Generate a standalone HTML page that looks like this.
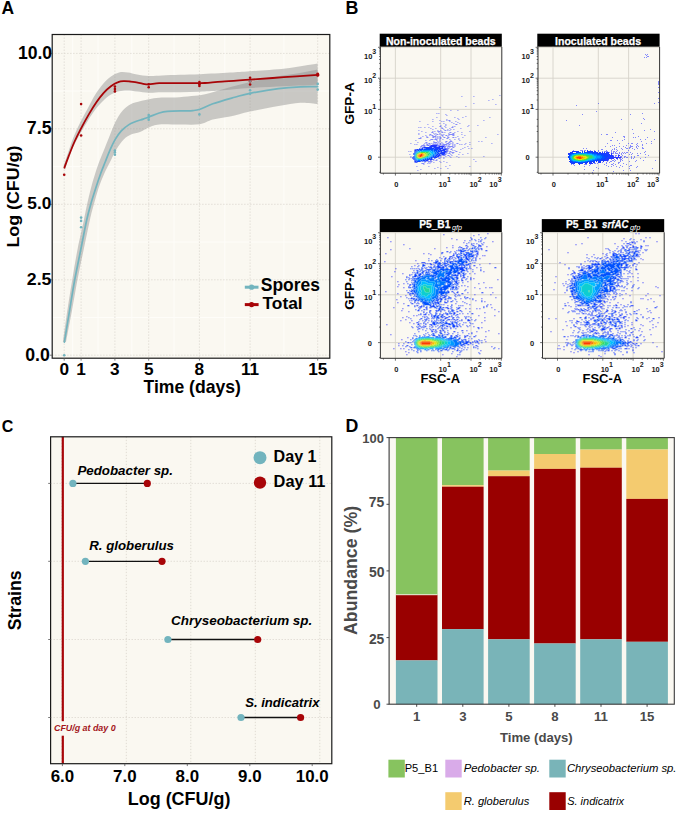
<!DOCTYPE html>
<html><head><meta charset="utf-8"><style>
html,body{margin:0;padding:0;background:#fff;}
svg{display:block;font-family:"Liberation Sans", sans-serif;}
</style></head><body>
<svg width="685" height="824" viewBox="0 0 685 824">
<rect width="685" height="824" fill="#fff"/>
<text x="1.5" y="13.6" font-size="17.46" font-weight="bold" fill="#000">A</text>
<rect x="52.2" y="34.5" width="277.6" height="323.7" fill="#faf8f1"/>
<path d="M52.2,317.5H329.8M52.2,242.0H329.8M52.2,166.6H329.8M52.2,91.1H329.8M72.7,34.5V358.2M98.0,34.5V358.2M131.8,34.5V358.2M174.1,34.5V358.2M224.8,34.5V358.2M283.9,34.5V358.2" stroke="#fefdf9" stroke-width="1" fill="none"/>
<path d="M52.2,355.2H329.8M52.2,279.8H329.8M52.2,204.3H329.8M52.2,128.8H329.8M52.2,53.4H329.8M64.2,34.5V358.2M81.1,34.5V358.2M114.9,34.5V358.2M148.7,34.5V358.2M199.4,34.5V358.2M250.1,34.5V358.2M317.7,34.5V358.2" stroke="#dcd8d0" stroke-width="0.9" stroke-dasharray="1.3,1.7" fill="none"/>
<path d="M63.6,166.0 C64.3,163.8 66.4,157.6 68.0,153.0 C69.6,148.4 71.0,143.5 73.0,138.5 C75.0,133.5 77.5,128.1 80.0,123.0 C82.5,117.9 85.5,112.7 88.0,108.0 C90.5,103.3 92.5,99.0 95.0,95.0 C97.5,91.0 100.3,87.1 103.0,84.0 C105.7,80.9 108.3,78.4 111.0,76.5 C113.7,74.6 116.3,73.2 119.1,72.5 C121.9,71.8 125.0,72.2 128.0,72.5 C131.0,72.8 133.5,73.9 137.0,74.5 C140.5,75.1 144.6,75.8 148.8,76.0 C153.0,76.2 156.8,75.7 162.0,75.5 C167.2,75.3 173.7,75.0 180.0,74.8 C186.3,74.6 191.7,74.6 200.0,74.2 C208.3,73.8 221.7,73.0 230.0,72.5 C238.3,72.0 240.8,71.9 250.0,71.2 C259.2,70.5 274.1,69.8 285.4,68.5 C296.7,67.2 312.2,64.3 317.6,63.5 L317.6,84.8 C312.2,85.0 296.3,85.8 285.0,86.3 C273.7,86.8 260.8,87.3 250.0,88.0 C239.2,88.7 228.4,90.0 220.0,90.6 C211.6,91.2 206.4,91.5 199.7,91.8 C193.0,92.1 186.3,92.1 180.0,92.2 C173.7,92.3 167.2,92.2 162.0,92.3 C156.8,92.4 153.0,92.9 148.8,92.8 C144.6,92.7 140.6,91.9 137.0,91.5 C133.4,91.1 130.0,90.5 127.0,90.5 C124.0,90.5 121.7,90.6 119.0,91.3 C116.3,92.0 113.7,92.9 111.0,94.5 C108.3,96.1 105.7,98.4 103.0,101.0 C100.3,103.6 97.5,106.8 95.0,110.0 C92.5,113.2 90.5,116.5 88.0,120.5 C85.5,124.5 82.5,129.5 80.0,134.0 C77.5,138.5 75.0,143.3 73.0,147.5 C71.0,151.7 69.3,155.3 68.0,159.0 C66.7,162.7 65.8,167.8 65.3,169.5Z" fill="#8c8c8c" fill-opacity="0.44"/>
<path d="M62.9,342.0 C63.6,336.7 65.9,320.3 67.4,310.0 C69.0,299.7 70.5,290.3 72.2,280.0 C73.9,269.7 75.8,258.0 77.8,248.0 C79.8,238.0 82.3,227.4 83.9,220.0 C85.5,212.6 86.0,209.1 87.2,203.8 C88.4,198.5 89.7,193.1 91.0,188.0 C92.3,182.9 93.8,177.9 95.2,173.5 C96.6,169.1 97.9,165.4 99.4,161.3 C100.9,157.2 102.7,153.2 104.3,149.2 C105.9,145.1 107.6,141.1 109.2,137.0 C110.8,132.9 112.2,128.7 114.0,124.9 C115.8,121.1 117.8,117.0 120.0,114.0 C122.2,111.0 124.6,108.5 127.1,106.6 C129.6,104.7 131.5,103.8 135.1,102.6 C138.7,101.4 144.8,100.1 148.8,99.3 C152.8,98.5 154.8,98.0 159.2,97.7 C163.6,97.4 169.9,97.8 175.3,97.5 C180.7,97.2 186.5,96.6 191.4,96.1 C196.3,95.6 199.6,95.5 205.0,94.3 C210.4,93.1 216.2,91.0 223.8,89.0 C231.4,87.0 241.2,84.1 250.3,82.0 C259.4,79.9 270.2,77.7 278.5,76.2 C286.8,74.7 293.5,74.1 300.0,73.0 C306.5,71.9 314.7,70.1 317.6,69.5 L317.6,104.0 C314.7,103.8 306.9,102.4 300.4,102.7 C293.9,103.0 286.9,104.5 278.5,106.0 C270.1,107.5 258.1,109.8 250.0,111.5 C241.9,113.2 236.2,115.2 230.0,116.5 C223.8,117.8 217.9,118.3 212.8,119.6 C207.8,120.9 205.2,123.5 199.7,124.3 C194.2,125.1 186.8,124.6 180.0,124.6 C173.2,124.6 164.4,123.9 159.2,124.4 C154.0,124.9 152.0,126.1 148.8,127.4 C145.6,128.7 143.0,130.8 140.0,132.0 C137.0,133.2 133.7,133.4 131.0,134.6 C128.3,135.8 126.1,137.0 123.7,139.4 C121.3,141.8 118.7,145.5 116.5,149.2 C114.3,152.8 112.4,157.2 110.4,161.3 C108.4,165.4 106.3,169.1 104.3,173.5 C102.3,177.9 100.3,182.9 98.6,188.0 C96.9,193.1 95.5,198.5 94.0,203.8 C92.5,209.1 91.6,212.3 89.9,220.0 C88.2,227.7 85.7,240.0 83.6,250.0 C81.5,260.0 79.3,270.0 77.4,280.0 C75.5,290.0 74.0,299.7 72.1,310.0 C70.2,320.3 67.0,336.7 66.0,342.0Z" fill="#8c8c8c" fill-opacity="0.44"/>
<circle cx="64.2" cy="174.7" r="1.3" fill="#a80508"/>
<circle cx="81.1" cy="104.1" r="1.3" fill="#a80508"/>
<circle cx="81.1" cy="135.5" r="1.3" fill="#a80508"/>
<circle cx="114.9" cy="86.6" r="1.3" fill="#a80508"/>
<circle cx="114.9" cy="89.0" r="1.3" fill="#a80508"/>
<circle cx="114.9" cy="91.4" r="1.3" fill="#a80508"/>
<circle cx="148.7" cy="84.2" r="1.3" fill="#a80508"/>
<circle cx="148.7" cy="87.2" r="1.3" fill="#a80508"/>
<circle cx="199.4" cy="82.1" r="1.3" fill="#a80508"/>
<circle cx="199.4" cy="84.2" r="1.3" fill="#a80508"/>
<circle cx="199.4" cy="86.0" r="1.3" fill="#a80508"/>
<circle cx="250.1" cy="77.8" r="1.3" fill="#a80508"/>
<circle cx="250.1" cy="81.2" r="1.3" fill="#a80508"/>
<circle cx="250.1" cy="84.5" r="1.3" fill="#a80508"/>
<circle cx="317.7" cy="75.1" r="1.3" fill="#a80508"/>
<circle cx="317.7" cy="73.9" r="1.3" fill="#a80508"/>
<circle cx="64.2" cy="355.2" r="1.3" fill="#72b4be"/>
<circle cx="81.1" cy="217.6" r="1.3" fill="#72b4be"/>
<circle cx="81.1" cy="220.9" r="1.3" fill="#72b4be"/>
<circle cx="81.1" cy="227.2" r="1.3" fill="#72b4be"/>
<circle cx="114.9" cy="150.6" r="1.3" fill="#72b4be"/>
<circle cx="114.9" cy="152.4" r="1.3" fill="#72b4be"/>
<circle cx="114.9" cy="154.8" r="1.3" fill="#72b4be"/>
<circle cx="148.7" cy="115.0" r="1.3" fill="#72b4be"/>
<circle cx="148.7" cy="117.4" r="1.3" fill="#72b4be"/>
<circle cx="148.7" cy="119.8" r="1.3" fill="#72b4be"/>
<circle cx="199.4" cy="114.4" r="1.3" fill="#72b4be"/>
<circle cx="250.1" cy="80.6" r="1.3" fill="#72b4be"/>
<circle cx="250.1" cy="90.2" r="1.3" fill="#72b4be"/>
<circle cx="250.1" cy="93.8" r="1.3" fill="#72b4be"/>
<circle cx="317.7" cy="83.9" r="1.3" fill="#72b4be"/>
<circle cx="317.7" cy="89.6" r="1.3" fill="#72b4be"/>
<path d="M64.4,342.1 C65.2,336.9 67.8,321.4 69.5,311.0 C71.2,300.6 72.8,290.2 74.7,280.0 C76.6,269.8 78.7,260.0 80.7,250.0 C82.7,240.0 85.0,227.7 86.7,220.0 C88.4,212.3 89.4,209.1 90.9,203.8 C92.4,198.5 94.2,193.1 95.8,188.0 C97.4,182.9 99.1,177.9 100.7,173.5 C102.3,169.1 103.9,165.4 105.5,161.3 C107.1,157.2 108.8,152.8 110.4,149.2 C112.0,145.5 113.4,142.4 115.2,139.4 C117.0,136.4 119.1,133.3 121.3,130.9 C123.5,128.5 126.3,126.4 128.6,124.9 C130.9,123.4 132.7,122.8 135.1,121.8 C137.5,120.8 140.9,119.9 143.2,119.1 C145.5,118.3 146.1,118.0 148.8,117.0 C151.5,116.0 156.1,113.9 159.2,113.0 C162.3,112.1 163.3,111.8 167.3,111.4 C171.3,111.1 179.0,111.0 183.3,110.9 C187.6,110.8 190.2,110.9 193.0,110.6 C195.8,110.3 196.7,110.3 200.0,109.2 C203.3,108.1 207.0,105.8 212.8,103.8 C218.6,101.8 228.5,99.0 234.7,97.2 C240.9,95.5 242.7,94.7 250.0,93.3 C257.3,91.9 270.1,89.7 278.5,88.6 C286.9,87.5 293.9,87.1 300.4,86.8 C306.9,86.5 314.8,86.7 317.7,86.7" stroke="#72b4be" stroke-width="1.7" fill="none" stroke-linecap="round"/>
<path d="M64.4,167.7 C65.1,165.8 67.0,160.5 68.7,156.1 C70.4,151.7 72.5,146.1 74.6,141.5 C76.7,136.9 78.7,133.0 81.1,128.4 C83.5,123.8 86.5,118.3 89.1,113.9 C91.6,109.5 94.0,105.7 96.4,102.2 C98.8,98.7 101.3,95.5 103.7,92.8 C106.1,90.1 108.5,88.0 110.9,86.2 C113.3,84.4 116.0,82.9 118.2,82.1 C120.4,81.2 122.0,81.2 124.0,81.1 C126.0,81.0 128.2,81.3 130.0,81.5 C131.8,81.7 132.9,81.8 135.1,82.2 C137.3,82.6 140.9,83.4 143.2,83.8 C145.5,84.2 146.1,84.5 148.8,84.4 C151.5,84.3 154.8,83.4 159.2,83.2 C163.6,83.0 169.9,83.1 175.3,83.1 C180.7,83.1 186.5,83.2 191.4,83.2 C196.3,83.2 199.9,83.3 205.0,83.0 C210.1,82.7 214.5,82.1 222.0,81.6 C229.5,81.0 239.7,80.4 250.0,79.7 C260.3,79.0 272.5,78.0 283.8,77.2 C295.1,76.4 312.1,75.3 317.7,74.9" stroke="#a80508" stroke-width="1.8" fill="none" stroke-linecap="round"/>
<circle cx="317.7" cy="74.9" r="1.8" fill="#a80508"/>
<rect x="52.2" y="34.5" width="277.6" height="323.7" fill="none" stroke="#1a1a1a" stroke-width="1.2"/>
<path d="M64.2,358.2v2.4M81.1,358.2v2.4M114.9,358.2v2.4M148.7,358.2v2.4M199.4,358.2v2.4M250.1,358.2v2.4M317.7,358.2v2.4M52.2,355.2h-2.4M52.2,279.8h-2.4M52.2,204.3h-2.4M52.2,128.8h-2.4M52.2,53.4h-2.4" stroke="#555" stroke-width="0.8"/>
<text x="17.9" y="58.9" font-size="17.58" font-weight="bold" fill="#000">10.0</text>
<text x="26.8" y="133.7" font-size="17.8" font-weight="bold" fill="#000">7.5</text>
<text x="27.3" y="209.4" font-size="17.31" font-weight="bold" fill="#000">5.0</text>
<text x="26.8" y="284.9" font-size="17.4" font-weight="bold" fill="#000" textLength="24.61" lengthAdjust="spacingAndGlyphs">2.5</text>
<text x="25.2" y="360.7" font-size="17.71" font-weight="bold" fill="#000">0.0</text>
<text x="64.2" y="375.1" font-size="17.2" font-weight="bold" fill="#000" text-anchor="middle">0</text>
<text x="81.1" y="375.1" font-size="17.2" font-weight="bold" fill="#000" text-anchor="middle">1</text>
<text x="114.9" y="375.1" font-size="17.2" font-weight="bold" fill="#000" text-anchor="middle">3</text>
<text x="148.7" y="375.1" font-size="17.2" font-weight="bold" fill="#000" text-anchor="middle">5</text>
<text x="199.4" y="375.1" font-size="17.2" font-weight="bold" fill="#000" text-anchor="middle">8</text>
<text x="250.1" y="375.1" font-size="17.2" font-weight="bold" fill="#000" text-anchor="middle">11</text>
<text x="317.7" y="375.1" font-size="17.2" font-weight="bold" fill="#000" text-anchor="middle">15</text>
<text x="143.5" y="392.6" font-size="17.58" font-weight="bold" fill="#000">Time (days)</text>
<text x="0" y="0" font-size="17.85" font-weight="bold" fill="#000" transform="translate(18.95 247.60) scale(0.962 1) rotate(-90)">Log (CFU/g)</text>
<path d="M244.8,287.2H258.5" stroke="#72b4be" stroke-width="3"/>
<circle cx="251.6" cy="287.2" r="2.6" fill="#72b4be"/>
<path d="M244.8,304.6H258.6" stroke="#a80508" stroke-width="3"/>
<circle cx="251.6" cy="304.6" r="2.6" fill="#a80508"/>
<text x="260.8" y="291.3" font-size="17.47" font-weight="bold" fill="#000">Spores</text>
<text x="262.5" y="309.2" font-size="17.33" font-weight="bold" fill="#000">Total</text>
<text x="1.8" y="432.0" font-size="16.03" font-weight="bold" fill="#000">C</text>
<rect x="50.6" y="436.8" width="281.2" height="326.9" fill="#faf8f1"/>
<path d="M61.8,436.8V763.7M126.3,436.8V763.7M190.8,436.8V763.7M255.3,436.8V763.7M319.8,436.8V763.7M50.6,483.4H331.8M50.6,561.3H331.8M50.6,639.5H331.8M50.6,717.5H331.8" stroke="#dcd8d0" stroke-width="0.9" stroke-dasharray="1.3,1.7" fill="none"/>
<path d="M62.8,436.8V763.7" stroke="#a80508" stroke-width="2.2"/>
<rect x="53" y="721.2" width="64" height="14.5" fill="#faf8f1"/>
<text x="54.0" y="731.1" font-size="8.89" font-weight="bold" fill="#a3151b" font-style="italic">CFU/g at day 0</text>
<path d="M72.9,483.4H147.3" stroke="#111" stroke-width="1.3"/>
<circle cx="72.9" cy="483.4" r="3.6" fill="#72b4be"/>
<circle cx="147.3" cy="483.4" r="3.6" fill="#a80508"/>
<path d="M85.4,561.3H162.0" stroke="#111" stroke-width="1.3"/>
<circle cx="85.4" cy="561.3" r="3.6" fill="#72b4be"/>
<circle cx="162.0" cy="561.3" r="3.6" fill="#a80508"/>
<path d="M167.9,639.5H257.7" stroke="#111" stroke-width="1.3"/>
<circle cx="167.9" cy="639.5" r="3.6" fill="#72b4be"/>
<circle cx="257.7" cy="639.5" r="3.6" fill="#a80508"/>
<path d="M241.0,717.5H300.6" stroke="#111" stroke-width="1.3"/>
<circle cx="241.0" cy="717.5" r="3.6" fill="#72b4be"/>
<circle cx="300.6" cy="717.5" r="3.6" fill="#a80508"/>
<text x="77.4" y="474.5" font-size="13.34" font-weight="bold" fill="#000" font-style="italic">Pedobacter sp.</text>
<text x="89.2" y="550.1" font-size="13.27" font-weight="bold" fill="#000" font-style="italic">R. globerulus</text>
<text x="171.1" y="624.9" font-size="13.45" font-weight="bold" fill="#000" font-style="italic">Chryseobacterium sp.</text>
<text x="245.2" y="707.3" font-size="13.1" font-weight="bold" fill="#000" font-style="italic">S. indicatrix</text>
<circle cx="260" cy="457.7" r="6.5" fill="#72b4be"/>
<circle cx="260" cy="482.6" r="6.2" fill="#a80508"/>
<text x="273.6" y="462.0" font-size="16.13" font-weight="bold" fill="#000">Day 1</text>
<text x="273.6" y="486.8" font-size="16.37" font-weight="bold" fill="#000">Day 11</text>
<rect x="50.6" y="436.8" width="281.2" height="326.9" fill="none" stroke="#1a1a1a" stroke-width="1.2"/>
<path d="M62.4,763.7v2.4M124.8,763.7v2.4M187.3,763.7v2.4M249.8,763.7v2.4M312.2,763.7v2.4M50.6,483.4h-2.4M50.6,561.3h-2.4M50.6,639.5h-2.4M50.6,717.5h-2.4" stroke="#555" stroke-width="0.8"/>
<text x="62.4" y="782.0" font-size="16.9" font-weight="bold" fill="#000" text-anchor="middle">6.0</text>
<text x="124.8" y="782.0" font-size="16.9" font-weight="bold" fill="#000" text-anchor="middle">7.0</text>
<text x="187.3" y="782.0" font-size="16.9" font-weight="bold" fill="#000" text-anchor="middle">8.0</text>
<text x="249.8" y="782.0" font-size="16.9" font-weight="bold" fill="#000" text-anchor="middle">9.0</text>
<text x="312.2" y="782.0" font-size="16.9" font-weight="bold" fill="#000" text-anchor="middle">10.0</text>
<text x="127.8" y="805.3" font-size="17.96" font-weight="bold" fill="#000">Log (CFU/g)</text>
<text x="0" y="0" font-size="17.68" font-weight="bold" fill="#000" transform="translate(21.01 630.33) scale(1.062 1) rotate(-90)">Strains</text>
<text x="345.4" y="432.2" font-size="17.8" font-weight="bold" fill="#000">D</text>
<rect x="389.1" y="437.6" width="285.2" height="266.6" fill="#faf8f1"/>
<rect x="395.9" y="437.6" width="41.6" height="157.2" fill="#87c35f"/>
<rect x="395.9" y="594.8" width="41.6" height="65.6" fill="#990000"/>
<rect x="395.9" y="660.4" width="41.6" height="43.8" fill="#79b4b8"/>
<rect x="442.0" y="437.6" width="41.6" height="47.6" fill="#87c35f"/>
<rect x="442.0" y="485.2" width="41.6" height="1.5" fill="#f4cb6f"/>
<rect x="442.0" y="486.7" width="41.6" height="142.4" fill="#990000"/>
<rect x="442.0" y="629.1" width="41.6" height="75.1" fill="#79b4b8"/>
<rect x="488.1" y="437.6" width="41.6" height="33.0" fill="#87c35f"/>
<rect x="488.1" y="470.6" width="41.6" height="5.6" fill="#f4cb6f"/>
<rect x="488.1" y="476.2" width="41.6" height="163.1" fill="#990000"/>
<rect x="488.1" y="639.3" width="41.6" height="64.9" fill="#79b4b8"/>
<rect x="534.1" y="437.6" width="41.6" height="16.4" fill="#87c35f"/>
<rect x="534.1" y="454.0" width="41.6" height="14.9" fill="#f4cb6f"/>
<rect x="534.1" y="468.9" width="41.6" height="174.6" fill="#990000"/>
<rect x="534.1" y="643.5" width="41.6" height="60.7" fill="#79b4b8"/>
<rect x="580.2" y="437.6" width="41.6" height="12.0" fill="#87c35f"/>
<rect x="580.2" y="449.6" width="41.6" height="18.1" fill="#f4cb6f"/>
<rect x="580.2" y="467.7" width="41.6" height="171.6" fill="#990000"/>
<rect x="580.2" y="639.3" width="41.6" height="64.9" fill="#79b4b8"/>
<rect x="626.3" y="437.6" width="41.6" height="11.9" fill="#87c35f"/>
<rect x="626.3" y="449.5" width="41.6" height="49.4" fill="#f4cb6f"/>
<rect x="626.3" y="498.9" width="41.6" height="142.9" fill="#990000"/>
<rect x="626.3" y="641.8" width="41.6" height="62.4" fill="#79b4b8"/>
<rect x="395.9" y="594.2" width="41.6" height="1" fill="#e8efd8"/>
<rect x="389.1" y="437.6" width="285.2" height="266.6" fill="none" stroke="#3a3a3a" stroke-width="1.1"/>
<path d="M389.1,704.2h-2.6M389.1,637.6h-2.6M389.1,570.9h-2.6M389.1,504.3h-2.6M389.1,437.6h-2.6M416.7,704.2v2.6M462.8,704.2v2.6M508.9,704.2v2.6M554.9,704.2v2.6M601.0,704.2v2.6M647.1,704.2v2.6" stroke="#333" stroke-width="0.9"/>
<text x="362.3" y="443.0" font-size="12.97" font-weight="bold" fill="#4a4a4a">100</text>
<text x="368.8" y="506.9" font-size="13.94" font-weight="bold" fill="#4a4a4a">75</text>
<text x="368.9" y="576.7" font-size="13.98" font-weight="bold" fill="#4a4a4a">50</text>
<text x="368.9" y="644.0" font-size="13.84" font-weight="bold" fill="#4a4a4a">25</text>
<text x="373.2" y="709.4" font-size="13.2" font-weight="bold" fill="#4a4a4a" textLength="7.38" lengthAdjust="spacingAndGlyphs">0</text>
<text x="416.7" y="720.9" font-size="13.2" font-weight="bold" fill="#4a4a4a" text-anchor="middle">1</text>
<text x="462.8" y="720.9" font-size="13.2" font-weight="bold" fill="#4a4a4a" text-anchor="middle">3</text>
<text x="508.9" y="720.9" font-size="13.2" font-weight="bold" fill="#4a4a4a" text-anchor="middle">5</text>
<text x="554.9" y="720.9" font-size="13.2" font-weight="bold" fill="#4a4a4a" text-anchor="middle">8</text>
<text x="601.0" y="720.9" font-size="13.2" font-weight="bold" fill="#4a4a4a" text-anchor="middle">11</text>
<text x="647.1" y="720.9" font-size="13.2" font-weight="bold" fill="#4a4a4a" text-anchor="middle">15</text>
<text x="500.0" y="742.2" font-size="13.13" font-weight="bold" fill="#4a4a4a">Time (days)</text>
<text x="0" y="0" font-size="17.74" font-weight="bold" fill="#4a4a4a" transform="translate(356.87 634.94) scale(0.985 1) rotate(-90)">Abundance (%)</text>
<rect x="388.4" y="759.7" width="16.4" height="17.8" fill="#87c35f"/>
<rect x="445.3" y="759.7" width="16.4" height="17.8" fill="#d9abe9"/>
<rect x="549.3" y="759.7" width="16.4" height="17.8" fill="#79b4b8"/>
<rect x="445.3" y="792.2" width="16.4" height="17.8" fill="#f4cb6f"/>
<rect x="549.3" y="792.2" width="16.4" height="17.8" fill="#990000"/>
<text x="404.7" y="772.0" font-size="11.14" font-weight="normal" fill="#000">P5_B1</text>
<text x="463.7" y="772.0" font-size="11.33" font-weight="normal" fill="#000" font-style="italic">Pedobacter sp.</text>
<text x="566.9" y="772.0" font-size="11.27" font-weight="normal" fill="#000" font-style="italic">Chryseobacterium sp.</text>
<text x="463.7" y="804.6" font-size="11.14" font-weight="normal" fill="#000" font-style="italic">R. globerulus</text>
<text x="567.2" y="804.6" font-size="10.99" font-weight="normal" fill="#000" font-style="italic">S. indicatrix</text>
<text x="345.4" y="13.7" font-size="17.87" font-weight="bold" fill="#000">B</text>
<filter id="bl" x="-5%" y="-5%" width="110%" height="110%"><feGaussianBlur stdDeviation="0.38"/></filter>
<rect x="379.7" y="33.7" width="122.1" height="13.2" fill="#000"/>
<rect x="380.4" y="46.9" width="121.4" height="126.3" fill="#faf8f1"/>
<text x="386.0" y="44.7" font-size="10.51" font-weight="bold" fill="#fff" stroke="#fff" stroke-width="0.25">Non-inoculated beads</text>
<path d="M395.4,46.9V173.2M440.7,46.9V173.2M471.0,46.9V173.2M380.4,47.3H501.8M380.4,78.2H501.8M380.4,109.4H501.8M380.4,157.2H501.8" stroke="#d6d2cb" stroke-width="0.9" fill="none"/>
<g filter="url(#bl)">
<path d="M499.4 94.9h1v1h-1zM461.4 95.9h1v1h-1zM473.4 95.9h1v1h-1zM492.4 98.9h1v1h-1zM488.4 99.9h1v1h-1zM473.4 102.9h1v1h-1zM495.4 103.9h1v1h-1zM465.4 105.9h1v1h-1zM439.4 106.9h1v1h-1zM450.4 109.9h1v1h-1zM457.4 109.9h1v1h-1zM436.4 112.9h1v1h-1zM438.4 112.9h1v1h-1zM445.4 113.9h1v1h-1zM446.4 114.9h1v1h-1zM465.4 115.9h1v1h-1zM436.4 116.9h1v1h-1zM454.4 116.9h1v1h-1zM462.4 116.9h1v1h-1zM489.4 116.9h1v1h-1zM457.4 117.9h1v1h-1zM432.4 118.9h1v1h-1zM446.4 118.9h1v1h-1zM458.4 118.9h1v1h-1zM439.4 119.9h1v1h-1zM446.4 119.9h1v1h-1zM448.4 119.9h2v1h-2zM483.4 119.9h1v1h-1zM419.4 120.9h1v1h-1zM432.4 120.9h1v1h-1zM441.4 120.9h1v1h-1zM443.4 120.9h1v1h-1zM449.4 120.9h1v1h-1zM455.4 120.9h1v1h-1zM451.4 121.9h1v1h-1zM457.4 121.9h1v1h-1zM439.4 122.9h1v1h-1zM443.4 122.9h1v1h-1zM453.4 122.9h1v1h-1zM459.4 122.9h1v1h-1zM427.4 123.9h1v1h-1zM445.4 123.9h1v1h-1zM455.4 123.9h2v1h-2zM440.4 124.9h1v1h-1zM445.4 124.9h1v1h-1zM468.4 124.9h1v1h-1zM477.4 124.9h1v1h-1zM432.4 125.9h1v1h-1zM439.4 125.9h2v1h-2zM444.4 125.9h1v1h-1zM452.4 125.9h1v1h-1zM454.4 125.9h1v1h-1zM467.4 125.9h1v1h-1zM418.4 126.9h1v1h-1zM420.4 126.9h1v1h-1zM424.4 126.9h1v1h-1zM428.4 126.9h1v1h-1zM441.4 126.9h1v1h-1zM445.4 126.9h1v1h-1zM451.4 126.9h2v1h-2zM430.4 127.9h1v1h-1zM435.4 127.9h1v1h-1zM441.4 127.9h2v1h-2zM449.4 127.9h1v1h-1zM460.4 127.9h1v1h-1zM432.4 128.9h1v1h-1zM443.4 128.9h1v1h-1zM447.4 128.9h1v1h-1zM450.4 128.9h1v1h-1zM453.4 128.9h1v1h-1zM418.4 129.9h1v1h-1zM437.4 129.9h1v1h-1zM440.4 129.9h1v1h-1zM444.4 129.9h2v1h-2zM447.4 129.9h1v1h-1zM449.4 129.9h1v1h-1zM421.4 130.9h1v1h-1zM432.4 130.9h1v1h-1zM434.4 130.9h1v1h-1zM437.4 130.9h3v1h-3zM441.4 130.9h1v1h-1zM457.4 130.9h1v1h-1zM469.4 130.9h1v1h-1zM425.4 131.9h1v1h-1zM431.4 131.9h2v1h-2zM438.4 131.9h1v1h-1zM441.4 131.9h2v1h-2zM444.4 131.9h1v1h-1zM449.4 131.9h2v1h-2zM454.4 131.9h1v1h-1zM461.4 131.9h1v1h-1zM418.4 132.9h1v1h-1zM433.4 132.9h1v1h-1zM435.4 132.9h1v1h-1zM439.4 132.9h1v1h-1zM448.4 132.9h1v1h-1zM452.4 132.9h2v1h-2zM418.4 133.9h1v1h-1zM429.4 133.9h2v1h-2zM434.4 133.9h1v1h-1zM436.4 133.9h2v1h-2zM439.4 133.9h1v1h-1zM441.4 133.9h1v1h-1zM443.4 133.9h1v1h-1zM448.4 133.9h6v1h-6zM461.4 133.9h1v1h-1zM497.4 133.9h1v1h-1zM425.4 134.9h1v1h-1zM429.4 134.9h1v1h-1zM431.4 134.9h2v1h-2zM435.4 134.9h1v1h-1zM441.4 134.9h2v1h-2zM445.4 134.9h2v1h-2zM448.4 134.9h1v1h-1zM452.4 134.9h2v1h-2zM464.4 134.9h1v1h-1zM422.4 135.9h1v1h-1zM426.4 135.9h1v1h-1zM432.4 135.9h4v1h-4zM437.4 135.9h1v1h-1zM439.4 135.9h1v1h-1zM442.4 135.9h1v1h-1zM447.4 135.9h1v1h-1zM457.4 135.9h1v1h-1zM420.4 136.9h1v1h-1zM426.4 136.9h2v1h-2zM432.4 136.9h2v1h-2zM435.4 136.9h1v1h-1zM437.4 136.9h1v1h-1zM439.4 136.9h2v1h-2zM443.4 136.9h2v1h-2zM447.4 136.9h2v1h-2zM452.4 136.9h2v1h-2zM455.4 136.9h1v1h-1zM462.4 136.9h1v1h-1zM485.4 136.9h1v1h-1zM418.4 137.9h3v1h-3zM435.4 137.9h1v1h-1zM437.4 137.9h1v1h-1zM439.4 137.9h2v1h-2zM446.4 137.9h2v1h-2zM458.4 137.9h1v1h-1zM430.4 138.9h3v1h-3zM434.4 138.9h3v1h-3zM439.4 138.9h1v1h-1zM442.4 138.9h1v1h-1zM449.4 138.9h1v1h-1zM454.4 138.9h1v1h-1zM458.4 138.9h1v1h-1zM415.4 139.9h1v1h-1zM425.4 139.9h1v1h-1zM429.4 139.9h1v1h-1zM436.4 139.9h1v1h-1zM439.4 139.9h1v1h-1zM450.4 139.9h1v1h-1zM459.4 139.9h1v1h-1zM433.4 140.9h1v1h-1zM437.4 140.9h1v1h-1zM439.4 140.9h1v1h-1zM445.4 140.9h2v1h-2zM449.4 140.9h3v1h-3zM478.4 140.9h1v1h-1zM481.4 140.9h1v1h-1zM417.4 141.9h1v1h-1zM425.4 141.9h2v1h-2zM433.4 141.9h4v1h-4zM438.4 141.9h1v1h-1zM441.4 141.9h1v1h-1zM445.4 141.9h1v1h-1zM448.4 141.9h2v1h-2zM452.4 141.9h1v1h-1zM469.4 141.9h1v1h-1zM410.4 142.9h1v1h-1zM424.4 142.9h1v1h-1zM426.4 142.9h1v1h-1zM428.4 142.9h2v1h-2zM431.4 142.9h1v1h-1zM433.4 142.9h1v1h-1zM435.4 142.9h1v1h-1zM437.4 142.9h1v1h-1zM439.4 142.9h2v1h-2zM442.4 142.9h1v1h-1zM446.4 142.9h3v1h-3zM450.4 142.9h1v1h-1zM452.4 142.9h1v1h-1zM456.4 142.9h2v1h-2zM465.4 142.9h1v1h-1zM491.4 142.9h1v1h-1zM414.4 143.9h1v1h-1zM416.4 143.9h1v1h-1zM423.4 143.9h1v1h-1zM426.4 143.9h2v1h-2zM429.4 143.9h1v1h-1zM432.4 143.9h6v1h-6zM439.4 143.9h2v1h-2zM442.4 143.9h5v1h-5zM448.4 143.9h2v1h-2zM452.4 143.9h1v1h-1zM454.4 143.9h1v1h-1zM459.4 143.9h1v1h-1zM461.4 143.9h1v1h-1zM464.4 143.9h1v1h-1zM469.4 143.9h1v1h-1zM421.4 144.9h4v1h-4zM426.4 144.9h2v1h-2zM437.4 144.9h3v1h-3zM441.4 144.9h4v1h-4zM446.4 144.9h1v1h-1zM448.4 144.9h1v1h-1zM452.4 144.9h1v1h-1zM454.4 144.9h1v1h-1zM420.4 145.9h2v1h-2zM423.4 145.9h2v1h-2zM444.4 145.9h2v1h-2zM447.4 145.9h6v1h-6zM454.4 145.9h1v1h-1zM467.4 145.9h1v1h-1zM420.4 146.9h1v1h-1zM447.4 146.9h1v1h-1zM449.4 146.9h1v1h-1zM452.4 146.9h2v1h-2zM464.4 146.9h1v1h-1zM446.4 147.9h3v1h-3zM451.4 147.9h1v1h-1zM462.4 147.9h1v1h-1zM468.4 147.9h1v1h-1zM471.4 147.9h1v1h-1zM414.4 148.9h1v1h-1zM447.4 148.9h1v1h-1zM450.4 148.9h2v1h-2zM460.4 148.9h1v1h-1zM447.4 149.9h1v1h-1zM452.4 149.9h1v1h-1zM454.4 149.9h1v1h-1zM408.4 150.9h1v1h-1zM410.4 150.9h1v1h-1zM447.4 150.9h1v1h-1zM449.4 150.9h2v1h-2zM455.4 150.9h2v1h-2zM446.4 151.9h1v1h-1zM449.4 151.9h1v1h-1zM451.4 151.9h3v1h-3zM459.4 151.9h1v1h-1zM446.4 152.9h1v1h-1zM448.4 152.9h2v1h-2zM452.4 152.9h1v1h-1zM467.4 152.9h1v1h-1zM409.4 153.9h1v1h-1zM445.4 153.9h1v1h-1zM450.4 153.9h1v1h-1zM458.4 153.9h1v1h-1zM462.4 153.9h1v1h-1zM442.4 154.9h3v1h-3zM447.4 154.9h2v1h-2zM451.4 154.9h1v1h-1zM410.4 155.9h1v1h-1zM440.4 155.9h1v1h-1zM445.4 155.9h1v1h-1zM449.4 155.9h1v1h-1zM456.4 155.9h1v1h-1zM483.4 155.9h1v1h-1zM410.4 156.9h1v1h-1zM438.4 156.9h1v1h-1zM440.4 156.9h1v1h-1zM443.4 156.9h1v1h-1zM450.4 156.9h1v1h-1zM458.4 156.9h1v1h-1zM438.4 157.9h2v1h-2zM443.4 157.9h1v1h-1zM433.4 158.9h1v1h-1zM436.4 158.9h1v1h-1zM473.4 158.9h1v1h-1zM433.4 159.9h1v1h-1zM435.4 159.9h2v1h-2zM427.4 160.9h5v1h-5zM439.4 160.9h1v1h-1zM443.4 160.9h1v1h-1zM475.4 160.9h1v1h-1zM414.4 161.9h1v1h-1zM424.4 161.9h1v1h-1zM428.4 161.9h1v1h-1zM430.4 161.9h1v1h-1zM433.4 161.9h1v1h-1zM440.4 161.9h1v1h-1zM446.4 161.9h1v1h-1zM421.4 162.9h3v1h-3zM427.4 162.9h1v1h-1zM429.4 162.9h1v1h-1zM423.4 163.9h1v1h-1zM449.4 164.9h1v1h-1zM416.4 165.9h1v1h-1zM428.4 165.9h1v1h-1zM445.4 165.9h1v1h-1zM469.4 165.9h1v1h-1zM437.4 166.9h1v1h-1zM434.4 167.9h1v1h-1zM440.4 167.9h1v1h-1zM447.4 167.9h1v1h-1zM420.4 168.9h1v1h-1zM417.4 169.9h1v1h-1z" fill="#3c46ff" fill-opacity="0.62"/>
<path d="M428.4 144.9h1v1h-1zM430.4 144.9h7v1h-7zM436.4 145.9h1v1h-1zM438.4 145.9h6v1h-6zM422.4 146.9h1v1h-1zM444.4 146.9h1v1h-1zM445.4 147.9h1v1h-1zM415.4 148.9h1v1h-1zM446.4 148.9h1v1h-1zM446.4 149.9h1v1h-1zM446.4 150.9h1v1h-1zM445.4 151.9h1v1h-1zM444.4 153.9h1v1h-1zM440.4 154.9h1v1h-1zM412.4 157.9h1v1h-1zM432.4 158.9h1v1h-1zM430.4 159.9h1v1h-1zM425.4 160.9h1v1h-1zM415.4 161.9h1v1h-1z" fill="#2a35ff"/>
<path d="M429.4 145.9h7v1h-7zM423.4 146.9h9v1h-9zM433.4 146.9h7v1h-7zM441.4 146.9h2v1h-2zM419.4 147.9h1v1h-1zM421.4 147.9h2v1h-2zM424.4 147.9h1v1h-1zM434.4 147.9h9v1h-9zM444.4 147.9h1v1h-1zM416.4 148.9h2v1h-2zM438.4 148.9h3v1h-3zM442.4 148.9h4v1h-4zM414.4 149.9h2v1h-2zM439.4 149.9h6v1h-6zM414.4 150.9h1v1h-1zM440.4 150.9h2v1h-2zM443.4 150.9h3v1h-3zM440.4 151.9h5v1h-5zM413.4 152.9h1v1h-1zM439.4 152.9h6v1h-6zM438.4 153.9h2v1h-2zM441.4 153.9h3v1h-3zM437.4 154.9h3v1h-3zM436.4 155.9h3v1h-3zM412.4 156.9h1v1h-1zM433.4 156.9h4v1h-4zM434.4 157.9h1v1h-1zM413.4 158.9h1v1h-1zM429.4 158.9h3v1h-3zM414.4 159.9h1v1h-1zM425.4 159.9h3v1h-3zM414.4 160.9h2v1h-2zM420.4 160.9h1v1h-1zM422.4 160.9h1v1h-1zM424.4 160.9h1v1h-1zM416.4 161.9h1v1h-1z" fill="#1a3bff"/>
<path d="M425.4 147.9h9v1h-9zM418.4 148.9h5v1h-5zM433.4 148.9h5v1h-5zM416.4 149.9h1v1h-1zM437.4 149.9h2v1h-2zM415.4 150.9h1v1h-1zM437.4 150.9h3v1h-3zM414.4 151.9h1v1h-1zM438.4 151.9h1v1h-1zM437.4 152.9h2v1h-2zM413.4 153.9h1v1h-1zM436.4 153.9h2v1h-2zM435.4 154.9h2v1h-2zM413.4 155.9h1v1h-1zM434.4 155.9h2v1h-2zM413.4 156.9h1v1h-1zM432.4 156.9h1v1h-1zM413.4 157.9h1v1h-1zM430.4 157.9h2v1h-2zM414.4 158.9h1v1h-1zM426.4 158.9h3v1h-3zM415.4 159.9h1v1h-1zM422.4 159.9h3v1h-3zM416.4 160.9h4v1h-4z" fill="#0a41ff"/>
<path d="M423.4 148.9h10v1h-10zM417.4 149.9h2v1h-2zM433.4 149.9h4v1h-4zM435.4 150.9h2v1h-2zM436.4 151.9h2v1h-2zM414.4 152.9h1v1h-1zM436.4 152.9h1v1h-1zM435.4 153.9h1v1h-1zM434.4 154.9h1v1h-1zM432.4 155.9h2v1h-2zM430.4 156.9h2v1h-2zM414.4 157.9h1v1h-1zM428.4 157.9h2v1h-2zM424.4 158.9h2v1h-2zM416.4 159.9h1v1h-1zM420.4 159.9h2v1h-2z" fill="#0051ff"/>
<path d="M419.4 149.9h3v1h-3zM430.4 149.9h3v1h-3zM416.4 150.9h1v1h-1zM433.4 150.9h2v1h-2zM415.4 151.9h1v1h-1zM434.4 151.9h2v1h-2zM434.4 152.9h2v1h-2zM414.4 153.9h1v1h-1zM434.4 153.9h1v1h-1zM414.4 154.9h1v1h-1zM432.4 154.9h2v1h-2zM414.4 155.9h1v1h-1zM431.4 155.9h1v1h-1zM414.4 156.9h1v1h-1zM429.4 156.9h1v1h-1zM426.4 157.9h2v1h-2zM415.4 158.9h1v1h-1zM422.4 158.9h2v1h-2zM417.4 159.9h3v1h-3z" fill="#0076ff"/>
<path d="M422.4 149.9h8v1h-8zM417.4 150.9h1v1h-1zM431.4 150.9h2v1h-2zM416.4 151.9h1v1h-1zM433.4 151.9h1v1h-1zM415.4 152.9h1v1h-1zM433.4 152.9h1v1h-1zM432.4 153.9h2v1h-2zM431.4 154.9h1v1h-1zM430.4 155.9h1v1h-1zM428.4 156.9h1v1h-1zM415.4 157.9h1v1h-1zM424.4 157.9h2v1h-2zM416.4 158.9h1v1h-1zM421.4 158.9h1v1h-1z" fill="#009aff"/>
<path d="M418.4 150.9h2v1h-2zM429.4 150.9h2v1h-2zM430.4 151.9h3v1h-3zM431.4 152.9h2v1h-2zM415.4 153.9h1v1h-1zM431.4 153.9h1v1h-1zM430.4 154.9h1v1h-1zM429.4 155.9h1v1h-1zM415.4 156.9h1v1h-1zM426.4 156.9h2v1h-2zM423.4 157.9h1v1h-1zM417.4 158.9h4v1h-4z" fill="#00bfff"/>
<path d="M420.4 150.9h9v1h-9zM417.4 151.9h1v1h-1zM429.4 151.9h1v1h-1zM430.4 152.9h1v1h-1zM429.4 153.9h2v1h-2zM415.4 154.9h1v1h-1zM429.4 154.9h1v1h-1zM415.4 155.9h1v1h-1zM428.4 155.9h1v1h-1zM425.4 156.9h1v1h-1zM416.4 157.9h1v1h-1zM422.4 157.9h1v1h-1z" fill="#0eced1"/>
<path d="M418.4 151.9h1v1h-1zM428.4 151.9h1v1h-1zM416.4 152.9h1v1h-1zM428.4 152.9h2v1h-2zM428.4 154.9h1v1h-1zM426.4 155.9h2v1h-2zM424.4 156.9h1v1h-1zM417.4 157.9h1v1h-1zM421.4 157.9h1v1h-1z" fill="#21d598"/>
<path d="M419.4 151.9h1v1h-1zM425.4 151.9h3v1h-3zM417.4 152.9h1v1h-1zM427.4 152.9h1v1h-1zM416.4 153.9h1v1h-1zM427.4 153.9h2v1h-2zM427.4 154.9h1v1h-1zM425.4 155.9h1v1h-1zM416.4 156.9h1v1h-1zM423.4 156.9h1v1h-1zM418.4 157.9h1v1h-1zM420.4 157.9h1v1h-1z" fill="#34dd5e"/>
<path d="M420.4 151.9h5v1h-5zM426.4 152.9h1v1h-1zM426.4 153.9h1v1h-1zM416.4 154.9h1v1h-1zM426.4 154.9h1v1h-1zM416.4 155.9h1v1h-1zM424.4 155.9h1v1h-1zM422.4 156.9h1v1h-1zM419.4 157.9h1v1h-1z" fill="#62e237"/>
<path d="M418.4 152.9h1v1h-1zM424.4 152.9h2v1h-2zM425.4 153.9h1v1h-1zM425.4 154.9h1v1h-1zM417.4 156.9h1v1h-1zM421.4 156.9h1v1h-1z" fill="#a4e31f"/>
<path d="M419.4 152.9h1v1h-1zM423.4 152.9h1v1h-1zM417.4 153.9h1v1h-1zM424.4 153.9h1v1h-1zM424.4 154.9h1v1h-1zM417.4 155.9h1v1h-1zM423.4 155.9h1v1h-1zM418.4 156.9h1v1h-1zM420.4 156.9h1v1h-1z" fill="#e6e507"/>
<path d="M420.4 152.9h3v1h-3zM418.4 153.9h1v1h-1zM423.4 153.9h1v1h-1zM417.4 154.9h1v1h-1zM423.4 154.9h1v1h-1zM422.4 155.9h1v1h-1zM419.4 156.9h1v1h-1z" fill="#fbba00"/>
<path d="M419.4 153.9h1v1h-1zM422.4 153.9h1v1h-1zM418.4 154.9h1v1h-1zM422.4 154.9h1v1h-1zM418.4 155.9h1v1h-1zM421.4 155.9h1v1h-1z" fill="#fc7b00"/>
<path d="M420.4 153.9h2v1h-2zM419.4 154.9h3v1h-3zM419.4 155.9h2v1h-2z" fill="#fe3d00"/>
</g>
<path d="M380.4,46.9V173.2H501.8V46.9" stroke="#333" stroke-width="1" fill="none"/>
<path d="M380.4,47.3h-2.4M380.4,78.2h-2.4M380.4,109.4h-2.4M380.4,157.2h-2.4M380.4,68.8h-1.3M380.4,63.4h-1.3M380.4,59.5h-1.3M380.4,56.5h-1.3M380.4,54.0h-1.3M380.4,51.9h-1.3M380.4,50.1h-1.3M380.4,48.5h-1.3M380.4,100.0h-1.3M380.4,94.6h-1.3M380.4,90.7h-1.3M380.4,87.7h-1.3M380.4,85.2h-1.3M380.4,83.1h-1.3M380.4,81.3h-1.3M380.4,79.7h-1.3M380.4,119.4h-1.3M380.4,126.2h-1.3M380.4,131.5h-1.3M380.4,141.7h-1.3M380.4,172.3h-1.3M395.4,173.2v2.4M440.7,173.2v2.4M471.0,173.2v2.4M501.3,173.2v2.4M449.8,173.2v1.3M455.2,173.2v1.3M458.9,173.2v1.3M461.9,173.2v1.3M464.3,173.2v1.3M466.3,173.2v1.3M468.1,173.2v1.3M469.6,173.2v1.3M480.1,173.2v1.3M485.5,173.2v1.3M489.2,173.2v1.3M492.2,173.2v1.3M494.6,173.2v1.3M496.6,173.2v1.3M498.4,173.2v1.3M499.9,173.2v1.3M383.4,173.2v1.3M410.4,173.2v1.3M420.4,173.2v1.3M426.4,173.2v1.3M431.4,173.2v1.3M435.4,173.2v1.3" stroke="#333" stroke-width="0.7"/>
<text x="364.0" y="58.6" font-size="7.5" font-weight="bold" fill="#1a1a1a">10<tspan font-size="7" dy="-5">3</tspan></text>
<text x="364.0" y="83.1" font-size="7.5" font-weight="bold" fill="#1a1a1a">10<tspan font-size="7" dy="-5">2</tspan></text>
<text x="364.0" y="114.2" font-size="7.5" font-weight="bold" fill="#1a1a1a">10<tspan font-size="7" dy="-5">1</tspan></text>
<text x="367.8" y="160.3" font-size="7.5" font-weight="bold" fill="#1a1a1a">0</text>
<text x="394.2" y="186.5" font-size="7.5" font-weight="bold" fill="#1a1a1a">0</text>
<text x="438.6" y="186.5" font-size="7.5" font-weight="bold" fill="#1a1a1a">10<tspan font-size="7" dy="-5">1</tspan></text>
<text x="469.4" y="186.5" font-size="7.5" font-weight="bold" fill="#1a1a1a">10<tspan font-size="7" dy="-5">2</tspan></text>
<text x="489.3" y="186.5" font-size="7.5" font-weight="bold" fill="#1a1a1a">10<tspan font-size="7" dy="-5">3</tspan></text>
<text x="0" y="0" font-size="13.54" font-weight="bold" fill="#000" transform="translate(353.56 124.44) scale(1.002 1) rotate(-90)">GFP-A</text>
<rect x="537.3" y="33.7" width="122.3" height="13.2" fill="#000"/>
<rect x="538.0" y="46.9" width="121.6" height="126.3" fill="#faf8f1"/>
<text x="555.1" y="44.7" font-size="10.52" font-weight="bold" fill="#fff" stroke="#fff" stroke-width="0.25">Inoculated beads</text>
<path d="M553.0,46.9V173.2M598.3,46.9V173.2M628.6,46.9V173.2M538.0,47.3H659.6M538.0,78.2H659.6M538.0,109.4H659.6M538.0,157.2H659.6" stroke="#d6d2cb" stroke-width="0.9" fill="none"/>
<g filter="url(#bl)">
<path d="M645.0 53.9h1v1h-1zM647.0 53.9h1v1h-1zM646.0 54.9h1v1h-1zM647.0 55.9h2v1h-2zM644.0 56.9h1v1h-1zM646.0 56.9h1v1h-1zM658.0 80.9h1v1h-1zM658.0 81.9h1v1h-1zM658.0 82.9h1v1h-1zM658.0 83.9h1v1h-1zM658.0 86.9h1v1h-1zM658.0 91.9h1v1h-1zM658.0 97.9h1v1h-1zM658.0 101.9h1v1h-1zM598.0 102.9h1v1h-1zM654.0 102.9h1v1h-1zM576.0 104.9h1v1h-1zM596.0 110.9h1v1h-1zM642.0 112.9h1v1h-1zM582.0 113.9h1v1h-1zM630.0 113.9h1v1h-1zM643.0 117.9h1v1h-1zM621.0 118.9h1v1h-1zM644.0 118.9h1v1h-1zM566.0 119.9h1v1h-1zM641.0 122.9h1v1h-1zM579.0 124.9h1v1h-1zM632.0 128.9h1v1h-1zM650.0 128.9h1v1h-1zM644.0 129.9h1v1h-1zM654.0 130.9h1v1h-1zM615.0 131.9h1v1h-1zM633.0 132.9h1v1h-1zM601.0 133.9h1v1h-1zM606.0 133.9h2v1h-2zM623.0 135.9h2v1h-2zM638.0 135.9h1v1h-1zM612.0 136.9h1v1h-1zM624.0 136.9h1v1h-1zM633.0 136.9h1v1h-1zM635.0 136.9h1v1h-1zM647.0 136.9h1v1h-1zM624.0 138.9h1v1h-1zM640.0 138.9h1v1h-1zM645.0 138.9h1v1h-1zM654.0 138.9h1v1h-1zM610.0 139.9h2v1h-2zM617.0 139.9h1v1h-1zM622.0 139.9h1v1h-1zM641.0 140.9h1v1h-1zM651.0 140.9h1v1h-1zM607.0 142.9h1v1h-1zM619.0 142.9h1v1h-1zM628.0 142.9h1v1h-1zM631.0 142.9h2v1h-2zM637.0 142.9h1v1h-1zM646.0 142.9h1v1h-1zM651.0 142.9h1v1h-1zM636.0 143.9h1v1h-1zM642.0 143.9h1v1h-1zM612.0 144.9h1v1h-1zM614.0 144.9h1v1h-1zM626.0 144.9h1v1h-1zM630.0 144.9h1v1h-1zM637.0 144.9h1v1h-1zM642.0 144.9h1v1h-1zM605.0 145.9h1v1h-1zM610.0 145.9h1v1h-1zM619.0 145.9h1v1h-1zM623.0 145.9h1v1h-1zM630.0 145.9h3v1h-3zM636.0 145.9h1v1h-1zM638.0 145.9h1v1h-1zM616.0 146.9h1v1h-1zM625.0 146.9h1v1h-1zM629.0 146.9h2v1h-2zM636.0 146.9h1v1h-1zM642.0 146.9h1v1h-1zM583.0 147.9h1v1h-1zM586.0 147.9h1v1h-1zM614.0 147.9h1v1h-1zM621.0 147.9h1v1h-1zM626.0 147.9h2v1h-2zM629.0 147.9h1v1h-1zM632.0 147.9h1v1h-1zM637.0 147.9h1v1h-1zM642.0 147.9h2v1h-2zM601.0 148.9h2v1h-2zM612.0 148.9h1v1h-1zM614.0 148.9h1v1h-1zM616.0 148.9h1v1h-1zM622.0 148.9h1v1h-1zM634.0 148.9h1v1h-1zM573.0 149.9h1v1h-1zM580.0 149.9h3v1h-3zM584.0 149.9h2v1h-2zM590.0 149.9h1v1h-1zM594.0 149.9h1v1h-1zM598.0 149.9h1v1h-1zM606.0 149.9h1v1h-1zM611.0 149.9h1v1h-1zM617.0 149.9h1v1h-1zM628.0 149.9h1v1h-1zM598.0 150.9h1v1h-1zM602.0 150.9h1v1h-1zM604.0 150.9h4v1h-4zM611.0 150.9h1v1h-1zM613.0 150.9h2v1h-2zM616.0 150.9h1v1h-1zM645.0 150.9h1v1h-1zM609.0 151.9h1v1h-1zM611.0 151.9h1v1h-1zM613.0 151.9h1v1h-1zM615.0 151.9h1v1h-1zM619.0 151.9h1v1h-1zM622.0 151.9h1v1h-1zM624.0 151.9h1v1h-1zM626.0 151.9h2v1h-2zM630.0 151.9h1v1h-1zM644.0 151.9h1v1h-1zM612.0 152.9h2v1h-2zM615.0 152.9h3v1h-3zM619.0 152.9h1v1h-1zM621.0 152.9h1v1h-1zM623.0 152.9h1v1h-1zM625.0 152.9h1v1h-1zM632.0 152.9h1v1h-1zM637.0 152.9h1v1h-1zM640.0 152.9h1v1h-1zM618.0 153.9h1v1h-1zM621.0 153.9h1v1h-1zM629.0 153.9h1v1h-1zM631.0 153.9h1v1h-1zM645.0 153.9h1v1h-1zM613.0 154.9h1v1h-1zM615.0 154.9h2v1h-2zM622.0 154.9h1v1h-1zM637.0 154.9h2v1h-2zM648.0 154.9h1v1h-1zM615.0 155.9h1v1h-1zM620.0 155.9h2v1h-2zM624.0 155.9h2v1h-2zM631.0 155.9h1v1h-1zM634.0 155.9h1v1h-1zM621.0 156.9h1v1h-1zM624.0 156.9h1v1h-1zM626.0 156.9h2v1h-2zM631.0 156.9h1v1h-1zM634.0 156.9h1v1h-1zM645.0 156.9h1v1h-1zM619.0 157.9h2v1h-2zM622.0 157.9h1v1h-1zM631.0 157.9h1v1h-1zM633.0 157.9h1v1h-1zM640.0 157.9h1v1h-1zM611.0 158.9h1v1h-1zM614.0 158.9h1v1h-1zM617.0 158.9h1v1h-1zM620.0 158.9h2v1h-2zM608.0 159.9h1v1h-1zM612.0 159.9h2v1h-2zM615.0 159.9h1v1h-1zM620.0 159.9h1v1h-1zM622.0 159.9h1v1h-1zM636.0 159.9h1v1h-1zM643.0 159.9h1v1h-1zM655.0 159.9h1v1h-1zM607.0 160.9h1v1h-1zM610.0 160.9h2v1h-2zM614.0 160.9h1v1h-1zM620.0 160.9h1v1h-1zM629.0 160.9h1v1h-1zM635.0 160.9h1v1h-1zM602.0 161.9h1v1h-1zM606.0 161.9h1v1h-1zM609.0 161.9h1v1h-1zM618.0 161.9h2v1h-2zM594.0 162.9h2v1h-2zM597.0 162.9h1v1h-1zM606.0 162.9h1v1h-1zM613.0 162.9h1v1h-1zM618.0 162.9h1v1h-1zM623.0 162.9h1v1h-1zM571.0 163.9h1v1h-1zM573.0 163.9h1v1h-1zM584.0 163.9h3v1h-3zM590.0 163.9h1v1h-1zM604.0 163.9h1v1h-1zM611.0 163.9h2v1h-2zM615.0 163.9h1v1h-1zM626.0 163.9h1v1h-1zM574.0 164.9h1v1h-1zM589.0 164.9h1v1h-1zM606.0 164.9h1v1h-1zM613.0 164.9h1v1h-1zM620.0 164.9h1v1h-1zM630.0 164.9h2v1h-2zM584.0 165.9h1v1h-1zM608.0 165.9h1v1h-1zM611.0 165.9h1v1h-1zM616.0 165.9h1v1h-1zM622.0 165.9h1v1h-1zM629.0 165.9h1v1h-1zM637.0 165.9h1v1h-1zM596.0 166.9h1v1h-1zM619.0 166.9h1v1h-1zM636.0 166.9h1v1h-1zM598.0 167.9h1v1h-1zM629.0 167.9h1v1h-1zM652.0 167.9h1v1h-1zM584.0 168.9h1v1h-1zM593.0 169.9h1v1h-1zM623.0 169.9h1v1h-1zM630.0 169.9h1v1h-1zM613.0 170.9h1v1h-1zM592.0 171.9h1v1h-1z" fill="#3c46ff" fill-opacity="0.62"/>
<path d="M587.0 149.9h1v1h-1zM572.0 150.9h1v1h-1zM608.0 151.9h1v1h-1zM568.0 152.9h1v1h-1zM611.0 152.9h1v1h-1zM612.0 154.9h1v1h-1zM618.0 154.9h2v1h-2zM613.0 155.9h1v1h-1zM618.0 155.9h1v1h-1zM613.0 156.9h8v1h-8zM612.0 157.9h2v1h-2zM616.0 157.9h2v1h-2zM608.0 158.9h1v1h-1zM606.0 159.9h2v1h-2zM603.0 160.9h1v1h-1zM589.0 162.9h4v1h-4zM579.0 163.9h1v1h-1z" fill="#2a35ff"/>
<path d="M573.0 150.9h6v1h-6zM582.0 150.9h1v1h-1zM584.0 150.9h1v1h-1zM587.0 150.9h6v1h-6zM594.0 150.9h2v1h-2zM570.0 151.9h3v1h-3zM596.0 151.9h2v1h-2zM599.0 151.9h2v1h-2zM602.0 151.9h1v1h-1zM604.0 151.9h1v1h-1zM606.0 151.9h2v1h-2zM569.0 152.9h1v1h-1zM601.0 152.9h8v1h-8zM568.0 153.9h1v1h-1zM605.0 153.9h5v1h-5zM611.0 153.9h1v1h-1zM608.0 154.9h4v1h-4zM608.0 155.9h5v1h-5zM607.0 156.9h6v1h-6zM606.0 157.9h6v1h-6zM605.0 158.9h3v1h-3zM602.0 159.9h4v1h-4zM569.0 160.9h1v1h-1zM596.0 160.9h1v1h-1zM598.0 160.9h3v1h-3zM570.0 161.9h2v1h-2zM589.0 161.9h3v1h-3zM593.0 161.9h2v1h-2zM598.0 161.9h3v1h-3zM571.0 162.9h4v1h-4zM578.0 162.9h5v1h-5zM585.0 162.9h2v1h-2z" fill="#1a3bff"/>
<path d="M576.0 151.9h2v1h-2zM588.0 151.9h8v1h-8zM570.0 152.9h2v1h-2zM596.0 152.9h5v1h-5zM569.0 153.9h1v1h-1zM601.0 153.9h4v1h-4zM603.0 154.9h5v1h-5zM568.0 155.9h1v1h-1zM604.0 155.9h4v1h-4zM568.0 156.9h1v1h-1zM605.0 156.9h2v1h-2zM604.0 157.9h2v1h-2zM569.0 158.9h1v1h-1zM601.0 158.9h4v1h-4zM596.0 159.9h6v1h-6zM570.0 160.9h2v1h-2zM590.0 160.9h5v1h-5zM572.0 161.9h5v1h-5zM584.0 161.9h4v1h-4z" fill="#0a41ff"/>
<path d="M578.0 151.9h3v1h-3zM582.0 151.9h1v1h-1zM584.0 151.9h4v1h-4zM572.0 152.9h2v1h-2zM592.0 152.9h4v1h-4zM570.0 153.9h1v1h-1zM597.0 153.9h4v1h-4zM569.0 154.9h1v1h-1zM601.0 154.9h2v1h-2zM569.0 155.9h1v1h-1zM602.0 155.9h2v1h-2zM569.0 156.9h1v1h-1zM602.0 156.9h3v1h-3zM569.0 157.9h1v1h-1zM601.0 157.9h3v1h-3zM597.0 158.9h4v1h-4zM570.0 159.9h1v1h-1zM593.0 159.9h3v1h-3zM572.0 160.9h1v1h-1zM587.0 160.9h3v1h-3zM577.0 161.9h7v1h-7z" fill="#0051ff"/>
<path d="M574.0 152.9h3v1h-3zM587.0 152.9h5v1h-5zM571.0 153.9h1v1h-1zM594.0 153.9h3v1h-3zM570.0 154.9h1v1h-1zM597.0 154.9h4v1h-4zM600.0 155.9h2v1h-2zM600.0 156.9h2v1h-2zM570.0 157.9h1v1h-1zM597.0 157.9h4v1h-4zM570.0 158.9h1v1h-1zM595.0 158.9h2v1h-2zM571.0 159.9h1v1h-1zM590.0 159.9h3v1h-3zM573.0 160.9h3v1h-3zM585.0 160.9h2v1h-2z" fill="#0076ff"/>
<path d="M577.0 152.9h10v1h-10zM572.0 153.9h2v1h-2zM592.0 153.9h2v1h-2zM571.0 154.9h1v1h-1zM594.0 154.9h3v1h-3zM570.0 155.9h1v1h-1zM596.0 155.9h4v1h-4zM570.0 156.9h1v1h-1zM596.0 156.9h4v1h-4zM595.0 157.9h2v1h-2zM571.0 158.9h1v1h-1zM592.0 158.9h3v1h-3zM572.0 159.9h1v1h-1zM588.0 159.9h2v1h-2zM576.0 160.9h2v1h-2zM581.0 160.9h4v1h-4z" fill="#009aff"/>
<path d="M574.0 153.9h1v1h-1zM588.0 153.9h4v1h-4zM572.0 154.9h1v1h-1zM593.0 154.9h1v1h-1zM571.0 155.9h1v1h-1zM594.0 155.9h2v1h-2zM595.0 156.9h1v1h-1zM571.0 157.9h1v1h-1zM594.0 157.9h1v1h-1zM590.0 158.9h2v1h-2zM573.0 159.9h1v1h-1zM586.0 159.9h2v1h-2zM578.0 160.9h3v1h-3z" fill="#00bfff"/>
<path d="M575.0 153.9h3v1h-3zM586.0 153.9h2v1h-2zM592.0 154.9h1v1h-1zM593.0 155.9h1v1h-1zM571.0 156.9h1v1h-1zM594.0 156.9h1v1h-1zM592.0 157.9h2v1h-2zM572.0 158.9h1v1h-1zM588.0 158.9h2v1h-2zM574.0 159.9h2v1h-2zM585.0 159.9h1v1h-1z" fill="#0eced1"/>
<path d="M578.0 153.9h8v1h-8zM573.0 154.9h1v1h-1zM589.0 154.9h3v1h-3zM572.0 155.9h1v1h-1zM592.0 155.9h1v1h-1zM572.0 156.9h1v1h-1zM592.0 156.9h2v1h-2zM572.0 157.9h1v1h-1zM589.0 157.9h3v1h-3zM573.0 158.9h1v1h-1zM587.0 158.9h1v1h-1zM576.0 159.9h2v1h-2zM581.0 159.9h4v1h-4z" fill="#21d598"/>
<path d="M574.0 154.9h1v1h-1zM586.0 154.9h3v1h-3zM573.0 155.9h1v1h-1zM589.0 155.9h3v1h-3zM589.0 156.9h3v1h-3zM588.0 157.9h1v1h-1zM574.0 158.9h1v1h-1zM586.0 158.9h1v1h-1zM578.0 159.9h3v1h-3z" fill="#34dd5e"/>
<path d="M575.0 154.9h1v1h-1zM583.0 154.9h3v1h-3zM587.0 155.9h2v1h-2zM573.0 156.9h1v1h-1zM588.0 156.9h1v1h-1zM573.0 157.9h1v1h-1zM587.0 157.9h1v1h-1zM575.0 158.9h1v1h-1zM584.0 158.9h2v1h-2z" fill="#62e237"/>
<path d="M576.0 154.9h7v1h-7zM574.0 155.9h1v1h-1zM586.0 155.9h1v1h-1zM587.0 156.9h1v1h-1zM574.0 157.9h1v1h-1zM586.0 157.9h1v1h-1zM576.0 158.9h2v1h-2zM582.0 158.9h2v1h-2z" fill="#a4e31f"/>
<path d="M575.0 155.9h1v1h-1zM583.0 155.9h3v1h-3zM574.0 156.9h1v1h-1zM585.0 156.9h2v1h-2zM575.0 157.9h1v1h-1zM584.0 157.9h2v1h-2zM578.0 158.9h4v1h-4z" fill="#e6e507"/>
<path d="M576.0 155.9h2v1h-2zM581.0 155.9h2v1h-2zM575.0 156.9h1v1h-1zM583.0 156.9h2v1h-2zM576.0 157.9h1v1h-1zM582.0 157.9h2v1h-2z" fill="#fbba00"/>
<path d="M578.0 155.9h3v1h-3zM576.0 156.9h1v1h-1zM581.0 156.9h2v1h-2zM577.0 157.9h2v1h-2zM581.0 157.9h1v1h-1z" fill="#fc7b00"/>
<path d="M577.0 156.9h4v1h-4zM579.0 157.9h2v1h-2z" fill="#fe3d00"/>
</g>
<path d="M538.0,46.9V173.2H659.6V46.9" stroke="#333" stroke-width="1" fill="none"/>
<path d="M538.0,47.3h-2.4M538.0,78.2h-2.4M538.0,109.4h-2.4M538.0,157.2h-2.4M538.0,68.8h-1.3M538.0,63.4h-1.3M538.0,59.5h-1.3M538.0,56.5h-1.3M538.0,54.0h-1.3M538.0,51.9h-1.3M538.0,50.1h-1.3M538.0,48.5h-1.3M538.0,100.0h-1.3M538.0,94.6h-1.3M538.0,90.7h-1.3M538.0,87.7h-1.3M538.0,85.2h-1.3M538.0,83.1h-1.3M538.0,81.3h-1.3M538.0,79.7h-1.3M538.0,119.4h-1.3M538.0,126.2h-1.3M538.0,131.5h-1.3M538.0,141.7h-1.3M538.0,172.3h-1.3M553.0,173.2v2.4M598.3,173.2v2.4M628.6,173.2v2.4M658.9,173.2v2.4M607.4,173.2v1.3M612.8,173.2v1.3M616.5,173.2v1.3M619.5,173.2v1.3M621.9,173.2v1.3M623.9,173.2v1.3M625.7,173.2v1.3M627.2,173.2v1.3M637.7,173.2v1.3M643.1,173.2v1.3M646.8,173.2v1.3M649.8,173.2v1.3M652.2,173.2v1.3M654.2,173.2v1.3M656.0,173.2v1.3M657.5,173.2v1.3M541.0,173.2v1.3M568.0,173.2v1.3M578.0,173.2v1.3M584.0,173.2v1.3M589.0,173.2v1.3M593.0,173.2v1.3" stroke="#333" stroke-width="0.7"/>
<text x="521.6" y="58.6" font-size="7.5" font-weight="bold" fill="#1a1a1a">10<tspan font-size="7" dy="-5">3</tspan></text>
<text x="521.6" y="83.1" font-size="7.5" font-weight="bold" fill="#1a1a1a">10<tspan font-size="7" dy="-5">2</tspan></text>
<text x="521.6" y="114.2" font-size="7.5" font-weight="bold" fill="#1a1a1a">10<tspan font-size="7" dy="-5">1</tspan></text>
<text x="525.4" y="160.3" font-size="7.5" font-weight="bold" fill="#1a1a1a">0</text>
<text x="551.8" y="186.5" font-size="7.5" font-weight="bold" fill="#1a1a1a">0</text>
<text x="596.2" y="186.5" font-size="7.5" font-weight="bold" fill="#1a1a1a">10<tspan font-size="7" dy="-5">1</tspan></text>
<text x="627.0" y="186.5" font-size="7.5" font-weight="bold" fill="#1a1a1a">10<tspan font-size="7" dy="-5">2</tspan></text>
<text x="646.9" y="186.5" font-size="7.5" font-weight="bold" fill="#1a1a1a">10<tspan font-size="7" dy="-5">3</tspan></text>
<rect x="379.7" y="219.1" width="122.1" height="13.2" fill="#000"/>
<rect x="380.4" y="232.3" width="121.4" height="126.0" fill="#faf8f1"/>
<text x="419.2" y="228.3" font-size="10.23" font-weight="bold" fill="#fff" stroke="#fff" stroke-width="0.25">P5_B1</text>
<text x="452.1" y="230.2" font-size="7.4" font-weight="normal" fill="#fff" font-style="italic" textLength="9.93" lengthAdjust="spacingAndGlyphs">gfp</text>
<path d="M395.4,232.3V358.3M440.7,232.3V358.3M471.0,232.3V358.3M380.4,232.7H501.8M380.4,263.6H501.8M380.4,294.8H501.8M380.4,342.6H501.8" stroke="#d6d2cb" stroke-width="0.9" fill="none"/>
<g filter="url(#bl)">
<path d="M487.4 233.3h1v1h-1zM443.4 234.3h1v1h-1zM478.4 234.3h1v1h-1zM473.4 235.3h1v1h-1zM387.4 237.3h1v1h-1zM451.4 238.3h1v1h-1zM456.4 239.3h1v1h-1zM464.4 240.3h1v1h-1zM390.4 241.3h1v1h-1zM492.4 241.3h1v1h-1zM463.4 242.3h1v1h-1zM403.4 244.3h1v1h-1zM452.4 245.3h1v1h-1zM486.4 246.3h1v1h-1zM446.4 247.3h1v1h-1zM452.4 247.3h1v1h-1zM409.4 248.3h1v1h-1zM434.4 248.3h1v1h-1zM390.4 249.3h1v1h-1zM385.4 253.3h1v1h-1zM423.4 253.3h1v1h-1zM428.4 253.3h1v1h-1zM430.4 254.3h1v1h-1zM482.4 255.3h1v1h-1zM484.4 255.3h1v1h-1zM439.4 257.3h1v1h-1zM479.4 258.3h1v1h-1zM415.4 260.3h1v1h-1zM384.4 261.3h1v1h-1zM417.4 263.3h1v1h-1zM489.4 263.3h1v1h-1zM479.4 264.3h1v1h-1zM414.4 265.3h1v1h-1zM476.4 267.3h1v1h-1zM395.4 268.3h1v1h-1zM394.4 271.3h1v1h-1zM483.4 271.3h1v1h-1zM402.4 273.3h1v1h-1zM469.4 273.3h1v1h-1zM474.4 273.3h1v1h-1zM391.4 276.3h1v1h-1zM473.4 278.3h1v1h-1zM497.4 279.3h1v1h-1zM397.4 281.3h1v1h-1zM467.4 281.3h1v1h-1zM483.4 282.3h1v1h-1zM403.4 283.3h1v1h-1zM478.4 283.3h1v1h-1zM398.4 284.3h1v1h-1zM464.4 285.3h1v1h-1zM397.4 286.3h1v1h-1zM467.4 286.3h1v1h-1zM403.4 287.3h1v1h-1zM474.4 287.3h1v1h-1zM485.4 287.3h1v1h-1zM489.4 287.3h1v1h-1zM491.4 287.3h1v1h-1zM479.4 288.3h1v1h-1zM385.4 291.3h1v1h-1zM467.4 292.3h1v1h-1zM492.4 292.3h1v1h-1zM397.4 293.3h1v1h-1zM474.4 294.3h1v1h-1zM490.4 294.3h1v1h-1zM405.4 295.3h1v1h-1zM400.4 296.3h1v1h-1zM495.4 297.3h1v1h-1zM460.4 298.3h1v1h-1zM481.4 298.3h1v1h-1zM396.4 299.3h1v1h-1zM475.4 300.3h1v1h-1zM462.4 301.3h1v1h-1zM484.4 301.3h1v1h-1zM397.4 302.3h1v1h-1zM403.4 303.3h1v1h-1zM455.4 303.3h1v1h-1zM466.4 303.3h1v1h-1zM469.4 304.3h1v1h-1zM490.4 304.3h1v1h-1zM462.4 305.3h1v1h-1zM393.4 307.3h1v1h-1zM491.4 307.3h1v1h-1zM402.4 308.3h1v1h-1zM465.4 308.3h1v1h-1zM469.4 308.3h1v1h-1zM476.4 308.3h1v1h-1zM479.4 308.3h1v1h-1zM494.4 309.3h1v1h-1zM401.4 310.3h1v1h-1zM408.4 311.3h1v1h-1zM498.4 311.3h1v1h-1zM484.4 312.3h1v1h-1zM462.4 313.3h1v1h-1zM413.4 315.3h1v1h-1zM416.4 315.3h1v1h-1zM478.4 315.3h1v1h-1zM494.4 315.3h1v1h-1zM406.4 316.3h1v1h-1zM402.4 317.3h1v1h-1zM484.4 317.3h1v1h-1zM405.4 319.3h1v1h-1zM400.4 320.3h1v1h-1zM411.4 320.3h1v1h-1zM484.4 320.3h1v1h-1zM409.4 322.3h1v1h-1zM481.4 322.3h1v1h-1zM413.4 323.3h1v1h-1zM386.4 324.3h1v1h-1zM473.4 326.3h1v1h-1zM481.4 327.3h1v1h-1zM466.4 330.3h1v1h-1zM488.4 330.3h1v1h-1zM418.4 331.3h1v1h-1zM476.4 331.3h1v1h-1zM485.4 331.3h1v1h-1zM498.4 333.3h1v1h-1zM390.4 334.3h1v1h-1zM485.4 336.3h1v1h-1zM407.4 337.3h1v1h-1zM401.4 339.3h1v1h-1zM484.4 339.3h1v1h-1zM485.4 341.3h1v1h-1zM398.4 343.3h1v1h-1zM398.4 345.3h1v1h-1zM491.4 346.3h1v1h-1zM393.4 348.3h1v1h-1zM400.4 348.3h1v1h-1zM403.4 348.3h1v1h-1zM498.4 348.3h1v1h-1zM480.4 350.3h1v1h-1zM405.4 351.3h1v1h-1zM408.4 352.3h1v1h-1zM451.4 353.3h1v1h-1zM406.4 354.3h1v1h-1zM442.4 354.3h1v1h-1zM456.4 356.3h1v1h-1z" fill="#2a35ff"/>
<path d="M470.4 237.3h1v1h-1zM480.4 237.3h1v1h-1zM485.4 237.3h1v1h-1zM471.4 238.3h1v1h-1zM484.4 238.3h1v1h-1zM471.4 239.3h1v1h-1zM474.4 239.3h1v1h-1zM478.4 239.3h1v1h-1zM481.4 239.3h1v1h-1zM469.4 240.3h1v1h-1zM475.4 240.3h1v1h-1zM480.4 240.3h1v1h-1zM478.4 241.3h1v1h-1zM480.4 241.3h1v1h-1zM468.4 242.3h1v1h-1zM483.4 242.3h1v1h-1zM466.4 243.3h1v1h-1zM471.4 243.3h1v1h-1zM473.4 243.3h1v1h-1zM476.4 243.3h1v1h-1zM481.4 243.3h1v1h-1zM471.4 244.3h1v1h-1zM478.4 244.3h1v1h-1zM482.4 244.3h1v1h-1zM465.4 245.3h2v1h-2zM472.4 245.3h2v1h-2zM478.4 245.3h3v1h-3zM459.4 246.3h1v1h-1zM467.4 246.3h1v1h-1zM475.4 246.3h1v1h-1zM478.4 246.3h1v1h-1zM480.4 246.3h1v1h-1zM458.4 247.3h1v1h-1zM460.4 247.3h2v1h-2zM466.4 247.3h1v1h-1zM477.4 247.3h1v1h-1zM464.4 248.3h1v1h-1zM466.4 248.3h1v1h-1zM469.4 248.3h1v1h-1zM478.4 248.3h1v1h-1zM480.4 248.3h2v1h-2zM458.4 249.3h1v1h-1zM468.4 249.3h1v1h-1zM478.4 249.3h1v1h-1zM481.4 249.3h1v1h-1zM456.4 250.3h1v1h-1zM458.4 250.3h1v1h-1zM467.4 250.3h1v1h-1zM485.4 250.3h2v1h-2zM446.4 251.3h2v1h-2zM450.4 251.3h1v1h-1zM454.4 251.3h1v1h-1zM474.4 251.3h1v1h-1zM477.4 251.3h1v1h-1zM441.4 252.3h2v1h-2zM449.4 252.3h1v1h-1zM455.4 252.3h1v1h-1zM477.4 252.3h1v1h-1zM441.4 253.3h1v1h-1zM453.4 253.3h1v1h-1zM455.4 253.3h1v1h-1zM458.4 253.3h1v1h-1zM476.4 253.3h2v1h-2zM453.4 254.3h1v1h-1zM473.4 254.3h1v1h-1zM475.4 254.3h1v1h-1zM477.4 254.3h1v1h-1zM452.4 255.3h2v1h-2zM476.4 255.3h1v1h-1zM443.4 256.3h1v1h-1zM449.4 256.3h3v1h-3zM476.4 256.3h1v1h-1zM445.4 257.3h1v1h-1zM449.4 257.3h1v1h-1zM452.4 257.3h1v1h-1zM454.4 257.3h1v1h-1zM473.4 257.3h1v1h-1zM475.4 257.3h1v1h-1zM428.4 258.3h1v1h-1zM441.4 258.3h1v1h-1zM444.4 258.3h2v1h-2zM448.4 258.3h2v1h-2zM451.4 258.3h1v1h-1zM455.4 258.3h1v1h-1zM475.4 258.3h1v1h-1zM436.4 259.3h1v1h-1zM444.4 259.3h1v1h-1zM453.4 259.3h1v1h-1zM475.4 259.3h1v1h-1zM428.4 260.3h1v1h-1zM431.4 260.3h1v1h-1zM440.4 260.3h1v1h-1zM473.4 260.3h1v1h-1zM475.4 260.3h1v1h-1zM469.4 261.3h1v1h-1zM421.4 262.3h4v1h-4zM433.4 262.3h1v1h-1zM442.4 262.3h1v1h-1zM472.4 262.3h1v1h-1zM474.4 262.3h1v1h-1zM425.4 263.3h1v1h-1zM427.4 263.3h1v1h-1zM429.4 263.3h2v1h-2zM469.4 263.3h2v1h-2zM430.4 264.3h2v1h-2zM433.4 264.3h1v1h-1zM418.4 265.3h1v1h-1zM434.4 265.3h1v1h-1zM469.4 265.3h1v1h-1zM473.4 265.3h2v1h-2zM411.4 266.3h1v1h-1zM417.4 266.3h1v1h-1zM428.4 266.3h1v1h-1zM430.4 266.3h1v1h-1zM433.4 266.3h1v1h-1zM469.4 266.3h1v1h-1zM421.4 267.3h1v1h-1zM424.4 267.3h1v1h-1zM426.4 267.3h1v1h-1zM469.4 267.3h1v1h-1zM480.4 267.3h1v1h-1zM494.4 267.3h2v1h-2zM410.4 268.3h1v1h-1zM412.4 268.3h1v1h-1zM414.4 268.3h1v1h-1zM416.4 268.3h1v1h-1zM418.4 268.3h1v1h-1zM422.4 268.3h1v1h-1zM425.4 268.3h1v1h-1zM468.4 268.3h1v1h-1zM470.4 268.3h1v1h-1zM419.4 269.3h1v1h-1zM472.4 269.3h1v1h-1zM480.4 269.3h1v1h-1zM413.4 270.3h1v1h-1zM424.4 270.3h1v1h-1zM466.4 270.3h1v1h-1zM480.4 270.3h1v1h-1zM419.4 271.3h1v1h-1zM467.4 271.3h1v1h-1zM472.4 271.3h1v1h-1zM412.4 272.3h1v1h-1zM414.4 272.3h1v1h-1zM465.4 273.3h1v1h-1zM409.4 274.3h1v1h-1zM411.4 274.3h1v1h-1zM460.4 274.3h1v1h-1zM464.4 274.3h1v1h-1zM409.4 275.3h1v1h-1zM460.4 275.3h1v1h-1zM406.4 276.3h1v1h-1zM412.4 276.3h1v1h-1zM460.4 276.3h1v1h-1zM467.4 276.3h1v1h-1zM406.4 277.3h1v1h-1zM408.4 277.3h1v1h-1zM462.4 277.3h3v1h-3zM470.4 277.3h1v1h-1zM409.4 278.3h1v1h-1zM411.4 278.3h1v1h-1zM461.4 278.3h1v1h-1zM466.4 278.3h1v1h-1zM470.4 278.3h1v1h-1zM405.4 279.3h1v1h-1zM408.4 279.3h1v1h-1zM461.4 279.3h1v1h-1zM465.4 279.3h1v1h-1zM470.4 279.3h1v1h-1zM411.4 280.3h1v1h-1zM458.4 280.3h1v1h-1zM461.4 280.3h2v1h-2zM406.4 281.3h1v1h-1zM411.4 282.3h1v1h-1zM458.4 282.3h1v1h-1zM462.4 282.3h1v1h-1zM407.4 283.3h1v1h-1zM409.4 284.3h2v1h-2zM457.4 284.3h1v1h-1zM409.4 285.3h1v1h-1zM461.4 285.3h1v1h-1zM408.4 286.3h1v1h-1zM458.4 286.3h1v1h-1zM408.4 287.3h1v1h-1zM457.4 288.3h1v1h-1zM465.4 289.3h1v1h-1zM406.4 290.3h1v1h-1zM409.4 290.3h1v1h-1zM464.4 290.3h1v1h-1zM451.4 291.3h2v1h-2zM457.4 291.3h1v1h-1zM407.4 292.3h2v1h-2zM453.4 292.3h1v1h-1zM456.4 292.3h2v1h-2zM481.4 292.3h2v1h-2zM409.4 293.3h2v1h-2zM454.4 293.3h1v1h-1zM461.4 293.3h2v1h-2zM409.4 294.3h1v1h-1zM455.4 294.3h1v1h-1zM458.4 294.3h1v1h-1zM410.4 295.3h1v1h-1zM454.4 295.3h1v1h-1zM457.4 295.3h1v1h-1zM459.4 295.3h1v1h-1zM448.4 296.3h1v1h-1zM455.4 296.3h1v1h-1zM464.4 296.3h1v1h-1zM406.4 297.3h1v1h-1zM411.4 297.3h1v1h-1zM450.4 297.3h1v1h-1zM464.4 297.3h1v1h-1zM466.4 297.3h2v1h-2zM408.4 298.3h1v1h-1zM410.4 298.3h2v1h-2zM447.4 298.3h1v1h-1zM450.4 298.3h1v1h-1zM454.4 298.3h1v1h-1zM465.4 298.3h1v1h-1zM469.4 298.3h1v1h-1zM472.4 298.3h1v1h-1zM444.4 299.3h2v1h-2zM455.4 299.3h1v1h-1zM472.4 299.3h1v1h-1zM409.4 300.3h1v1h-1zM411.4 300.3h1v1h-1zM447.4 300.3h1v1h-1zM452.4 300.3h1v1h-1zM481.4 300.3h1v1h-1zM414.4 301.3h1v1h-1zM444.4 301.3h1v1h-1zM447.4 301.3h1v1h-1zM450.4 301.3h2v1h-2zM456.4 301.3h1v1h-1zM481.4 301.3h1v1h-1zM410.4 302.3h1v1h-1zM414.4 302.3h1v1h-1zM417.4 302.3h1v1h-1zM444.4 302.3h3v1h-3zM464.4 302.3h1v1h-1zM411.4 303.3h2v1h-2zM416.4 303.3h1v1h-1zM418.4 303.3h1v1h-1zM441.4 304.3h1v1h-1zM443.4 304.3h1v1h-1zM451.4 304.3h1v1h-1zM487.4 304.3h1v1h-1zM407.4 305.3h2v1h-2zM414.4 305.3h1v1h-1zM416.4 305.3h2v1h-2zM421.4 305.3h1v1h-1zM447.4 305.3h1v1h-1zM451.4 305.3h1v1h-1zM458.4 305.3h1v1h-1zM460.4 305.3h1v1h-1zM486.4 305.3h1v1h-1zM414.4 306.3h1v1h-1zM419.4 306.3h3v1h-3zM450.4 306.3h1v1h-1zM483.4 306.3h1v1h-1zM486.4 306.3h1v1h-1zM418.4 307.3h1v1h-1zM420.4 307.3h1v1h-1zM425.4 307.3h2v1h-2zM429.4 307.3h1v1h-1zM445.4 307.3h3v1h-3zM451.4 307.3h1v1h-1zM456.4 307.3h1v1h-1zM458.4 307.3h2v1h-2zM483.4 307.3h1v1h-1zM419.4 308.3h1v1h-1zM426.4 308.3h1v1h-1zM447.4 308.3h2v1h-2zM450.4 308.3h1v1h-1zM457.4 308.3h2v1h-2zM415.4 309.3h1v1h-1zM418.4 309.3h1v1h-1zM423.4 309.3h2v1h-2zM426.4 309.3h1v1h-1zM443.4 309.3h1v1h-1zM452.4 309.3h1v1h-1zM456.4 309.3h1v1h-1zM417.4 310.3h2v1h-2zM421.4 310.3h1v1h-1zM429.4 310.3h2v1h-2zM435.4 310.3h2v1h-2zM440.4 310.3h1v1h-1zM444.4 310.3h1v1h-1zM448.4 310.3h1v1h-1zM453.4 310.3h1v1h-1zM459.4 310.3h2v1h-2zM423.4 311.3h1v1h-1zM429.4 311.3h1v1h-1zM436.4 311.3h1v1h-1zM440.4 311.3h1v1h-1zM448.4 311.3h1v1h-1zM456.4 311.3h2v1h-2zM461.4 311.3h1v1h-1zM469.4 311.3h1v1h-1zM423.4 312.3h1v1h-1zM426.4 312.3h1v1h-1zM429.4 312.3h1v1h-1zM435.4 312.3h1v1h-1zM445.4 312.3h1v1h-1zM453.4 312.3h2v1h-2zM420.4 313.3h1v1h-1zM425.4 313.3h1v1h-1zM430.4 313.3h1v1h-1zM436.4 313.3h1v1h-1zM439.4 313.3h1v1h-1zM443.4 313.3h1v1h-1zM445.4 313.3h1v1h-1zM450.4 313.3h2v1h-2zM453.4 313.3h2v1h-2zM459.4 313.3h1v1h-1zM467.4 313.3h1v1h-1zM471.4 313.3h2v1h-2zM418.4 314.3h1v1h-1zM420.4 314.3h1v1h-1zM423.4 314.3h3v1h-3zM428.4 314.3h1v1h-1zM431.4 314.3h1v1h-1zM439.4 314.3h1v1h-1zM441.4 314.3h2v1h-2zM446.4 314.3h2v1h-2zM453.4 314.3h1v1h-1zM456.4 314.3h2v1h-2zM431.4 315.3h1v1h-1zM451.4 315.3h1v1h-1zM455.4 315.3h1v1h-1zM422.4 316.3h1v1h-1zM424.4 316.3h1v1h-1zM426.4 316.3h1v1h-1zM431.4 316.3h1v1h-1zM443.4 316.3h2v1h-2zM448.4 316.3h2v1h-2zM451.4 316.3h1v1h-1zM457.4 316.3h1v1h-1zM464.4 316.3h1v1h-1zM466.4 316.3h1v1h-1zM468.4 316.3h1v1h-1zM408.4 317.3h1v1h-1zM424.4 317.3h1v1h-1zM427.4 317.3h1v1h-1zM432.4 317.3h1v1h-1zM441.4 317.3h2v1h-2zM445.4 317.3h3v1h-3zM452.4 317.3h2v1h-2zM456.4 317.3h1v1h-1zM458.4 317.3h1v1h-1zM465.4 317.3h1v1h-1zM470.4 317.3h1v1h-1zM410.4 318.3h1v1h-1zM420.4 318.3h2v1h-2zM426.4 318.3h1v1h-1zM428.4 318.3h1v1h-1zM431.4 318.3h1v1h-1zM433.4 318.3h1v1h-1zM444.4 318.3h2v1h-2zM452.4 318.3h1v1h-1zM465.4 318.3h1v1h-1zM419.4 319.3h1v1h-1zM424.4 319.3h1v1h-1zM426.4 319.3h1v1h-1zM440.4 319.3h1v1h-1zM447.4 319.3h3v1h-3zM451.4 319.3h1v1h-1zM453.4 319.3h2v1h-2zM456.4 319.3h2v1h-2zM461.4 319.3h1v1h-1zM467.4 319.3h2v1h-2zM471.4 319.3h1v1h-1zM475.4 319.3h1v1h-1zM422.4 320.3h1v1h-1zM425.4 320.3h1v1h-1zM428.4 320.3h1v1h-1zM431.4 320.3h1v1h-1zM434.4 320.3h1v1h-1zM436.4 320.3h1v1h-1zM438.4 320.3h1v1h-1zM446.4 320.3h1v1h-1zM455.4 320.3h1v1h-1zM459.4 320.3h1v1h-1zM461.4 320.3h1v1h-1zM467.4 320.3h3v1h-3zM474.4 320.3h1v1h-1zM418.4 321.3h1v1h-1zM424.4 321.3h1v1h-1zM431.4 321.3h1v1h-1zM450.4 321.3h1v1h-1zM452.4 321.3h1v1h-1zM454.4 321.3h1v1h-1zM457.4 321.3h1v1h-1zM416.4 322.3h2v1h-2zM423.4 322.3h1v1h-1zM427.4 322.3h1v1h-1zM463.4 322.3h1v1h-1zM465.4 322.3h1v1h-1zM469.4 322.3h1v1h-1zM418.4 323.3h1v1h-1zM420.4 323.3h1v1h-1zM423.4 323.3h1v1h-1zM425.4 323.3h1v1h-1zM459.4 323.3h1v1h-1zM470.4 323.3h1v1h-1zM472.4 323.3h1v1h-1zM417.4 324.3h2v1h-2zM425.4 324.3h1v1h-1zM429.4 324.3h3v1h-3zM435.4 324.3h1v1h-1zM456.4 324.3h1v1h-1zM458.4 324.3h1v1h-1zM462.4 324.3h1v1h-1zM419.4 325.3h1v1h-1zM423.4 325.3h1v1h-1zM431.4 325.3h1v1h-1zM437.4 325.3h1v1h-1zM446.4 325.3h1v1h-1zM456.4 325.3h1v1h-1zM459.4 325.3h1v1h-1zM466.4 325.3h1v1h-1zM469.4 325.3h1v1h-1zM411.4 326.3h1v1h-1zM416.4 326.3h1v1h-1zM418.4 326.3h1v1h-1zM420.4 326.3h1v1h-1zM422.4 326.3h1v1h-1zM424.4 326.3h2v1h-2zM429.4 326.3h1v1h-1zM432.4 326.3h1v1h-1zM435.4 326.3h1v1h-1zM439.4 326.3h1v1h-1zM446.4 326.3h2v1h-2zM449.4 326.3h1v1h-1zM456.4 326.3h2v1h-2zM460.4 326.3h1v1h-1zM467.4 326.3h1v1h-1zM412.4 327.3h1v1h-1zM417.4 327.3h1v1h-1zM421.4 327.3h1v1h-1zM423.4 327.3h1v1h-1zM431.4 327.3h1v1h-1zM438.4 327.3h1v1h-1zM441.4 327.3h1v1h-1zM444.4 327.3h1v1h-1zM450.4 327.3h1v1h-1zM453.4 327.3h1v1h-1zM477.4 327.3h2v1h-2zM418.4 328.3h2v1h-2zM426.4 328.3h1v1h-1zM429.4 328.3h1v1h-1zM437.4 328.3h1v1h-1zM441.4 328.3h1v1h-1zM444.4 328.3h1v1h-1zM446.4 328.3h1v1h-1zM450.4 328.3h1v1h-1zM455.4 328.3h1v1h-1zM478.4 328.3h1v1h-1zM417.4 329.3h1v1h-1zM422.4 329.3h1v1h-1zM430.4 329.3h1v1h-1zM432.4 329.3h2v1h-2zM435.4 329.3h1v1h-1zM425.4 330.3h1v1h-1zM431.4 330.3h1v1h-1zM435.4 330.3h1v1h-1zM439.4 330.3h2v1h-2zM442.4 330.3h2v1h-2zM447.4 330.3h1v1h-1zM461.4 330.3h2v1h-2zM431.4 331.3h2v1h-2zM434.4 331.3h1v1h-1zM436.4 331.3h1v1h-1zM444.4 331.3h1v1h-1zM453.4 331.3h2v1h-2zM427.4 332.3h1v1h-1zM435.4 332.3h1v1h-1zM439.4 332.3h1v1h-1zM444.4 332.3h1v1h-1zM447.4 332.3h1v1h-1zM457.4 332.3h1v1h-1zM462.4 332.3h1v1h-1zM471.4 332.3h1v1h-1zM414.4 333.3h1v1h-1zM425.4 333.3h1v1h-1zM448.4 333.3h1v1h-1zM452.4 333.3h1v1h-1zM468.4 333.3h1v1h-1zM471.4 333.3h1v1h-1zM423.4 334.3h1v1h-1zM428.4 334.3h1v1h-1zM438.4 334.3h1v1h-1zM444.4 334.3h1v1h-1zM446.4 334.3h2v1h-2zM457.4 334.3h1v1h-1zM413.4 335.3h1v1h-1zM415.4 335.3h1v1h-1zM450.4 335.3h2v1h-2zM455.4 335.3h2v1h-2zM459.4 335.3h1v1h-1zM464.4 335.3h1v1h-1zM466.4 335.3h2v1h-2zM475.4 335.3h1v1h-1zM464.4 336.3h2v1h-2zM469.4 336.3h1v1h-1zM473.4 336.3h2v1h-2zM412.4 337.3h1v1h-1zM464.4 337.3h1v1h-1zM412.4 338.3h1v1h-1zM468.4 338.3h1v1h-1zM471.4 338.3h1v1h-1zM410.4 339.3h1v1h-1zM464.4 339.3h2v1h-2zM478.4 339.3h1v1h-1zM468.4 340.3h1v1h-1zM474.4 340.3h1v1h-1zM476.4 340.3h1v1h-1zM479.4 340.3h1v1h-1zM481.4 340.3h1v1h-1zM405.4 341.3h1v1h-1zM472.4 341.3h1v1h-1zM474.4 341.3h1v1h-1zM476.4 341.3h2v1h-2zM407.4 342.3h2v1h-2zM410.4 342.3h1v1h-1zM469.4 342.3h2v1h-2zM472.4 342.3h1v1h-1zM475.4 342.3h1v1h-1zM477.4 342.3h1v1h-1zM481.4 342.3h1v1h-1zM403.4 343.3h1v1h-1zM470.4 343.3h1v1h-1zM478.4 343.3h1v1h-1zM411.4 344.3h1v1h-1zM467.4 344.3h2v1h-2zM472.4 344.3h1v1h-1zM402.4 345.3h1v1h-1zM406.4 345.3h2v1h-2zM475.4 345.3h2v1h-2zM405.4 346.3h1v1h-1zM409.4 346.3h1v1h-1zM462.4 346.3h1v1h-1zM473.4 346.3h1v1h-1zM477.4 346.3h1v1h-1zM410.4 347.3h2v1h-2zM459.4 347.3h1v1h-1zM464.4 347.3h1v1h-1zM467.4 347.3h1v1h-1zM473.4 347.3h1v1h-1zM475.4 347.3h1v1h-1zM494.4 347.3h1v1h-1zM457.4 348.3h1v1h-1zM461.4 348.3h1v1h-1zM477.4 348.3h1v1h-1zM493.4 348.3h1v1h-1zM408.4 349.3h1v1h-1zM411.4 349.3h1v1h-1zM448.4 349.3h1v1h-1zM454.4 349.3h1v1h-1zM457.4 349.3h1v1h-1zM463.4 349.3h1v1h-1zM466.4 349.3h1v1h-1zM413.4 350.3h1v1h-1zM447.4 350.3h1v1h-1zM456.4 350.3h2v1h-2zM459.4 350.3h1v1h-1zM461.4 350.3h1v1h-1zM416.4 351.3h1v1h-1zM420.4 351.3h1v1h-1zM438.4 351.3h1v1h-1zM452.4 351.3h1v1h-1zM460.4 351.3h1v1h-1zM417.4 352.3h1v1h-1zM459.4 352.3h1v1h-1zM478.4 352.3h1v1h-1zM479.4 353.3h1v1h-1zM457.4 354.3h1v1h-1zM459.4 354.3h1v1h-1z" fill="#1a3bff"/>
<path d="M474.4 246.3h1v1h-1zM472.4 247.3h1v1h-1zM474.4 247.3h1v1h-1zM462.4 248.3h2v1h-2zM471.4 248.3h2v1h-2zM474.4 248.3h1v1h-1zM476.4 248.3h1v1h-1zM460.4 249.3h1v1h-1zM462.4 249.3h1v1h-1zM475.4 249.3h1v1h-1zM459.4 250.3h3v1h-3zM463.4 250.3h3v1h-3zM470.4 250.3h1v1h-1zM472.4 250.3h1v1h-1zM474.4 250.3h1v1h-1zM476.4 250.3h1v1h-1zM460.4 251.3h4v1h-4zM470.4 251.3h3v1h-3zM475.4 251.3h2v1h-2zM460.4 252.3h1v1h-1zM465.4 252.3h4v1h-4zM472.4 252.3h1v1h-1zM460.4 253.3h2v1h-2zM463.4 253.3h1v1h-1zM466.4 253.3h1v1h-1zM470.4 253.3h2v1h-2zM456.4 254.3h2v1h-2zM459.4 254.3h1v1h-1zM463.4 254.3h4v1h-4zM471.4 254.3h1v1h-1zM456.4 255.3h1v1h-1zM460.4 255.3h2v1h-2zM464.4 255.3h2v1h-2zM467.4 255.3h2v1h-2zM471.4 255.3h3v1h-3zM456.4 256.3h4v1h-4zM463.4 256.3h1v1h-1zM465.4 256.3h2v1h-2zM468.4 256.3h5v1h-5zM457.4 257.3h2v1h-2zM460.4 257.3h2v1h-2zM463.4 257.3h1v1h-1zM465.4 257.3h2v1h-2zM468.4 257.3h1v1h-1zM458.4 258.3h1v1h-1zM465.4 258.3h3v1h-3zM469.4 258.3h1v1h-1zM472.4 258.3h1v1h-1zM447.4 259.3h1v1h-1zM449.4 259.3h1v1h-1zM464.4 259.3h1v1h-1zM466.4 259.3h3v1h-3zM471.4 259.3h1v1h-1zM435.4 260.3h1v1h-1zM437.4 260.3h1v1h-1zM444.4 260.3h1v1h-1zM446.4 260.3h1v1h-1zM448.4 260.3h1v1h-1zM453.4 260.3h1v1h-1zM455.4 260.3h1v1h-1zM457.4 260.3h1v1h-1zM465.4 260.3h1v1h-1zM468.4 260.3h1v1h-1zM471.4 260.3h1v1h-1zM435.4 261.3h3v1h-3zM444.4 261.3h1v1h-1zM446.4 261.3h2v1h-2zM449.4 261.3h4v1h-4zM454.4 261.3h3v1h-3zM465.4 261.3h2v1h-2zM434.4 262.3h3v1h-3zM438.4 262.3h2v1h-2zM444.4 262.3h1v1h-1zM447.4 262.3h1v1h-1zM449.4 262.3h2v1h-2zM465.4 262.3h2v1h-2zM435.4 263.3h1v1h-1zM437.4 263.3h4v1h-4zM443.4 263.3h4v1h-4zM450.4 263.3h1v1h-1zM457.4 263.3h1v1h-1zM468.4 263.3h1v1h-1zM422.4 264.3h2v1h-2zM437.4 264.3h1v1h-1zM439.4 264.3h1v1h-1zM442.4 264.3h1v1h-1zM444.4 264.3h1v1h-1zM447.4 264.3h2v1h-2zM459.4 264.3h5v1h-5zM465.4 264.3h4v1h-4zM422.4 265.3h3v1h-3zM437.4 265.3h2v1h-2zM440.4 265.3h2v1h-2zM444.4 265.3h3v1h-3zM458.4 265.3h2v1h-2zM461.4 265.3h1v1h-1zM463.4 265.3h2v1h-2zM466.4 265.3h1v1h-1zM422.4 266.3h1v1h-1zM434.4 266.3h1v1h-1zM436.4 266.3h4v1h-4zM442.4 266.3h2v1h-2zM445.4 266.3h1v1h-1zM448.4 266.3h1v1h-1zM461.4 266.3h1v1h-1zM464.4 266.3h1v1h-1zM429.4 267.3h3v1h-3zM433.4 267.3h1v1h-1zM435.4 267.3h1v1h-1zM437.4 267.3h7v1h-7zM446.4 267.3h1v1h-1zM458.4 267.3h7v1h-7zM466.4 267.3h1v1h-1zM421.4 268.3h1v1h-1zM431.4 268.3h1v1h-1zM435.4 268.3h1v1h-1zM437.4 268.3h1v1h-1zM459.4 268.3h4v1h-4zM465.4 268.3h2v1h-2zM421.4 269.3h1v1h-1zM426.4 269.3h5v1h-5zM432.4 269.3h1v1h-1zM435.4 269.3h1v1h-1zM437.4 269.3h1v1h-1zM459.4 269.3h5v1h-5zM466.4 269.3h1v1h-1zM416.4 270.3h2v1h-2zM420.4 270.3h1v1h-1zM422.4 270.3h1v1h-1zM425.4 270.3h1v1h-1zM428.4 270.3h1v1h-1zM458.4 270.3h1v1h-1zM461.4 270.3h4v1h-4zM417.4 271.3h1v1h-1zM422.4 271.3h2v1h-2zM426.4 271.3h1v1h-1zM428.4 271.3h1v1h-1zM430.4 271.3h1v1h-1zM457.4 271.3h1v1h-1zM460.4 271.3h2v1h-2zM416.4 272.3h2v1h-2zM421.4 272.3h2v1h-2zM425.4 272.3h2v1h-2zM428.4 272.3h1v1h-1zM431.4 272.3h1v1h-1zM457.4 272.3h3v1h-3zM461.4 272.3h1v1h-1zM463.4 272.3h1v1h-1zM415.4 273.3h1v1h-1zM417.4 273.3h1v1h-1zM419.4 273.3h2v1h-2zM422.4 273.3h1v1h-1zM429.4 273.3h1v1h-1zM453.4 273.3h1v1h-1zM457.4 273.3h3v1h-3zM462.4 273.3h2v1h-2zM414.4 274.3h2v1h-2zM418.4 274.3h3v1h-3zM452.4 274.3h1v1h-1zM454.4 274.3h2v1h-2zM457.4 274.3h1v1h-1zM463.4 274.3h1v1h-1zM414.4 275.3h3v1h-3zM418.4 275.3h2v1h-2zM452.4 275.3h6v1h-6zM462.4 275.3h2v1h-2zM413.4 276.3h3v1h-3zM417.4 276.3h1v1h-1zM451.4 276.3h1v1h-1zM456.4 276.3h1v1h-1zM463.4 276.3h1v1h-1zM412.4 277.3h1v1h-1zM455.4 277.3h3v1h-3zM413.4 278.3h2v1h-2zM456.4 278.3h2v1h-2zM412.4 279.3h1v1h-1zM454.4 279.3h1v1h-1zM456.4 279.3h1v1h-1zM413.4 280.3h1v1h-1zM451.4 280.3h1v1h-1zM454.4 280.3h1v1h-1zM456.4 280.3h1v1h-1zM450.4 281.3h1v1h-1zM452.4 281.3h1v1h-1zM454.4 281.3h3v1h-3zM413.4 282.3h1v1h-1zM451.4 282.3h1v1h-1zM455.4 282.3h2v1h-2zM412.4 283.3h1v1h-1zM451.4 283.3h1v1h-1zM454.4 283.3h1v1h-1zM456.4 283.3h2v1h-2zM412.4 284.3h1v1h-1zM452.4 284.3h2v1h-2zM455.4 284.3h1v1h-1zM451.4 285.3h1v1h-1zM456.4 285.3h1v1h-1zM412.4 286.3h1v1h-1zM450.4 286.3h1v1h-1zM452.4 286.3h2v1h-2zM455.4 286.3h1v1h-1zM409.4 287.3h2v1h-2zM412.4 287.3h1v1h-1zM451.4 287.3h3v1h-3zM455.4 287.3h2v1h-2zM447.4 288.3h1v1h-1zM450.4 288.3h1v1h-1zM452.4 288.3h1v1h-1zM455.4 288.3h1v1h-1zM411.4 289.3h1v1h-1zM450.4 289.3h1v1h-1zM452.4 289.3h1v1h-1zM454.4 289.3h1v1h-1zM456.4 289.3h1v1h-1zM411.4 290.3h2v1h-2zM447.4 290.3h1v1h-1zM410.4 291.3h2v1h-2zM447.4 291.3h2v1h-2zM412.4 292.3h1v1h-1zM447.4 292.3h2v1h-2zM411.4 293.3h3v1h-3zM446.4 293.3h1v1h-1zM414.4 294.3h1v1h-1zM445.4 294.3h1v1h-1zM414.4 295.3h1v1h-1zM439.4 295.3h1v1h-1zM441.4 295.3h4v1h-4zM446.4 295.3h1v1h-1zM413.4 296.3h1v1h-1zM440.4 296.3h1v1h-1zM444.4 296.3h2v1h-2zM437.4 297.3h1v1h-1zM439.4 297.3h1v1h-1zM442.4 297.3h3v1h-3zM448.4 297.3h2v1h-2zM412.4 298.3h3v1h-3zM416.4 298.3h1v1h-1zM437.4 298.3h1v1h-1zM439.4 298.3h3v1h-3zM445.4 298.3h1v1h-1zM448.4 298.3h1v1h-1zM413.4 299.3h1v1h-1zM415.4 299.3h2v1h-2zM437.4 299.3h2v1h-2zM440.4 299.3h2v1h-2zM414.4 300.3h2v1h-2zM417.4 300.3h2v1h-2zM435.4 300.3h3v1h-3zM440.4 300.3h1v1h-1zM434.4 301.3h1v1h-1zM437.4 301.3h1v1h-1zM439.4 301.3h2v1h-2zM434.4 302.3h5v1h-5zM422.4 303.3h1v1h-1zM432.4 303.3h2v1h-2zM435.4 303.3h1v1h-1zM437.4 303.3h2v1h-2zM423.4 304.3h1v1h-1zM430.4 304.3h1v1h-1zM433.4 304.3h1v1h-1zM435.4 304.3h1v1h-1zM439.4 304.3h1v1h-1zM423.4 305.3h1v1h-1zM429.4 305.3h2v1h-2zM432.4 305.3h2v1h-2zM436.4 305.3h1v1h-1zM438.4 305.3h1v1h-1zM423.4 306.3h1v1h-1zM426.4 306.3h1v1h-1zM430.4 306.3h5v1h-5zM436.4 306.3h2v1h-2zM439.4 306.3h2v1h-2zM430.4 307.3h1v1h-1zM434.4 307.3h2v1h-2zM439.4 307.3h2v1h-2zM442.4 307.3h2v1h-2zM436.4 308.3h1v1h-1zM438.4 308.3h2v1h-2zM441.4 308.3h1v1h-1zM438.4 309.3h2v1h-2zM441.4 309.3h2v1h-2zM451.4 309.3h1v1h-1zM437.4 310.3h2v1h-2zM451.4 310.3h2v1h-2zM450.4 311.3h1v1h-1zM452.4 311.3h1v1h-1zM449.4 312.3h1v1h-1zM435.4 313.3h1v1h-1zM446.4 313.3h2v1h-2zM449.4 313.3h1v1h-1zM435.4 314.3h1v1h-1zM433.4 315.3h3v1h-3zM437.4 315.3h2v1h-2zM441.4 315.3h2v1h-2zM433.4 316.3h2v1h-2zM436.4 316.3h2v1h-2zM440.4 316.3h2v1h-2zM434.4 317.3h1v1h-1zM436.4 317.3h3v1h-3zM436.4 318.3h1v1h-1zM438.4 318.3h1v1h-1zM425.4 319.3h1v1h-1zM436.4 319.3h1v1h-1zM441.4 319.3h1v1h-1zM443.4 319.3h1v1h-1zM440.4 320.3h1v1h-1zM442.4 320.3h2v1h-2zM433.4 321.3h1v1h-1zM435.4 321.3h1v1h-1zM441.4 321.3h1v1h-1zM445.4 321.3h1v1h-1zM432.4 322.3h3v1h-3zM436.4 322.3h2v1h-2zM439.4 322.3h2v1h-2zM442.4 322.3h2v1h-2zM445.4 322.3h2v1h-2zM451.4 322.3h2v1h-2zM454.4 322.3h3v1h-3zM432.4 323.3h3v1h-3zM436.4 323.3h1v1h-1zM438.4 323.3h1v1h-1zM441.4 323.3h1v1h-1zM444.4 323.3h6v1h-6zM451.4 323.3h2v1h-2zM456.4 323.3h1v1h-1zM433.4 324.3h2v1h-2zM442.4 324.3h2v1h-2zM448.4 324.3h3v1h-3zM452.4 324.3h2v1h-2zM440.4 325.3h3v1h-3zM444.4 325.3h1v1h-1zM452.4 325.3h3v1h-3zM442.4 326.3h1v1h-1zM452.4 326.3h3v1h-3zM442.4 328.3h1v1h-1zM442.4 329.3h1v1h-1zM440.4 331.3h1v1h-1zM440.4 332.3h1v1h-1zM432.4 333.3h2v1h-2zM440.4 333.3h2v1h-2zM431.4 334.3h1v1h-1zM433.4 334.3h1v1h-1zM442.4 334.3h1v1h-1zM419.4 335.3h1v1h-1zM424.4 335.3h1v1h-1zM429.4 335.3h1v1h-1zM432.4 335.3h3v1h-3zM438.4 335.3h2v1h-2zM441.4 335.3h2v1h-2zM416.4 336.3h1v1h-1zM444.4 336.3h2v1h-2zM450.4 336.3h2v1h-2zM454.4 336.3h1v1h-1zM456.4 336.3h2v1h-2zM449.4 337.3h1v1h-1zM453.4 337.3h3v1h-3zM459.4 337.3h1v1h-1zM458.4 338.3h2v1h-2zM461.4 339.3h1v1h-1zM463.4 339.3h1v1h-1zM461.4 340.3h2v1h-2zM465.4 340.3h1v1h-1zM412.4 341.3h1v1h-1zM463.4 341.3h1v1h-1zM465.4 341.3h4v1h-4zM463.4 342.3h1v1h-1zM465.4 342.3h3v1h-3zM463.4 343.3h4v1h-4zM461.4 344.3h3v1h-3zM460.4 345.3h2v1h-2zM464.4 345.3h1v1h-1zM458.4 346.3h1v1h-1zM413.4 347.3h1v1h-1zM454.4 347.3h1v1h-1zM446.4 348.3h1v1h-1zM449.4 348.3h1v1h-1zM451.4 348.3h3v1h-3zM442.4 349.3h1v1h-1zM444.4 349.3h3v1h-3zM417.4 350.3h1v1h-1zM420.4 350.3h1v1h-1zM426.4 350.3h1v1h-1zM431.4 350.3h1v1h-1zM433.4 350.3h1v1h-1zM437.4 350.3h1v1h-1zM440.4 350.3h2v1h-2z" fill="#0a41ff"/>
<path d="M467.4 253.3h3v1h-3zM468.4 254.3h3v1h-3zM469.4 255.3h1v1h-1zM460.4 258.3h2v1h-2zM458.4 259.3h5v1h-5zM458.4 260.3h4v1h-4zM463.4 260.3h1v1h-1zM457.4 261.3h8v1h-8zM452.4 262.3h1v1h-1zM457.4 262.3h2v1h-2zM461.4 262.3h3v1h-3zM451.4 263.3h5v1h-5zM458.4 263.3h5v1h-5zM438.4 264.3h1v1h-1zM452.4 264.3h2v1h-2zM455.4 264.3h2v1h-2zM449.4 265.3h4v1h-4zM454.4 265.3h1v1h-1zM456.4 265.3h1v1h-1zM449.4 266.3h4v1h-4zM454.4 266.3h4v1h-4zM450.4 267.3h4v1h-4zM455.4 267.3h3v1h-3zM440.4 268.3h4v1h-4zM445.4 268.3h3v1h-3zM450.4 268.3h9v1h-9zM433.4 269.3h2v1h-2zM439.4 269.3h13v1h-13zM453.4 269.3h2v1h-2zM456.4 269.3h2v1h-2zM432.4 270.3h3v1h-3zM436.4 270.3h4v1h-4zM442.4 270.3h2v1h-2zM447.4 270.3h1v1h-1zM449.4 270.3h3v1h-3zM453.4 270.3h5v1h-5zM432.4 271.3h1v1h-1zM434.4 271.3h5v1h-5zM448.4 271.3h3v1h-3zM452.4 271.3h5v1h-5zM427.4 272.3h1v1h-1zM432.4 272.3h5v1h-5zM438.4 272.3h1v1h-1zM445.4 272.3h7v1h-7zM453.4 272.3h3v1h-3zM425.4 273.3h1v1h-1zM427.4 273.3h1v1h-1zM433.4 273.3h5v1h-5zM445.4 273.3h6v1h-6zM423.4 274.3h1v1h-1zM425.4 274.3h5v1h-5zM431.4 274.3h1v1h-1zM433.4 274.3h1v1h-1zM435.4 274.3h2v1h-2zM445.4 274.3h1v1h-1zM447.4 274.3h3v1h-3zM451.4 274.3h1v1h-1zM422.4 275.3h1v1h-1zM424.4 275.3h1v1h-1zM429.4 275.3h7v1h-7zM444.4 275.3h1v1h-1zM446.4 275.3h3v1h-3zM451.4 275.3h1v1h-1zM419.4 276.3h4v1h-4zM431.4 276.3h3v1h-3zM435.4 276.3h1v1h-1zM445.4 276.3h2v1h-2zM448.4 276.3h3v1h-3zM417.4 277.3h3v1h-3zM434.4 277.3h2v1h-2zM440.4 277.3h2v1h-2zM444.4 277.3h5v1h-5zM450.4 277.3h3v1h-3zM454.4 277.3h1v1h-1zM415.4 278.3h4v1h-4zM434.4 278.3h1v1h-1zM439.4 278.3h11v1h-11zM451.4 278.3h3v1h-3zM414.4 279.3h1v1h-1zM416.4 279.3h1v1h-1zM441.4 279.3h5v1h-5zM447.4 279.3h3v1h-3zM452.4 279.3h2v1h-2zM414.4 280.3h2v1h-2zM441.4 280.3h8v1h-8zM414.4 281.3h2v1h-2zM445.4 281.3h5v1h-5zM414.4 282.3h1v1h-1zM445.4 282.3h1v1h-1zM447.4 282.3h4v1h-4zM414.4 283.3h1v1h-1zM444.4 283.3h1v1h-1zM447.4 283.3h1v1h-1zM449.4 283.3h2v1h-2zM413.4 284.3h2v1h-2zM444.4 284.3h1v1h-1zM447.4 284.3h4v1h-4zM413.4 285.3h2v1h-2zM443.4 285.3h7v1h-7zM413.4 286.3h2v1h-2zM440.4 286.3h1v1h-1zM442.4 286.3h8v1h-8zM414.4 287.3h1v1h-1zM440.4 287.3h8v1h-8zM413.4 288.3h2v1h-2zM439.4 288.3h3v1h-3zM443.4 288.3h4v1h-4zM413.4 289.3h1v1h-1zM439.4 289.3h7v1h-7zM413.4 290.3h2v1h-2zM438.4 290.3h1v1h-1zM440.4 290.3h2v1h-2zM444.4 290.3h1v1h-1zM413.4 291.3h2v1h-2zM438.4 291.3h7v1h-7zM446.4 291.3h1v1h-1zM414.4 292.3h2v1h-2zM438.4 292.3h9v1h-9zM415.4 293.3h1v1h-1zM438.4 293.3h1v1h-1zM440.4 293.3h4v1h-4zM445.4 293.3h1v1h-1zM437.4 294.3h1v1h-1zM440.4 294.3h2v1h-2zM416.4 295.3h1v1h-1zM437.4 295.3h1v1h-1zM415.4 296.3h2v1h-2zM436.4 296.3h2v1h-2zM417.4 297.3h1v1h-1zM436.4 297.3h1v1h-1zM418.4 298.3h1v1h-1zM435.4 298.3h2v1h-2zM418.4 299.3h2v1h-2zM433.4 299.3h2v1h-2zM436.4 299.3h1v1h-1zM420.4 300.3h1v1h-1zM432.4 300.3h2v1h-2zM420.4 301.3h6v1h-6zM431.4 301.3h2v1h-2zM422.4 302.3h6v1h-6zM430.4 302.3h1v1h-1zM432.4 302.3h1v1h-1zM423.4 303.3h6v1h-6zM430.4 303.3h1v1h-1zM424.4 304.3h6v1h-6zM419.4 336.3h1v1h-1zM422.4 336.3h1v1h-1zM424.4 336.3h1v1h-1zM426.4 336.3h1v1h-1zM435.4 336.3h3v1h-3zM439.4 336.3h1v1h-1zM441.4 336.3h2v1h-2zM442.4 337.3h4v1h-4zM450.4 337.3h2v1h-2zM447.4 338.3h7v1h-7zM455.4 338.3h1v1h-1zM414.4 339.3h1v1h-1zM456.4 339.3h3v1h-3zM413.4 340.3h1v1h-1zM457.4 340.3h1v1h-1zM458.4 341.3h5v1h-5zM459.4 342.3h2v1h-2zM462.4 342.3h1v1h-1zM459.4 343.3h2v1h-2zM458.4 344.3h1v1h-1zM460.4 344.3h1v1h-1zM457.4 345.3h1v1h-1zM414.4 346.3h1v1h-1zM450.4 346.3h1v1h-1zM452.4 346.3h4v1h-4zM457.4 346.3h1v1h-1zM414.4 347.3h1v1h-1zM446.4 347.3h2v1h-2zM449.4 347.3h2v1h-2zM416.4 348.3h1v1h-1zM442.4 348.3h2v1h-2zM417.4 349.3h1v1h-1zM419.4 349.3h1v1h-1zM428.4 349.3h1v1h-1zM432.4 349.3h1v1h-1zM435.4 349.3h1v1h-1zM437.4 349.3h2v1h-2z" fill="#0051ff"/>
<path d="M440.4 270.3h1v1h-1zM444.4 270.3h3v1h-3zM439.4 271.3h3v1h-3zM443.4 271.3h1v1h-1zM445.4 271.3h3v1h-3zM439.4 272.3h2v1h-2zM442.4 272.3h3v1h-3zM438.4 273.3h6v1h-6zM437.4 274.3h7v1h-7zM425.4 275.3h4v1h-4zM437.4 275.3h7v1h-7zM423.4 276.3h8v1h-8zM436.4 276.3h4v1h-4zM441.4 276.3h3v1h-3zM421.4 277.3h5v1h-5zM427.4 277.3h2v1h-2zM431.4 277.3h3v1h-3zM437.4 277.3h2v1h-2zM443.4 277.3h1v1h-1zM419.4 278.3h6v1h-6zM426.4 278.3h8v1h-8zM437.4 278.3h2v1h-2zM417.4 279.3h4v1h-4zM428.4 279.3h6v1h-6zM435.4 279.3h5v1h-5zM417.4 280.3h3v1h-3zM429.4 280.3h8v1h-8zM438.4 280.3h3v1h-3zM416.4 281.3h3v1h-3zM434.4 281.3h11v1h-11zM415.4 282.3h3v1h-3zM435.4 282.3h2v1h-2zM439.4 282.3h6v1h-6zM416.4 283.3h2v1h-2zM435.4 283.3h2v1h-2zM439.4 283.3h5v1h-5zM415.4 284.3h2v1h-2zM434.4 284.3h10v1h-10zM416.4 285.3h1v1h-1zM434.4 285.3h7v1h-7zM415.4 286.3h2v1h-2zM434.4 286.3h4v1h-4zM439.4 286.3h1v1h-1zM415.4 287.3h2v1h-2zM436.4 287.3h4v1h-4zM415.4 288.3h1v1h-1zM435.4 288.3h1v1h-1zM437.4 288.3h2v1h-2zM415.4 289.3h2v1h-2zM435.4 289.3h4v1h-4zM415.4 290.3h2v1h-2zM435.4 290.3h3v1h-3zM415.4 291.3h2v1h-2zM435.4 291.3h3v1h-3zM416.4 292.3h1v1h-1zM435.4 292.3h3v1h-3zM416.4 293.3h2v1h-2zM435.4 293.3h3v1h-3zM416.4 294.3h2v1h-2zM435.4 294.3h2v1h-2zM417.4 295.3h1v1h-1zM434.4 295.3h3v1h-3zM417.4 296.3h2v1h-2zM432.4 296.3h4v1h-4zM418.4 297.3h2v1h-2zM431.4 297.3h5v1h-5zM419.4 298.3h4v1h-4zM431.4 298.3h3v1h-3zM420.4 299.3h6v1h-6zM431.4 299.3h1v1h-1zM421.4 300.3h2v1h-2zM424.4 300.3h4v1h-4zM430.4 300.3h2v1h-2zM426.4 301.3h1v1h-1zM428.4 301.3h2v1h-2zM428.4 302.3h2v1h-2zM427.4 336.3h2v1h-2zM418.4 337.3h2v1h-2zM435.4 337.3h6v1h-6zM415.4 338.3h2v1h-2zM443.4 338.3h1v1h-1zM446.4 338.3h1v1h-1zM447.4 339.3h5v1h-5zM453.4 339.3h3v1h-3zM452.4 340.3h5v1h-5zM453.4 341.3h4v1h-4zM454.4 342.3h5v1h-5zM454.4 343.3h5v1h-5zM414.4 344.3h1v1h-1zM454.4 344.3h4v1h-4zM449.4 345.3h8v1h-8zM446.4 346.3h3v1h-3zM415.4 347.3h1v1h-1zM443.4 347.3h3v1h-3zM417.4 348.3h2v1h-2zM435.4 348.3h7v1h-7zM424.4 349.3h2v1h-2zM427.4 349.3h1v1h-1z" fill="#0076ff"/>
<path d="M421.4 279.3h5v1h-5zM427.4 279.3h1v1h-1zM420.4 280.3h9v1h-9zM419.4 281.3h2v1h-2zM425.4 281.3h9v1h-9zM418.4 282.3h3v1h-3zM427.4 282.3h8v1h-8zM437.4 282.3h2v1h-2zM418.4 283.3h3v1h-3zM432.4 283.3h3v1h-3zM438.4 283.3h1v1h-1zM417.4 284.3h3v1h-3zM432.4 284.3h2v1h-2zM417.4 285.3h2v1h-2zM432.4 285.3h2v1h-2zM417.4 286.3h1v1h-1zM433.4 286.3h1v1h-1zM417.4 287.3h1v1h-1zM433.4 287.3h2v1h-2zM416.4 288.3h2v1h-2zM433.4 288.3h2v1h-2zM417.4 289.3h1v1h-1zM433.4 289.3h2v1h-2zM417.4 290.3h1v1h-1zM433.4 290.3h2v1h-2zM417.4 291.3h2v1h-2zM433.4 291.3h2v1h-2zM417.4 292.3h2v1h-2zM433.4 292.3h2v1h-2zM418.4 293.3h1v1h-1zM432.4 293.3h3v1h-3zM418.4 294.3h1v1h-1zM431.4 294.3h4v1h-4zM418.4 295.3h2v1h-2zM431.4 295.3h3v1h-3zM419.4 296.3h2v1h-2zM430.4 296.3h2v1h-2zM420.4 297.3h5v1h-5zM430.4 297.3h1v1h-1zM423.4 298.3h5v1h-5zM429.4 298.3h2v1h-2zM426.4 299.3h5v1h-5zM428.4 300.3h2v1h-2zM420.4 337.3h14v1h-14zM417.4 338.3h1v1h-1zM440.4 338.3h3v1h-3zM415.4 339.3h1v1h-1zM444.4 339.3h3v1h-3zM447.4 340.3h5v1h-5zM414.4 341.3h1v1h-1zM450.4 341.3h3v1h-3zM414.4 342.3h1v1h-1zM450.4 342.3h4v1h-4zM414.4 343.3h1v1h-1zM450.4 343.3h4v1h-4zM448.4 344.3h6v1h-6zM446.4 345.3h3v1h-3zM415.4 346.3h1v1h-1zM442.4 346.3h4v1h-4zM416.4 347.3h2v1h-2zM438.4 347.3h4v1h-4zM419.4 348.3h5v1h-5zM427.4 348.3h1v1h-1zM429.4 348.3h4v1h-4z" fill="#009aff"/>
<path d="M421.4 281.3h4v1h-4zM421.4 282.3h6v1h-6zM421.4 283.3h11v1h-11zM420.4 284.3h3v1h-3zM426.4 284.3h6v1h-6zM419.4 285.3h2v1h-2zM431.4 285.3h1v1h-1zM418.4 286.3h2v1h-2zM431.4 286.3h2v1h-2zM418.4 287.3h2v1h-2zM431.4 287.3h2v1h-2zM418.4 288.3h2v1h-2zM431.4 288.3h2v1h-2zM418.4 289.3h2v1h-2zM431.4 289.3h2v1h-2zM418.4 290.3h3v1h-3zM431.4 290.3h2v1h-2zM419.4 291.3h2v1h-2zM431.4 291.3h2v1h-2zM419.4 292.3h1v1h-1zM431.4 292.3h2v1h-2zM419.4 293.3h2v1h-2zM430.4 293.3h2v1h-2zM419.4 294.3h2v1h-2zM428.4 294.3h3v1h-3zM420.4 295.3h4v1h-4zM427.4 295.3h4v1h-4zM421.4 296.3h9v1h-9zM425.4 297.3h5v1h-5zM428.4 298.3h1v1h-1zM418.4 338.3h2v1h-2zM434.4 338.3h6v1h-6zM416.4 339.3h1v1h-1zM441.4 339.3h3v1h-3zM415.4 340.3h1v1h-1zM445.4 340.3h2v1h-2zM447.4 341.3h3v1h-3zM447.4 342.3h3v1h-3zM447.4 343.3h3v1h-3zM415.4 344.3h1v1h-1zM445.4 344.3h3v1h-3zM415.4 345.3h1v1h-1zM442.4 345.3h4v1h-4zM416.4 346.3h1v1h-1zM440.4 346.3h2v1h-2zM418.4 347.3h1v1h-1zM434.4 347.3h4v1h-4zM424.4 348.3h3v1h-3z" fill="#00bfff"/>
<path d="M423.4 284.3h3v1h-3zM421.4 285.3h10v1h-10zM420.4 286.3h3v1h-3zM425.4 286.3h6v1h-6zM420.4 287.3h3v1h-3zM426.4 287.3h5v1h-5zM420.4 288.3h3v1h-3zM429.4 288.3h2v1h-2zM420.4 289.3h4v1h-4zM429.4 289.3h2v1h-2zM421.4 290.3h3v1h-3zM429.4 290.3h2v1h-2zM421.4 291.3h4v1h-4zM429.4 291.3h2v1h-2zM420.4 292.3h11v1h-11zM421.4 293.3h9v1h-9zM421.4 294.3h7v1h-7zM424.4 295.3h3v1h-3zM420.4 338.3h4v1h-4zM430.4 338.3h4v1h-4zM417.4 339.3h1v1h-1zM438.4 339.3h3v1h-3zM416.4 340.3h1v1h-1zM442.4 340.3h3v1h-3zM415.4 341.3h1v1h-1zM444.4 341.3h3v1h-3zM415.4 342.3h1v1h-1zM444.4 342.3h3v1h-3zM415.4 343.3h1v1h-1zM444.4 343.3h3v1h-3zM442.4 344.3h3v1h-3zM416.4 345.3h1v1h-1zM440.4 345.3h2v1h-2zM417.4 346.3h1v1h-1zM437.4 346.3h3v1h-3zM419.4 347.3h4v1h-4zM427.4 347.3h7v1h-7z" fill="#0eced1"/>
<path d="M423.4 286.3h2v1h-2zM423.4 287.3h3v1h-3zM423.4 288.3h6v1h-6zM424.4 289.3h5v1h-5zM424.4 290.3h5v1h-5zM425.4 291.3h4v1h-4zM424.4 338.3h6v1h-6zM418.4 339.3h2v1h-2zM434.4 339.3h4v1h-4zM439.4 340.3h3v1h-3zM416.4 341.3h1v1h-1zM441.4 341.3h3v1h-3zM441.4 342.3h3v1h-3zM441.4 343.3h3v1h-3zM416.4 344.3h1v1h-1zM440.4 344.3h2v1h-2zM417.4 345.3h1v1h-1zM438.4 345.3h2v1h-2zM418.4 346.3h2v1h-2zM434.4 346.3h3v1h-3zM423.4 347.3h4v1h-4z" fill="#21d598"/>
<path d="M420.4 339.3h2v1h-2zM431.4 339.3h3v1h-3zM417.4 340.3h1v1h-1zM436.4 340.3h3v1h-3zM439.4 341.3h2v1h-2zM416.4 342.3h1v1h-1zM439.4 342.3h2v1h-2zM416.4 343.3h1v1h-1zM439.4 343.3h2v1h-2zM438.4 344.3h2v1h-2zM418.4 345.3h1v1h-1zM436.4 345.3h2v1h-2zM420.4 346.3h2v1h-2zM429.4 346.3h5v1h-5z" fill="#34dd5e"/>
<path d="M422.4 339.3h9v1h-9zM418.4 340.3h2v1h-2zM433.4 340.3h3v1h-3zM417.4 341.3h1v1h-1zM437.4 341.3h2v1h-2zM438.4 342.3h1v1h-1zM417.4 343.3h1v1h-1zM438.4 343.3h1v1h-1zM417.4 344.3h1v1h-1zM436.4 344.3h2v1h-2zM419.4 345.3h1v1h-1zM433.4 345.3h3v1h-3zM422.4 346.3h7v1h-7z" fill="#62e237"/>
<path d="M420.4 340.3h1v1h-1zM431.4 340.3h2v1h-2zM418.4 341.3h1v1h-1zM435.4 341.3h2v1h-2zM417.4 342.3h1v1h-1zM436.4 342.3h2v1h-2zM436.4 343.3h2v1h-2zM418.4 344.3h1v1h-1zM434.4 344.3h2v1h-2zM420.4 345.3h1v1h-1zM430.4 345.3h3v1h-3z" fill="#a4e31f"/>
<path d="M421.4 340.3h2v1h-2zM426.4 340.3h5v1h-5zM419.4 341.3h1v1h-1zM432.4 341.3h3v1h-3zM418.4 342.3h1v1h-1zM434.4 342.3h2v1h-2zM418.4 343.3h1v1h-1zM434.4 343.3h2v1h-2zM419.4 344.3h1v1h-1zM432.4 344.3h2v1h-2zM421.4 345.3h5v1h-5zM427.4 345.3h3v1h-3z" fill="#e6e507"/>
<path d="M423.4 340.3h3v1h-3zM420.4 341.3h1v1h-1zM430.4 341.3h2v1h-2zM419.4 342.3h1v1h-1zM432.4 342.3h2v1h-2zM419.4 343.3h1v1h-1zM431.4 343.3h3v1h-3zM420.4 344.3h1v1h-1zM430.4 344.3h2v1h-2zM426.4 345.3h1v1h-1z" fill="#fbba00"/>
<path d="M421.4 341.3h9v1h-9zM420.4 342.3h1v1h-1zM430.4 342.3h2v1h-2zM420.4 343.3h1v1h-1zM430.4 343.3h1v1h-1zM421.4 344.3h9v1h-9z" fill="#fc7b00"/>
<path d="M421.4 342.3h9v1h-9zM421.4 343.3h9v1h-9z" fill="#fe3d00"/>
</g>
<path d="M380.4,232.3V358.3H501.8V232.3" stroke="#333" stroke-width="1" fill="none"/>
<path d="M380.4,232.7h-2.4M380.4,263.6h-2.4M380.4,294.8h-2.4M380.4,342.6h-2.4M380.4,254.2h-1.3M380.4,248.8h-1.3M380.4,244.9h-1.3M380.4,241.9h-1.3M380.4,239.4h-1.3M380.4,237.3h-1.3M380.4,235.5h-1.3M380.4,233.9h-1.3M380.4,285.4h-1.3M380.4,280.0h-1.3M380.4,276.1h-1.3M380.4,273.1h-1.3M380.4,270.6h-1.3M380.4,268.5h-1.3M380.4,266.7h-1.3M380.4,265.1h-1.3M380.4,304.8h-1.3M380.4,311.6h-1.3M380.4,316.9h-1.3M380.4,327.1h-1.3M380.4,357.7h-1.3M395.4,358.3v2.4M440.7,358.3v2.4M471.0,358.3v2.4M501.3,358.3v2.4M449.8,358.3v1.3M455.2,358.3v1.3M458.9,358.3v1.3M461.9,358.3v1.3M464.3,358.3v1.3M466.3,358.3v1.3M468.1,358.3v1.3M469.6,358.3v1.3M480.1,358.3v1.3M485.5,358.3v1.3M489.2,358.3v1.3M492.2,358.3v1.3M494.6,358.3v1.3M496.6,358.3v1.3M498.4,358.3v1.3M499.9,358.3v1.3M383.4,358.3v1.3M410.4,358.3v1.3M420.4,358.3v1.3M426.4,358.3v1.3M431.4,358.3v1.3M435.4,358.3v1.3" stroke="#333" stroke-width="0.7"/>
<text x="364.0" y="244.0" font-size="7.5" font-weight="bold" fill="#1a1a1a">10<tspan font-size="7" dy="-5">3</tspan></text>
<text x="364.0" y="268.5" font-size="7.5" font-weight="bold" fill="#1a1a1a">10<tspan font-size="7" dy="-5">2</tspan></text>
<text x="364.0" y="299.6" font-size="7.5" font-weight="bold" fill="#1a1a1a">10<tspan font-size="7" dy="-5">1</tspan></text>
<text x="367.8" y="345.7" font-size="7.5" font-weight="bold" fill="#1a1a1a">0</text>
<text x="394.2" y="371.6" font-size="7.5" font-weight="bold" fill="#1a1a1a">0</text>
<text x="438.6" y="371.6" font-size="7.5" font-weight="bold" fill="#1a1a1a">10<tspan font-size="7" dy="-5">1</tspan></text>
<text x="469.4" y="371.6" font-size="7.5" font-weight="bold" fill="#1a1a1a">10<tspan font-size="7" dy="-5">2</tspan></text>
<text x="489.3" y="371.6" font-size="7.5" font-weight="bold" fill="#1a1a1a">10<tspan font-size="7" dy="-5">3</tspan></text>
<text x="0" y="0" font-size="13.54" font-weight="bold" fill="#000" transform="translate(353.56 309.84) scale(1.002 1) rotate(-90)">GFP-A</text>
<text x="420.4" y="383.0" font-size="12.97" font-weight="bold" fill="#000">FSC-A</text>
<rect x="541.8" y="219.1" width="122.4" height="13.2" fill="#000"/>
<rect x="542.5" y="232.3" width="121.7" height="126.0" fill="#faf8f1"/>
<text x="566.0" y="228.3" font-size="10.26" font-weight="bold" fill="#fff" stroke="#fff" stroke-width="0.25">P5_B1</text>
<text x="602.1" y="228.3" font-size="10.6" font-weight="bold" fill="#fff" font-style="italic" textLength="26.43" lengthAdjust="spacingAndGlyphs" stroke="#fff" stroke-width="0.25">srfAC</text>
<text x="630.0" y="230.2" font-size="7.4" font-weight="normal" fill="#fff" font-style="italic" textLength="10.24" lengthAdjust="spacingAndGlyphs">gfp</text>
<path d="M557.5,232.3V358.3M602.8,232.3V358.3M633.1,232.3V358.3M542.5,232.7H664.2M542.5,263.6H664.2M542.5,294.8H664.2M542.5,342.6H664.2" stroke="#d6d2cb" stroke-width="0.9" fill="none"/>
<g filter="url(#bl)">
<path d="M635.5 233.3h1v1h-1zM638.5 233.3h1v1h-1zM587.5 237.3h1v1h-1zM645.5 237.3h1v1h-1zM649.5 237.3h1v1h-1zM623.5 238.3h1v1h-1zM640.5 239.3h1v1h-1zM621.5 240.3h1v1h-1zM656.5 241.3h1v1h-1zM581.5 243.3h1v1h-1zM614.5 243.3h1v1h-1zM575.5 244.3h1v1h-1zM645.5 245.3h1v1h-1zM647.5 245.3h1v1h-1zM617.5 246.3h1v1h-1zM605.5 248.3h1v1h-1zM548.5 249.3h1v1h-1zM567.5 252.3h1v1h-1zM642.5 252.3h1v1h-1zM602.5 253.3h1v1h-1zM586.5 254.3h1v1h-1zM593.5 254.3h1v1h-1zM591.5 256.3h1v1h-1zM640.5 258.3h1v1h-1zM642.5 259.3h1v1h-1zM584.5 261.3h1v1h-1zM559.5 262.3h1v1h-1zM638.5 262.3h1v1h-1zM564.5 264.3h1v1h-1zM631.5 273.3h1v1h-1zM637.5 273.3h1v1h-1zM567.5 274.3h1v1h-1zM555.5 276.3h1v1h-1zM632.5 276.3h1v1h-1zM637.5 277.3h1v1h-1zM637.5 280.3h1v1h-1zM565.5 281.3h1v1h-1zM630.5 281.3h1v1h-1zM554.5 282.3h1v1h-1zM642.5 282.3h1v1h-1zM562.5 283.3h1v1h-1zM563.5 285.3h1v1h-1zM655.5 286.3h1v1h-1zM657.5 287.3h1v1h-1zM626.5 288.3h1v1h-1zM553.5 289.3h1v1h-1zM631.5 290.3h1v1h-1zM564.5 292.3h1v1h-1zM625.5 293.3h1v1h-1zM647.5 293.3h1v1h-1zM629.5 295.3h1v1h-1zM645.5 295.3h1v1h-1zM659.5 295.3h1v1h-1zM622.5 298.3h1v1h-1zM640.5 298.3h1v1h-1zM642.5 298.3h1v1h-1zM650.5 298.3h1v1h-1zM647.5 299.3h1v1h-1zM653.5 301.3h1v1h-1zM567.5 302.3h1v1h-1zM609.5 302.3h1v1h-1zM617.5 302.3h1v1h-1zM620.5 304.3h1v1h-1zM568.5 305.3h1v1h-1zM570.5 306.3h1v1h-1zM562.5 308.3h1v1h-1zM646.5 308.3h1v1h-1zM638.5 309.3h1v1h-1zM647.5 311.3h1v1h-1zM650.5 312.3h1v1h-1zM640.5 314.3h1v1h-1zM628.5 317.3h1v1h-1zM648.5 317.3h1v1h-1zM658.5 317.3h1v1h-1zM548.5 318.3h1v1h-1zM555.5 318.3h1v1h-1zM573.5 318.3h1v1h-1zM646.5 318.3h1v1h-1zM565.5 321.3h1v1h-1zM649.5 321.3h1v1h-1zM631.5 322.3h1v1h-1zM657.5 322.3h1v1h-1zM631.5 324.3h1v1h-1zM640.5 324.3h1v1h-1zM652.5 324.3h1v1h-1zM566.5 325.3h1v1h-1zM627.5 325.3h1v1h-1zM642.5 325.3h1v1h-1zM655.5 326.3h1v1h-1zM570.5 327.3h1v1h-1zM652.5 327.3h1v1h-1zM639.5 328.3h1v1h-1zM562.5 329.3h1v1h-1zM649.5 329.3h1v1h-1zM638.5 330.3h1v1h-1zM550.5 331.3h1v1h-1zM641.5 331.3h1v1h-1zM650.5 334.3h1v1h-1zM570.5 335.3h1v1h-1zM567.5 336.3h1v1h-1zM643.5 336.3h1v1h-1zM566.5 339.3h1v1h-1zM652.5 342.3h1v1h-1zM640.5 343.3h1v1h-1zM558.5 345.3h1v1h-1zM563.5 346.3h1v1h-1zM656.5 346.3h1v1h-1zM557.5 348.3h1v1h-1zM559.5 348.3h1v1h-1zM571.5 348.3h1v1h-1zM563.5 349.3h1v1h-1zM570.5 351.3h1v1h-1zM661.5 351.3h1v1h-1zM573.5 352.3h1v1h-1zM588.5 354.3h1v1h-1zM622.5 354.3h1v1h-1zM598.5 355.3h1v1h-1zM600.5 356.3h1v1h-1z" fill="#2a35ff"/>
<path d="M630.5 238.3h1v1h-1zM629.5 239.3h1v1h-1zM633.5 239.3h1v1h-1zM643.5 240.3h1v1h-1zM625.5 241.3h1v1h-1zM631.5 241.3h1v1h-1zM633.5 241.3h1v1h-1zM636.5 241.3h1v1h-1zM643.5 241.3h1v1h-1zM629.5 242.3h1v1h-1zM631.5 242.3h2v1h-2zM634.5 242.3h1v1h-1zM623.5 243.3h1v1h-1zM626.5 243.3h3v1h-3zM634.5 243.3h1v1h-1zM629.5 244.3h2v1h-2zM621.5 245.3h1v1h-1zM625.5 245.3h1v1h-1zM627.5 245.3h1v1h-1zM632.5 245.3h1v1h-1zM640.5 245.3h1v1h-1zM622.5 246.3h1v1h-1zM626.5 246.3h1v1h-1zM632.5 246.3h2v1h-2zM635.5 246.3h1v1h-1zM640.5 246.3h2v1h-2zM622.5 247.3h2v1h-2zM626.5 247.3h1v1h-1zM629.5 247.3h2v1h-2zM632.5 247.3h1v1h-1zM636.5 247.3h2v1h-2zM640.5 247.3h1v1h-1zM607.5 248.3h1v1h-1zM616.5 248.3h1v1h-1zM621.5 248.3h1v1h-1zM623.5 248.3h1v1h-1zM628.5 248.3h1v1h-1zM640.5 248.3h1v1h-1zM608.5 249.3h1v1h-1zM620.5 249.3h1v1h-1zM631.5 249.3h1v1h-1zM644.5 249.3h1v1h-1zM646.5 249.3h1v1h-1zM609.5 250.3h1v1h-1zM614.5 250.3h1v1h-1zM618.5 250.3h1v1h-1zM620.5 250.3h1v1h-1zM637.5 250.3h1v1h-1zM639.5 250.3h1v1h-1zM645.5 250.3h1v1h-1zM612.5 251.3h1v1h-1zM617.5 251.3h1v1h-1zM620.5 251.3h1v1h-1zM631.5 251.3h1v1h-1zM637.5 251.3h1v1h-1zM609.5 252.3h1v1h-1zM613.5 252.3h1v1h-1zM620.5 252.3h1v1h-1zM622.5 252.3h1v1h-1zM631.5 252.3h1v1h-1zM638.5 252.3h1v1h-1zM606.5 253.3h1v1h-1zM605.5 254.3h1v1h-1zM639.5 254.3h1v1h-1zM606.5 255.3h1v1h-1zM637.5 255.3h1v1h-1zM604.5 256.3h1v1h-1zM610.5 256.3h1v1h-1zM636.5 256.3h1v1h-1zM638.5 256.3h1v1h-1zM586.5 257.3h1v1h-1zM594.5 257.3h1v1h-1zM597.5 257.3h1v1h-1zM601.5 257.3h1v1h-1zM606.5 257.3h2v1h-2zM588.5 258.3h1v1h-1zM596.5 258.3h1v1h-1zM599.5 258.3h2v1h-2zM605.5 258.3h1v1h-1zM609.5 258.3h1v1h-1zM603.5 259.3h1v1h-1zM633.5 259.3h1v1h-1zM635.5 259.3h1v1h-1zM587.5 260.3h1v1h-1zM590.5 260.3h1v1h-1zM592.5 260.3h1v1h-1zM594.5 260.3h1v1h-1zM589.5 261.3h1v1h-1zM592.5 261.3h1v1h-1zM595.5 261.3h2v1h-2zM598.5 261.3h1v1h-1zM580.5 263.3h1v1h-1zM591.5 263.3h1v1h-1zM633.5 263.3h2v1h-2zM580.5 264.3h1v1h-1zM632.5 264.3h1v1h-1zM636.5 264.3h1v1h-1zM583.5 265.3h1v1h-1zM586.5 265.3h1v1h-1zM629.5 265.3h1v1h-1zM632.5 265.3h1v1h-1zM576.5 266.3h1v1h-1zM578.5 266.3h1v1h-1zM581.5 266.3h1v1h-1zM585.5 266.3h1v1h-1zM628.5 266.3h1v1h-1zM635.5 266.3h1v1h-1zM568.5 267.3h1v1h-1zM578.5 267.3h1v1h-1zM581.5 267.3h1v1h-1zM583.5 267.3h1v1h-1zM627.5 267.3h1v1h-1zM630.5 267.3h1v1h-1zM568.5 268.3h1v1h-1zM583.5 268.3h1v1h-1zM585.5 268.3h1v1h-1zM635.5 268.3h1v1h-1zM635.5 269.3h2v1h-2zM572.5 270.3h1v1h-1zM578.5 270.3h1v1h-1zM626.5 270.3h1v1h-1zM629.5 270.3h1v1h-1zM573.5 271.3h1v1h-1zM628.5 271.3h1v1h-1zM573.5 272.3h2v1h-2zM629.5 272.3h1v1h-1zM571.5 273.3h2v1h-2zM574.5 273.3h1v1h-1zM623.5 273.3h1v1h-1zM627.5 273.3h1v1h-1zM570.5 274.3h1v1h-1zM572.5 275.3h1v1h-1zM621.5 276.3h1v1h-1zM627.5 276.3h1v1h-1zM629.5 276.3h1v1h-1zM571.5 278.3h1v1h-1zM621.5 278.3h1v1h-1zM623.5 278.3h1v1h-1zM625.5 278.3h1v1h-1zM627.5 278.3h1v1h-1zM568.5 279.3h1v1h-1zM571.5 279.3h1v1h-1zM570.5 280.3h1v1h-1zM621.5 280.3h1v1h-1zM626.5 280.3h1v1h-1zM570.5 281.3h1v1h-1zM620.5 281.3h1v1h-1zM622.5 281.3h1v1h-1zM617.5 282.3h1v1h-1zM619.5 282.3h1v1h-1zM626.5 282.3h1v1h-1zM565.5 283.3h1v1h-1zM569.5 283.3h1v1h-1zM617.5 283.3h1v1h-1zM627.5 283.3h1v1h-1zM567.5 284.3h1v1h-1zM617.5 284.3h1v1h-1zM626.5 284.3h1v1h-1zM633.5 284.3h1v1h-1zM617.5 285.3h2v1h-2zM621.5 285.3h1v1h-1zM632.5 285.3h1v1h-1zM567.5 286.3h1v1h-1zM616.5 286.3h1v1h-1zM619.5 286.3h1v1h-1zM621.5 286.3h1v1h-1zM624.5 286.3h1v1h-1zM632.5 286.3h1v1h-1zM566.5 287.3h1v1h-1zM623.5 287.3h1v1h-1zM631.5 287.3h1v1h-1zM638.5 287.3h1v1h-1zM637.5 288.3h1v1h-1zM566.5 289.3h1v1h-1zM616.5 289.3h1v1h-1zM618.5 289.3h1v1h-1zM566.5 290.3h1v1h-1zM621.5 290.3h1v1h-1zM623.5 290.3h1v1h-1zM613.5 292.3h1v1h-1zM615.5 292.3h1v1h-1zM613.5 293.3h1v1h-1zM616.5 293.3h1v1h-1zM619.5 293.3h1v1h-1zM607.5 294.3h1v1h-1zM609.5 294.3h1v1h-1zM615.5 294.3h1v1h-1zM621.5 294.3h1v1h-1zM619.5 295.3h1v1h-1zM569.5 296.3h2v1h-2zM608.5 296.3h1v1h-1zM612.5 296.3h1v1h-1zM614.5 296.3h2v1h-2zM612.5 297.3h1v1h-1zM604.5 298.3h1v1h-1zM606.5 298.3h1v1h-1zM614.5 298.3h1v1h-1zM571.5 299.3h1v1h-1zM607.5 299.3h1v1h-1zM610.5 299.3h1v1h-1zM613.5 299.3h1v1h-1zM574.5 300.3h1v1h-1zM603.5 300.3h1v1h-1zM575.5 301.3h2v1h-2zM603.5 301.3h2v1h-2zM606.5 301.3h1v1h-1zM630.5 301.3h1v1h-1zM574.5 302.3h1v1h-1zM604.5 302.3h1v1h-1zM630.5 302.3h1v1h-1zM564.5 303.3h1v1h-1zM600.5 303.3h2v1h-2zM575.5 304.3h1v1h-1zM577.5 304.3h1v1h-1zM599.5 304.3h1v1h-1zM602.5 304.3h1v1h-1zM615.5 304.3h1v1h-1zM627.5 304.3h1v1h-1zM564.5 305.3h2v1h-2zM577.5 305.3h4v1h-4zM582.5 305.3h1v1h-1zM584.5 305.3h1v1h-1zM598.5 305.3h1v1h-1zM603.5 305.3h1v1h-1zM607.5 305.3h1v1h-1zM609.5 305.3h1v1h-1zM613.5 305.3h1v1h-1zM615.5 305.3h2v1h-2zM623.5 305.3h1v1h-1zM630.5 305.3h3v1h-3zM575.5 306.3h1v1h-1zM597.5 306.3h1v1h-1zM599.5 306.3h3v1h-3zM624.5 306.3h1v1h-1zM626.5 306.3h1v1h-1zM629.5 306.3h1v1h-1zM656.5 306.3h1v1h-1zM590.5 307.3h1v1h-1zM600.5 307.3h1v1h-1zM607.5 307.3h1v1h-1zM612.5 307.3h1v1h-1zM615.5 307.3h2v1h-2zM618.5 307.3h1v1h-1zM622.5 307.3h1v1h-1zM654.5 307.3h2v1h-2zM574.5 308.3h1v1h-1zM576.5 308.3h1v1h-1zM580.5 308.3h1v1h-1zM583.5 308.3h1v1h-1zM587.5 308.3h1v1h-1zM590.5 308.3h1v1h-1zM601.5 308.3h1v1h-1zM603.5 308.3h1v1h-1zM575.5 309.3h1v1h-1zM577.5 309.3h2v1h-2zM584.5 309.3h2v1h-2zM588.5 309.3h1v1h-1zM598.5 309.3h1v1h-1zM606.5 309.3h1v1h-1zM611.5 309.3h1v1h-1zM620.5 309.3h1v1h-1zM624.5 309.3h1v1h-1zM571.5 310.3h1v1h-1zM573.5 310.3h1v1h-1zM579.5 310.3h1v1h-1zM586.5 310.3h2v1h-2zM592.5 310.3h1v1h-1zM597.5 310.3h1v1h-1zM599.5 310.3h1v1h-1zM606.5 310.3h2v1h-2zM612.5 310.3h1v1h-1zM614.5 310.3h1v1h-1zM619.5 310.3h1v1h-1zM621.5 310.3h1v1h-1zM636.5 310.3h1v1h-1zM649.5 310.3h1v1h-1zM568.5 311.3h1v1h-1zM572.5 311.3h1v1h-1zM574.5 311.3h1v1h-1zM579.5 311.3h1v1h-1zM584.5 311.3h1v1h-1zM589.5 311.3h1v1h-1zM592.5 311.3h1v1h-1zM595.5 311.3h1v1h-1zM600.5 311.3h1v1h-1zM605.5 311.3h2v1h-2zM611.5 311.3h1v1h-1zM614.5 311.3h2v1h-2zM625.5 311.3h1v1h-1zM633.5 311.3h2v1h-2zM567.5 312.3h1v1h-1zM581.5 312.3h1v1h-1zM591.5 312.3h1v1h-1zM598.5 312.3h1v1h-1zM604.5 312.3h1v1h-1zM614.5 312.3h1v1h-1zM618.5 312.3h1v1h-1zM625.5 312.3h1v1h-1zM576.5 313.3h1v1h-1zM578.5 313.3h1v1h-1zM582.5 313.3h2v1h-2zM585.5 313.3h1v1h-1zM588.5 313.3h1v1h-1zM591.5 313.3h1v1h-1zM598.5 313.3h1v1h-1zM601.5 313.3h1v1h-1zM603.5 313.3h1v1h-1zM608.5 313.3h1v1h-1zM610.5 313.3h1v1h-1zM621.5 313.3h1v1h-1zM629.5 313.3h1v1h-1zM633.5 313.3h1v1h-1zM635.5 313.3h2v1h-2zM587.5 314.3h1v1h-1zM589.5 314.3h1v1h-1zM591.5 314.3h1v1h-1zM596.5 314.3h1v1h-1zM615.5 314.3h1v1h-1zM619.5 314.3h1v1h-1zM621.5 314.3h1v1h-1zM626.5 314.3h1v1h-1zM630.5 314.3h1v1h-1zM590.5 315.3h1v1h-1zM592.5 315.3h1v1h-1zM594.5 315.3h2v1h-2zM602.5 315.3h1v1h-1zM605.5 315.3h2v1h-2zM612.5 315.3h1v1h-1zM619.5 315.3h2v1h-2zM585.5 316.3h1v1h-1zM601.5 316.3h1v1h-1zM605.5 316.3h1v1h-1zM608.5 316.3h2v1h-2zM611.5 316.3h1v1h-1zM618.5 316.3h1v1h-1zM623.5 316.3h3v1h-3zM642.5 316.3h1v1h-1zM579.5 317.3h2v1h-2zM584.5 317.3h2v1h-2zM588.5 317.3h1v1h-1zM592.5 317.3h2v1h-2zM604.5 317.3h1v1h-1zM613.5 317.3h2v1h-2zM616.5 317.3h1v1h-1zM620.5 317.3h1v1h-1zM622.5 317.3h2v1h-2zM636.5 317.3h1v1h-1zM642.5 317.3h1v1h-1zM584.5 318.3h1v1h-1zM590.5 318.3h1v1h-1zM592.5 318.3h1v1h-1zM603.5 318.3h1v1h-1zM606.5 318.3h1v1h-1zM623.5 318.3h1v1h-1zM637.5 318.3h1v1h-1zM652.5 318.3h2v1h-2zM581.5 319.3h1v1h-1zM590.5 319.3h1v1h-1zM604.5 319.3h1v1h-1zM613.5 319.3h2v1h-2zM625.5 319.3h1v1h-1zM635.5 319.3h1v1h-1zM569.5 320.3h1v1h-1zM571.5 320.3h1v1h-1zM576.5 320.3h1v1h-1zM588.5 320.3h1v1h-1zM606.5 320.3h1v1h-1zM624.5 320.3h1v1h-1zM627.5 320.3h1v1h-1zM635.5 320.3h2v1h-2zM651.5 320.3h1v1h-1zM576.5 321.3h3v1h-3zM583.5 321.3h1v1h-1zM600.5 321.3h1v1h-1zM606.5 321.3h1v1h-1zM612.5 321.3h1v1h-1zM621.5 321.3h1v1h-1zM571.5 322.3h1v1h-1zM575.5 322.3h1v1h-1zM580.5 322.3h1v1h-1zM584.5 322.3h1v1h-1zM600.5 322.3h1v1h-1zM608.5 322.3h1v1h-1zM624.5 322.3h1v1h-1zM576.5 323.3h1v1h-1zM592.5 323.3h1v1h-1zM597.5 323.3h2v1h-2zM600.5 323.3h2v1h-2zM619.5 323.3h1v1h-1zM621.5 323.3h1v1h-1zM573.5 324.3h1v1h-1zM580.5 324.3h1v1h-1zM582.5 324.3h1v1h-1zM584.5 324.3h1v1h-1zM589.5 324.3h1v1h-1zM591.5 324.3h1v1h-1zM593.5 324.3h1v1h-1zM595.5 324.3h1v1h-1zM604.5 324.3h1v1h-1zM609.5 324.3h1v1h-1zM624.5 324.3h1v1h-1zM573.5 325.3h1v1h-1zM584.5 325.3h1v1h-1zM589.5 325.3h1v1h-1zM597.5 325.3h1v1h-1zM602.5 325.3h1v1h-1zM611.5 325.3h1v1h-1zM618.5 325.3h1v1h-1zM620.5 325.3h2v1h-2zM574.5 326.3h2v1h-2zM585.5 326.3h1v1h-1zM588.5 326.3h1v1h-1zM591.5 326.3h1v1h-1zM604.5 326.3h1v1h-1zM608.5 326.3h1v1h-1zM617.5 326.3h1v1h-1zM621.5 326.3h1v1h-1zM624.5 326.3h1v1h-1zM577.5 327.3h1v1h-1zM579.5 327.3h1v1h-1zM589.5 327.3h1v1h-1zM594.5 327.3h1v1h-1zM598.5 327.3h1v1h-1zM606.5 327.3h2v1h-2zM619.5 327.3h1v1h-1zM621.5 327.3h1v1h-1zM633.5 327.3h1v1h-1zM578.5 328.3h1v1h-1zM587.5 328.3h1v1h-1zM592.5 328.3h1v1h-1zM605.5 328.3h1v1h-1zM609.5 328.3h3v1h-3zM615.5 328.3h2v1h-2zM618.5 328.3h2v1h-2zM630.5 328.3h2v1h-2zM579.5 329.3h1v1h-1zM586.5 329.3h1v1h-1zM589.5 329.3h1v1h-1zM594.5 329.3h1v1h-1zM600.5 329.3h1v1h-1zM609.5 329.3h1v1h-1zM625.5 329.3h1v1h-1zM634.5 329.3h1v1h-1zM573.5 330.3h1v1h-1zM582.5 330.3h1v1h-1zM589.5 330.3h1v1h-1zM591.5 330.3h1v1h-1zM595.5 330.3h2v1h-2zM601.5 330.3h1v1h-1zM609.5 330.3h1v1h-1zM617.5 330.3h1v1h-1zM628.5 330.3h1v1h-1zM578.5 331.3h1v1h-1zM587.5 331.3h1v1h-1zM590.5 331.3h3v1h-3zM604.5 331.3h1v1h-1zM607.5 331.3h1v1h-1zM610.5 331.3h1v1h-1zM620.5 331.3h1v1h-1zM622.5 331.3h1v1h-1zM624.5 331.3h1v1h-1zM632.5 331.3h1v1h-1zM572.5 332.3h1v1h-1zM577.5 332.3h1v1h-1zM581.5 332.3h1v1h-1zM583.5 332.3h1v1h-1zM585.5 332.3h1v1h-1zM589.5 332.3h1v1h-1zM594.5 332.3h2v1h-2zM597.5 332.3h1v1h-1zM603.5 332.3h1v1h-1zM605.5 332.3h1v1h-1zM607.5 332.3h1v1h-1zM617.5 332.3h1v1h-1zM625.5 332.3h1v1h-1zM630.5 332.3h2v1h-2zM582.5 333.3h1v1h-1zM593.5 333.3h1v1h-1zM595.5 333.3h2v1h-2zM598.5 333.3h1v1h-1zM602.5 333.3h1v1h-1zM607.5 333.3h1v1h-1zM612.5 333.3h1v1h-1zM619.5 333.3h1v1h-1zM625.5 333.3h1v1h-1zM607.5 334.3h1v1h-1zM616.5 334.3h1v1h-1zM629.5 334.3h1v1h-1zM632.5 334.3h1v1h-1zM640.5 334.3h1v1h-1zM572.5 335.3h1v1h-1zM575.5 335.3h1v1h-1zM577.5 335.3h1v1h-1zM614.5 335.3h1v1h-1zM616.5 335.3h1v1h-1zM618.5 335.3h1v1h-1zM621.5 335.3h1v1h-1zM624.5 335.3h1v1h-1zM627.5 335.3h1v1h-1zM629.5 335.3h1v1h-1zM639.5 335.3h1v1h-1zM563.5 336.3h2v1h-2zM574.5 336.3h1v1h-1zM618.5 336.3h1v1h-1zM625.5 336.3h1v1h-1zM633.5 336.3h1v1h-1zM636.5 336.3h1v1h-1zM617.5 337.3h1v1h-1zM621.5 337.3h1v1h-1zM624.5 337.3h2v1h-2zM635.5 337.3h3v1h-3zM628.5 338.3h1v1h-1zM633.5 339.3h1v1h-1zM637.5 339.3h1v1h-1zM644.5 339.3h1v1h-1zM627.5 340.3h1v1h-1zM633.5 340.3h1v1h-1zM636.5 340.3h1v1h-1zM643.5 340.3h1v1h-1zM629.5 341.3h2v1h-2zM565.5 342.3h1v1h-1zM567.5 342.3h1v1h-1zM572.5 342.3h1v1h-1zM631.5 342.3h1v1h-1zM567.5 343.3h1v1h-1zM569.5 343.3h1v1h-1zM632.5 343.3h2v1h-2zM635.5 343.3h2v1h-2zM566.5 344.3h1v1h-1zM570.5 344.3h1v1h-1zM572.5 344.3h1v1h-1zM630.5 344.3h1v1h-1zM634.5 344.3h1v1h-1zM566.5 345.3h1v1h-1zM571.5 345.3h1v1h-1zM628.5 345.3h1v1h-1zM631.5 345.3h1v1h-1zM635.5 345.3h1v1h-1zM637.5 345.3h2v1h-2zM626.5 346.3h1v1h-1zM630.5 346.3h1v1h-1zM632.5 347.3h1v1h-1zM635.5 347.3h1v1h-1zM618.5 348.3h1v1h-1zM620.5 348.3h1v1h-1zM624.5 348.3h3v1h-3zM628.5 348.3h1v1h-1zM574.5 349.3h1v1h-1zM616.5 349.3h1v1h-1zM632.5 349.3h1v1h-1zM580.5 350.3h1v1h-1zM605.5 350.3h1v1h-1zM607.5 350.3h2v1h-2zM611.5 350.3h1v1h-1zM614.5 350.3h1v1h-1zM618.5 350.3h1v1h-1zM632.5 350.3h1v1h-1zM577.5 351.3h1v1h-1zM588.5 351.3h1v1h-1zM604.5 351.3h1v1h-1zM620.5 351.3h1v1h-1zM626.5 351.3h1v1h-1zM613.5 352.3h1v1h-1zM626.5 352.3h1v1h-1zM633.5 352.3h1v1h-1zM604.5 353.3h1v1h-1zM614.5 353.3h1v1h-1zM614.5 354.3h1v1h-1z" fill="#1a3bff"/>
<path d="M633.5 247.3h1v1h-1zM635.5 247.3h1v1h-1zM634.5 248.3h1v1h-1zM636.5 248.3h1v1h-1zM624.5 249.3h2v1h-2zM628.5 249.3h2v1h-2zM633.5 249.3h1v1h-1zM635.5 249.3h1v1h-1zM624.5 250.3h1v1h-1zM626.5 250.3h3v1h-3zM635.5 250.3h1v1h-1zM625.5 251.3h1v1h-1zM629.5 251.3h1v1h-1zM632.5 251.3h1v1h-1zM634.5 251.3h3v1h-3zM626.5 252.3h1v1h-1zM628.5 252.3h2v1h-2zM633.5 252.3h2v1h-2zM612.5 253.3h4v1h-4zM618.5 253.3h1v1h-1zM625.5 253.3h1v1h-1zM627.5 253.3h2v1h-2zM633.5 253.3h2v1h-2zM636.5 253.3h1v1h-1zM612.5 254.3h2v1h-2zM615.5 254.3h3v1h-3zM619.5 254.3h2v1h-2zM622.5 254.3h2v1h-2zM627.5 254.3h1v1h-1zM629.5 254.3h1v1h-1zM633.5 254.3h1v1h-1zM635.5 254.3h3v1h-3zM612.5 255.3h3v1h-3zM619.5 255.3h2v1h-2zM623.5 255.3h5v1h-5zM630.5 255.3h1v1h-1zM632.5 255.3h2v1h-2zM635.5 255.3h2v1h-2zM611.5 256.3h1v1h-1zM613.5 256.3h1v1h-1zM618.5 256.3h1v1h-1zM620.5 256.3h6v1h-6zM628.5 256.3h2v1h-2zM631.5 256.3h2v1h-2zM634.5 256.3h1v1h-1zM611.5 257.3h1v1h-1zM613.5 257.3h1v1h-1zM621.5 257.3h1v1h-1zM624.5 257.3h1v1h-1zM628.5 257.3h1v1h-1zM630.5 257.3h1v1h-1zM633.5 257.3h1v1h-1zM612.5 258.3h1v1h-1zM619.5 258.3h1v1h-1zM621.5 258.3h8v1h-8zM630.5 258.3h2v1h-2zM633.5 258.3h2v1h-2zM609.5 259.3h2v1h-2zM612.5 259.3h2v1h-2zM623.5 259.3h2v1h-2zM628.5 259.3h1v1h-1zM631.5 259.3h1v1h-1zM601.5 260.3h2v1h-2zM604.5 260.3h1v1h-1zM607.5 260.3h1v1h-1zM610.5 260.3h1v1h-1zM612.5 260.3h1v1h-1zM614.5 260.3h1v1h-1zM619.5 260.3h4v1h-4zM626.5 260.3h1v1h-1zM628.5 260.3h4v1h-4zM601.5 261.3h1v1h-1zM603.5 261.3h1v1h-1zM605.5 261.3h4v1h-4zM610.5 261.3h1v1h-1zM612.5 261.3h3v1h-3zM619.5 261.3h1v1h-1zM621.5 261.3h1v1h-1zM625.5 261.3h1v1h-1zM627.5 261.3h1v1h-1zM629.5 261.3h1v1h-1zM631.5 261.3h1v1h-1zM597.5 262.3h1v1h-1zM601.5 262.3h1v1h-1zM608.5 262.3h1v1h-1zM610.5 262.3h2v1h-2zM623.5 262.3h3v1h-3zM592.5 263.3h1v1h-1zM594.5 263.3h2v1h-2zM597.5 263.3h2v1h-2zM601.5 263.3h1v1h-1zM620.5 263.3h4v1h-4zM625.5 263.3h1v1h-1zM591.5 264.3h9v1h-9zM620.5 264.3h2v1h-2zM625.5 264.3h3v1h-3zM587.5 265.3h3v1h-3zM591.5 265.3h1v1h-1zM594.5 265.3h1v1h-1zM596.5 265.3h1v1h-1zM600.5 265.3h1v1h-1zM620.5 265.3h2v1h-2zM625.5 265.3h2v1h-2zM588.5 266.3h2v1h-2zM591.5 266.3h2v1h-2zM595.5 266.3h3v1h-3zM599.5 266.3h1v1h-1zM620.5 266.3h1v1h-1zM624.5 266.3h1v1h-1zM626.5 266.3h1v1h-1zM587.5 267.3h5v1h-5zM595.5 267.3h1v1h-1zM598.5 267.3h1v1h-1zM620.5 267.3h7v1h-7zM581.5 268.3h1v1h-1zM586.5 268.3h1v1h-1zM588.5 268.3h3v1h-3zM594.5 268.3h1v1h-1zM624.5 268.3h1v1h-1zM580.5 269.3h3v1h-3zM588.5 269.3h1v1h-1zM591.5 269.3h2v1h-2zM620.5 269.3h1v1h-1zM623.5 269.3h2v1h-2zM579.5 270.3h4v1h-4zM584.5 270.3h1v1h-1zM587.5 270.3h1v1h-1zM589.5 270.3h2v1h-2zM620.5 270.3h1v1h-1zM583.5 271.3h3v1h-3zM587.5 271.3h1v1h-1zM589.5 271.3h1v1h-1zM618.5 271.3h1v1h-1zM620.5 271.3h1v1h-1zM579.5 272.3h1v1h-1zM581.5 272.3h1v1h-1zM617.5 272.3h1v1h-1zM619.5 272.3h2v1h-2zM577.5 273.3h2v1h-2zM591.5 273.3h1v1h-1zM617.5 273.3h1v1h-1zM620.5 273.3h1v1h-1zM578.5 274.3h3v1h-3zM616.5 274.3h3v1h-3zM620.5 274.3h1v1h-1zM575.5 275.3h1v1h-1zM577.5 275.3h2v1h-2zM615.5 275.3h2v1h-2zM620.5 275.3h1v1h-1zM572.5 276.3h3v1h-3zM576.5 276.3h1v1h-1zM614.5 276.3h1v1h-1zM617.5 276.3h3v1h-3zM573.5 277.3h2v1h-2zM576.5 277.3h2v1h-2zM614.5 277.3h2v1h-2zM619.5 277.3h1v1h-1zM573.5 278.3h3v1h-3zM613.5 278.3h3v1h-3zM617.5 278.3h1v1h-1zM620.5 278.3h1v1h-1zM613.5 279.3h1v1h-1zM616.5 279.3h3v1h-3zM572.5 280.3h1v1h-1zM611.5 280.3h3v1h-3zM617.5 280.3h1v1h-1zM619.5 280.3h2v1h-2zM572.5 281.3h1v1h-1zM612.5 281.3h1v1h-1zM616.5 281.3h1v1h-1zM571.5 282.3h1v1h-1zM613.5 282.3h3v1h-3zM571.5 283.3h2v1h-2zM607.5 283.3h1v1h-1zM614.5 283.3h1v1h-1zM571.5 284.3h1v1h-1zM606.5 284.3h2v1h-2zM613.5 284.3h1v1h-1zM569.5 285.3h3v1h-3zM608.5 285.3h2v1h-2zM611.5 285.3h1v1h-1zM615.5 285.3h2v1h-2zM569.5 286.3h1v1h-1zM609.5 286.3h5v1h-5zM570.5 287.3h1v1h-1zM609.5 287.3h2v1h-2zM613.5 287.3h2v1h-2zM569.5 288.3h2v1h-2zM609.5 288.3h2v1h-2zM612.5 288.3h3v1h-3zM609.5 289.3h2v1h-2zM612.5 289.3h1v1h-1zM614.5 289.3h1v1h-1zM570.5 290.3h3v1h-3zM609.5 290.3h4v1h-4zM615.5 290.3h1v1h-1zM570.5 291.3h3v1h-3zM608.5 291.3h2v1h-2zM612.5 291.3h1v1h-1zM614.5 291.3h1v1h-1zM571.5 292.3h1v1h-1zM573.5 292.3h1v1h-1zM601.5 292.3h2v1h-2zM606.5 292.3h1v1h-1zM571.5 293.3h2v1h-2zM574.5 293.3h1v1h-1zM600.5 293.3h1v1h-1zM604.5 293.3h1v1h-1zM606.5 293.3h1v1h-1zM608.5 293.3h1v1h-1zM571.5 294.3h2v1h-2zM574.5 294.3h1v1h-1zM602.5 294.3h3v1h-3zM572.5 295.3h1v1h-1zM601.5 295.3h1v1h-1zM604.5 295.3h1v1h-1zM572.5 296.3h3v1h-3zM602.5 296.3h1v1h-1zM604.5 296.3h2v1h-2zM573.5 297.3h1v1h-1zM600.5 297.3h2v1h-2zM603.5 297.3h1v1h-1zM573.5 298.3h4v1h-4zM600.5 298.3h1v1h-1zM602.5 298.3h1v1h-1zM577.5 299.3h1v1h-1zM599.5 299.3h1v1h-1zM578.5 300.3h2v1h-2zM598.5 300.3h4v1h-4zM577.5 301.3h1v1h-1zM597.5 301.3h4v1h-4zM579.5 302.3h3v1h-3zM593.5 302.3h1v1h-1zM595.5 302.3h1v1h-1zM597.5 302.3h1v1h-1zM599.5 302.3h1v1h-1zM581.5 303.3h3v1h-3zM590.5 303.3h2v1h-2zM593.5 303.3h2v1h-2zM579.5 304.3h1v1h-1zM581.5 304.3h1v1h-1zM585.5 304.3h1v1h-1zM587.5 304.3h2v1h-2zM593.5 304.3h4v1h-4zM586.5 305.3h3v1h-3zM592.5 305.3h1v1h-1zM594.5 305.3h1v1h-1zM589.5 306.3h1v1h-1zM591.5 306.3h4v1h-4zM596.5 306.3h1v1h-1zM587.5 307.3h2v1h-2zM592.5 307.3h1v1h-1zM595.5 307.3h2v1h-2zM593.5 308.3h3v1h-3zM580.5 309.3h2v1h-2zM594.5 309.3h1v1h-1zM596.5 309.3h1v1h-1zM581.5 310.3h3v1h-3zM594.5 310.3h2v1h-2zM613.5 312.3h1v1h-1zM600.5 313.3h1v1h-1zM611.5 313.3h2v1h-2zM599.5 314.3h1v1h-1zM611.5 314.3h1v1h-1zM598.5 315.3h2v1h-2zM601.5 315.3h1v1h-1zM611.5 315.3h1v1h-1zM596.5 316.3h4v1h-4zM597.5 317.3h1v1h-1zM609.5 317.3h1v1h-1zM585.5 318.3h1v1h-1zM598.5 318.3h1v1h-1zM600.5 318.3h1v1h-1zM607.5 318.3h3v1h-3zM611.5 318.3h1v1h-1zM616.5 318.3h2v1h-2zM594.5 319.3h1v1h-1zM596.5 319.3h2v1h-2zM599.5 319.3h1v1h-1zM601.5 319.3h2v1h-2zM608.5 319.3h2v1h-2zM611.5 319.3h2v1h-2zM616.5 319.3h3v1h-3zM585.5 320.3h1v1h-1zM593.5 320.3h3v1h-3zM597.5 320.3h2v1h-2zM601.5 320.3h2v1h-2zM612.5 320.3h1v1h-1zM618.5 320.3h1v1h-1zM586.5 321.3h2v1h-2zM594.5 321.3h1v1h-1zM596.5 321.3h1v1h-1zM603.5 321.3h1v1h-1zM609.5 321.3h2v1h-2zM614.5 321.3h1v1h-1zM616.5 321.3h4v1h-4zM585.5 322.3h4v1h-4zM595.5 322.3h1v1h-1zM603.5 322.3h3v1h-3zM609.5 322.3h2v1h-2zM613.5 322.3h1v1h-1zM615.5 322.3h1v1h-1zM619.5 322.3h2v1h-2zM586.5 323.3h1v1h-1zM588.5 323.3h1v1h-1zM593.5 323.3h2v1h-2zM605.5 323.3h1v1h-1zM610.5 323.3h1v1h-1zM614.5 323.3h2v1h-2zM585.5 324.3h3v1h-3zM597.5 324.3h2v1h-2zM611.5 324.3h2v1h-2zM615.5 324.3h1v1h-1zM598.5 325.3h1v1h-1zM600.5 325.3h1v1h-1zM613.5 325.3h3v1h-3zM599.5 326.3h1v1h-1zM602.5 326.3h1v1h-1zM614.5 326.3h2v1h-2zM603.5 327.3h2v1h-2zM601.5 328.3h3v1h-3zM592.5 329.3h2v1h-2zM601.5 329.3h4v1h-4zM593.5 330.3h1v1h-1zM583.5 334.3h1v1h-1zM585.5 334.3h1v1h-1zM587.5 334.3h1v1h-1zM592.5 334.3h1v1h-1zM605.5 334.3h1v1h-1zM609.5 334.3h3v1h-3zM581.5 335.3h3v1h-3zM586.5 335.3h1v1h-1zM598.5 335.3h1v1h-1zM600.5 335.3h4v1h-4zM605.5 335.3h1v1h-1zM609.5 335.3h1v1h-1zM611.5 335.3h2v1h-2zM577.5 336.3h2v1h-2zM608.5 336.3h2v1h-2zM613.5 336.3h1v1h-1zM619.5 337.3h1v1h-1zM615.5 338.3h1v1h-1zM619.5 338.3h1v1h-1zM621.5 339.3h2v1h-2zM623.5 340.3h1v1h-1zM573.5 341.3h1v1h-1zM624.5 341.3h1v1h-1zM627.5 341.3h1v1h-1zM624.5 342.3h2v1h-2zM627.5 342.3h3v1h-3zM624.5 343.3h1v1h-1zM626.5 343.3h2v1h-2zM624.5 344.3h1v1h-1zM627.5 344.3h1v1h-1zM621.5 345.3h2v1h-2zM624.5 345.3h2v1h-2zM627.5 345.3h1v1h-1zM618.5 346.3h3v1h-3zM611.5 347.3h2v1h-2zM614.5 347.3h1v1h-1zM616.5 347.3h1v1h-1zM575.5 348.3h1v1h-1zM577.5 348.3h1v1h-1zM612.5 348.3h3v1h-3zM579.5 349.3h3v1h-3zM601.5 349.3h1v1h-1zM603.5 349.3h1v1h-1zM606.5 349.3h1v1h-1zM608.5 349.3h1v1h-1zM615.5 349.3h1v1h-1zM585.5 350.3h1v1h-1zM592.5 350.3h1v1h-1zM598.5 350.3h1v1h-1zM600.5 350.3h1v1h-1zM602.5 350.3h1v1h-1zM590.5 351.3h1v1h-1zM592.5 351.3h1v1h-1z" fill="#0a41ff"/>
<path d="M615.5 255.3h2v1h-2zM615.5 256.3h3v1h-3zM614.5 257.3h5v1h-5zM614.5 258.3h1v1h-1zM616.5 258.3h1v1h-1zM618.5 258.3h1v1h-1zM615.5 259.3h2v1h-2zM618.5 259.3h1v1h-1zM621.5 259.3h2v1h-2zM616.5 260.3h3v1h-3zM604.5 261.3h1v1h-1zM615.5 261.3h3v1h-3zM623.5 261.3h2v1h-2zM602.5 262.3h1v1h-1zM604.5 262.3h2v1h-2zM612.5 262.3h2v1h-2zM615.5 262.3h1v1h-1zM618.5 262.3h2v1h-2zM602.5 263.3h4v1h-4zM607.5 263.3h4v1h-4zM612.5 263.3h8v1h-8zM601.5 264.3h3v1h-3zM605.5 264.3h10v1h-10zM616.5 264.3h4v1h-4zM603.5 265.3h11v1h-11zM615.5 265.3h4v1h-4zM601.5 266.3h2v1h-2zM604.5 266.3h4v1h-4zM609.5 266.3h6v1h-6zM616.5 266.3h3v1h-3zM596.5 267.3h2v1h-2zM600.5 267.3h6v1h-6zM607.5 267.3h2v1h-2zM610.5 267.3h4v1h-4zM615.5 267.3h1v1h-1zM617.5 267.3h3v1h-3zM596.5 268.3h3v1h-3zM600.5 268.3h5v1h-5zM606.5 268.3h6v1h-6zM613.5 268.3h4v1h-4zM618.5 268.3h2v1h-2zM593.5 269.3h5v1h-5zM599.5 269.3h1v1h-1zM604.5 269.3h2v1h-2zM607.5 269.3h3v1h-3zM611.5 269.3h2v1h-2zM614.5 269.3h4v1h-4zM619.5 269.3h1v1h-1zM591.5 270.3h1v1h-1zM593.5 270.3h5v1h-5zM599.5 270.3h2v1h-2zM604.5 270.3h2v1h-2zM608.5 270.3h4v1h-4zM613.5 270.3h7v1h-7zM591.5 271.3h7v1h-7zM599.5 271.3h1v1h-1zM605.5 271.3h1v1h-1zM607.5 271.3h1v1h-1zM610.5 271.3h8v1h-8zM582.5 272.3h6v1h-6zM591.5 272.3h2v1h-2zM594.5 272.3h2v1h-2zM597.5 272.3h2v1h-2zM605.5 272.3h8v1h-8zM614.5 272.3h3v1h-3zM582.5 273.3h4v1h-4zM587.5 273.3h4v1h-4zM592.5 273.3h1v1h-1zM594.5 273.3h1v1h-1zM596.5 273.3h3v1h-3zM601.5 273.3h1v1h-1zM603.5 273.3h7v1h-7zM612.5 273.3h4v1h-4zM582.5 274.3h1v1h-1zM586.5 274.3h4v1h-4zM592.5 274.3h5v1h-5zM598.5 274.3h1v1h-1zM600.5 274.3h14v1h-14zM615.5 274.3h1v1h-1zM580.5 275.3h3v1h-3zM587.5 275.3h4v1h-4zM592.5 275.3h6v1h-6zM599.5 275.3h7v1h-7zM609.5 275.3h1v1h-1zM611.5 275.3h1v1h-1zM578.5 276.3h4v1h-4zM587.5 276.3h5v1h-5zM596.5 276.3h4v1h-4zM602.5 276.3h2v1h-2zM610.5 276.3h4v1h-4zM578.5 277.3h2v1h-2zM587.5 277.3h1v1h-1zM589.5 277.3h3v1h-3zM609.5 277.3h2v1h-2zM612.5 277.3h2v1h-2zM577.5 278.3h1v1h-1zM579.5 278.3h1v1h-1zM609.5 278.3h4v1h-4zM575.5 279.3h1v1h-1zM577.5 279.3h2v1h-2zM607.5 279.3h4v1h-4zM574.5 280.3h2v1h-2zM603.5 280.3h8v1h-8zM574.5 281.3h1v1h-1zM604.5 281.3h1v1h-1zM606.5 281.3h6v1h-6zM574.5 282.3h1v1h-1zM602.5 282.3h4v1h-4zM609.5 282.3h2v1h-2zM612.5 282.3h1v1h-1zM573.5 283.3h2v1h-2zM602.5 283.3h1v1h-1zM604.5 283.3h2v1h-2zM608.5 283.3h5v1h-5zM573.5 284.3h2v1h-2zM604.5 284.3h2v1h-2zM609.5 284.3h4v1h-4zM573.5 285.3h2v1h-2zM603.5 285.3h4v1h-4zM572.5 286.3h1v1h-1zM574.5 286.3h2v1h-2zM602.5 286.3h2v1h-2zM606.5 286.3h1v1h-1zM571.5 287.3h4v1h-4zM601.5 287.3h1v1h-1zM603.5 287.3h4v1h-4zM571.5 288.3h2v1h-2zM601.5 288.3h1v1h-1zM603.5 288.3h4v1h-4zM572.5 289.3h3v1h-3zM601.5 289.3h2v1h-2zM604.5 289.3h4v1h-4zM573.5 290.3h2v1h-2zM600.5 290.3h8v1h-8zM574.5 291.3h1v1h-1zM600.5 291.3h1v1h-1zM603.5 291.3h5v1h-5zM574.5 292.3h2v1h-2zM598.5 292.3h3v1h-3zM603.5 292.3h1v1h-1zM576.5 293.3h1v1h-1zM597.5 294.3h1v1h-1zM599.5 294.3h2v1h-2zM576.5 295.3h1v1h-1zM597.5 295.3h4v1h-4zM575.5 296.3h3v1h-3zM595.5 296.3h6v1h-6zM575.5 297.3h4v1h-4zM596.5 297.3h2v1h-2zM599.5 297.3h1v1h-1zM577.5 298.3h3v1h-3zM594.5 298.3h2v1h-2zM597.5 298.3h2v1h-2zM579.5 299.3h3v1h-3zM594.5 299.3h2v1h-2zM581.5 300.3h3v1h-3zM592.5 300.3h6v1h-6zM581.5 301.3h1v1h-1zM583.5 301.3h2v1h-2zM589.5 301.3h4v1h-4zM595.5 301.3h1v1h-1zM583.5 302.3h7v1h-7zM585.5 303.3h3v1h-3zM584.5 335.3h1v1h-1zM588.5 335.3h3v1h-3zM592.5 335.3h2v1h-2zM580.5 336.3h1v1h-1zM596.5 336.3h1v1h-1zM599.5 336.3h7v1h-7zM577.5 337.3h1v1h-1zM607.5 337.3h2v1h-2zM610.5 337.3h1v1h-1zM612.5 337.3h2v1h-2zM611.5 338.3h3v1h-3zM575.5 339.3h1v1h-1zM615.5 339.3h1v1h-1zM617.5 339.3h1v1h-1zM619.5 339.3h2v1h-2zM575.5 340.3h1v1h-1zM616.5 340.3h2v1h-2zM619.5 340.3h2v1h-2zM621.5 341.3h2v1h-2zM622.5 342.3h2v1h-2zM574.5 343.3h1v1h-1zM621.5 343.3h3v1h-3zM616.5 344.3h2v1h-2zM620.5 344.3h1v1h-1zM622.5 344.3h1v1h-1zM575.5 345.3h1v1h-1zM614.5 345.3h2v1h-2zM617.5 345.3h1v1h-1zM619.5 345.3h1v1h-1zM575.5 346.3h1v1h-1zM611.5 346.3h3v1h-3zM615.5 346.3h3v1h-3zM576.5 347.3h1v1h-1zM610.5 347.3h1v1h-1zM615.5 347.3h1v1h-1zM578.5 348.3h1v1h-1zM600.5 348.3h6v1h-6zM607.5 348.3h2v1h-2zM582.5 349.3h1v1h-1zM584.5 349.3h1v1h-1zM589.5 349.3h1v1h-1zM591.5 349.3h3v1h-3zM596.5 349.3h1v1h-1zM598.5 349.3h1v1h-1z" fill="#0051ff"/>
<path d="M601.5 269.3h3v1h-3zM601.5 270.3h3v1h-3zM600.5 271.3h5v1h-5zM599.5 272.3h6v1h-6zM599.5 273.3h1v1h-1zM583.5 274.3h3v1h-3zM583.5 275.3h4v1h-4zM606.5 275.3h3v1h-3zM582.5 276.3h5v1h-5zM593.5 276.3h3v1h-3zM600.5 276.3h2v1h-2zM604.5 276.3h6v1h-6zM580.5 277.3h7v1h-7zM592.5 277.3h10v1h-10zM603.5 277.3h6v1h-6zM580.5 278.3h7v1h-7zM588.5 278.3h9v1h-9zM598.5 278.3h10v1h-10zM579.5 279.3h2v1h-2zM588.5 279.3h2v1h-2zM591.5 279.3h1v1h-1zM593.5 279.3h1v1h-1zM595.5 279.3h4v1h-4zM600.5 279.3h3v1h-3zM605.5 279.3h2v1h-2zM577.5 280.3h2v1h-2zM580.5 280.3h1v1h-1zM593.5 280.3h3v1h-3zM597.5 280.3h6v1h-6zM575.5 281.3h3v1h-3zM596.5 281.3h2v1h-2zM600.5 281.3h3v1h-3zM575.5 282.3h2v1h-2zM597.5 282.3h1v1h-1zM601.5 282.3h1v1h-1zM575.5 283.3h2v1h-2zM601.5 283.3h1v1h-1zM575.5 284.3h2v1h-2zM600.5 284.3h2v1h-2zM575.5 285.3h2v1h-2zM600.5 285.3h2v1h-2zM576.5 286.3h1v1h-1zM600.5 286.3h2v1h-2zM575.5 287.3h2v1h-2zM599.5 287.3h1v1h-1zM575.5 288.3h2v1h-2zM599.5 288.3h2v1h-2zM575.5 289.3h2v1h-2zM598.5 289.3h2v1h-2zM575.5 290.3h2v1h-2zM597.5 290.3h3v1h-3zM575.5 291.3h3v1h-3zM597.5 291.3h2v1h-2zM577.5 292.3h1v1h-1zM596.5 292.3h2v1h-2zM577.5 293.3h2v1h-2zM596.5 293.3h2v1h-2zM577.5 294.3h2v1h-2zM595.5 294.3h2v1h-2zM577.5 295.3h3v1h-3zM594.5 295.3h2v1h-2zM578.5 296.3h3v1h-3zM593.5 296.3h1v1h-1zM579.5 297.3h3v1h-3zM593.5 297.3h2v1h-2zM580.5 298.3h5v1h-5zM593.5 298.3h1v1h-1zM582.5 299.3h2v1h-2zM585.5 299.3h1v1h-1zM590.5 299.3h4v1h-4zM585.5 300.3h7v1h-7zM585.5 301.3h4v1h-4zM583.5 336.3h1v1h-1zM585.5 336.3h2v1h-2zM588.5 336.3h2v1h-2zM591.5 336.3h5v1h-5zM579.5 337.3h2v1h-2zM598.5 337.3h3v1h-3zM602.5 337.3h2v1h-2zM605.5 338.3h6v1h-6zM576.5 339.3h1v1h-1zM611.5 339.3h4v1h-4zM614.5 340.3h2v1h-2zM575.5 341.3h1v1h-1zM615.5 341.3h6v1h-6zM575.5 342.3h1v1h-1zM615.5 342.3h6v1h-6zM615.5 343.3h3v1h-3zM619.5 343.3h2v1h-2zM575.5 344.3h1v1h-1zM613.5 344.3h3v1h-3zM611.5 345.3h3v1h-3zM576.5 346.3h1v1h-1zM609.5 346.3h2v1h-2zM577.5 347.3h1v1h-1zM602.5 347.3h7v1h-7zM580.5 348.3h1v1h-1zM594.5 348.3h6v1h-6zM585.5 349.3h2v1h-2zM588.5 349.3h1v1h-1z" fill="#0076ff"/>
<path d="M583.5 279.3h5v1h-5zM581.5 280.3h12v1h-12zM578.5 281.3h6v1h-6zM588.5 281.3h8v1h-8zM598.5 281.3h2v1h-2zM577.5 282.3h5v1h-5zM594.5 282.3h3v1h-3zM598.5 282.3h3v1h-3zM577.5 283.3h2v1h-2zM596.5 283.3h1v1h-1zM598.5 283.3h3v1h-3zM577.5 284.3h2v1h-2zM595.5 284.3h5v1h-5zM577.5 285.3h1v1h-1zM596.5 285.3h4v1h-4zM577.5 286.3h2v1h-2zM594.5 286.3h6v1h-6zM577.5 287.3h2v1h-2zM594.5 287.3h5v1h-5zM577.5 288.3h2v1h-2zM594.5 288.3h5v1h-5zM577.5 289.3h2v1h-2zM594.5 289.3h4v1h-4zM578.5 290.3h1v1h-1zM595.5 290.3h2v1h-2zM578.5 291.3h2v1h-2zM595.5 291.3h2v1h-2zM578.5 292.3h2v1h-2zM594.5 292.3h2v1h-2zM579.5 293.3h2v1h-2zM593.5 293.3h3v1h-3zM580.5 294.3h1v1h-1zM593.5 294.3h2v1h-2zM580.5 295.3h2v1h-2zM592.5 295.3h2v1h-2zM581.5 296.3h3v1h-3zM592.5 296.3h1v1h-1zM582.5 297.3h5v1h-5zM590.5 297.3h3v1h-3zM585.5 298.3h7v1h-7zM586.5 299.3h4v1h-4zM582.5 337.3h1v1h-1zM585.5 337.3h2v1h-2zM594.5 337.3h4v1h-4zM579.5 338.3h1v1h-1zM601.5 338.3h4v1h-4zM577.5 339.3h1v1h-1zM606.5 339.3h3v1h-3zM610.5 339.3h1v1h-1zM576.5 340.3h1v1h-1zM611.5 340.3h3v1h-3zM576.5 341.3h1v1h-1zM613.5 341.3h2v1h-2zM613.5 342.3h2v1h-2zM612.5 343.3h3v1h-3zM576.5 344.3h1v1h-1zM610.5 344.3h3v1h-3zM576.5 345.3h1v1h-1zM609.5 345.3h2v1h-2zM577.5 346.3h1v1h-1zM602.5 346.3h2v1h-2zM606.5 346.3h3v1h-3zM579.5 347.3h1v1h-1zM598.5 347.3h3v1h-3zM583.5 348.3h2v1h-2zM586.5 348.3h2v1h-2zM589.5 348.3h1v1h-1zM591.5 348.3h2v1h-2z" fill="#009aff"/>
<path d="M584.5 281.3h4v1h-4zM582.5 282.3h12v1h-12zM579.5 283.3h5v1h-5zM588.5 283.3h7v1h-7zM579.5 284.3h4v1h-4zM590.5 284.3h5v1h-5zM578.5 285.3h4v1h-4zM592.5 285.3h3v1h-3zM579.5 286.3h1v1h-1zM592.5 286.3h1v1h-1zM579.5 287.3h2v1h-2zM592.5 287.3h2v1h-2zM579.5 288.3h2v1h-2zM592.5 288.3h2v1h-2zM579.5 289.3h2v1h-2zM592.5 289.3h2v1h-2zM579.5 290.3h2v1h-2zM592.5 290.3h3v1h-3zM580.5 291.3h1v1h-1zM592.5 291.3h3v1h-3zM580.5 292.3h3v1h-3zM592.5 292.3h2v1h-2zM581.5 293.3h2v1h-2zM591.5 293.3h2v1h-2zM581.5 294.3h3v1h-3zM591.5 294.3h2v1h-2zM582.5 295.3h3v1h-3zM590.5 295.3h2v1h-2zM584.5 296.3h8v1h-8zM587.5 297.3h3v1h-3zM583.5 337.3h2v1h-2zM588.5 337.3h6v1h-6zM580.5 338.3h1v1h-1zM597.5 338.3h4v1h-4zM578.5 339.3h1v1h-1zM602.5 339.3h4v1h-4zM577.5 340.3h1v1h-1zM606.5 340.3h5v1h-5zM609.5 341.3h4v1h-4zM576.5 342.3h1v1h-1zM610.5 342.3h3v1h-3zM576.5 343.3h1v1h-1zM609.5 343.3h3v1h-3zM608.5 344.3h2v1h-2zM577.5 345.3h1v1h-1zM607.5 345.3h2v1h-2zM578.5 346.3h1v1h-1zM600.5 346.3h2v1h-2zM604.5 346.3h1v1h-1zM580.5 347.3h1v1h-1zM593.5 347.3h5v1h-5z" fill="#00bfff"/>
<path d="M584.5 283.3h4v1h-4zM583.5 284.3h7v1h-7zM582.5 285.3h10v1h-10zM580.5 286.3h12v1h-12zM581.5 287.3h11v1h-11zM581.5 288.3h11v1h-11zM581.5 289.3h11v1h-11zM581.5 290.3h7v1h-7zM589.5 290.3h3v1h-3zM581.5 291.3h7v1h-7zM589.5 291.3h3v1h-3zM583.5 292.3h9v1h-9zM583.5 293.3h8v1h-8zM584.5 294.3h7v1h-7zM585.5 295.3h5v1h-5zM581.5 338.3h1v1h-1zM594.5 338.3h3v1h-3zM579.5 339.3h1v1h-1zM599.5 339.3h3v1h-3zM578.5 340.3h1v1h-1zM603.5 340.3h3v1h-3zM577.5 341.3h1v1h-1zM606.5 341.3h3v1h-3zM577.5 342.3h1v1h-1zM608.5 342.3h2v1h-2zM608.5 343.3h1v1h-1zM577.5 344.3h1v1h-1zM607.5 344.3h1v1h-1zM578.5 345.3h1v1h-1zM601.5 345.3h6v1h-6zM579.5 346.3h1v1h-1zM597.5 346.3h3v1h-3zM582.5 347.3h2v1h-2zM586.5 347.3h7v1h-7z" fill="#0eced1"/>
<path d="M588.5 290.3h1v1h-1zM588.5 291.3h1v1h-1zM582.5 338.3h12v1h-12zM580.5 339.3h1v1h-1zM596.5 339.3h3v1h-3zM600.5 340.3h3v1h-3zM603.5 341.3h3v1h-3zM604.5 342.3h4v1h-4zM577.5 343.3h1v1h-1zM604.5 343.3h4v1h-4zM602.5 344.3h5v1h-5zM599.5 345.3h2v1h-2zM580.5 346.3h2v1h-2zM594.5 346.3h3v1h-3zM584.5 347.3h2v1h-2z" fill="#21d598"/>
<path d="M581.5 339.3h1v1h-1zM593.5 339.3h3v1h-3zM579.5 340.3h1v1h-1zM598.5 340.3h2v1h-2zM578.5 341.3h1v1h-1zM601.5 341.3h2v1h-2zM578.5 342.3h1v1h-1zM602.5 342.3h2v1h-2zM578.5 343.3h1v1h-1zM601.5 343.3h3v1h-3zM578.5 344.3h1v1h-1zM600.5 344.3h2v1h-2zM579.5 345.3h1v1h-1zM596.5 345.3h3v1h-3zM582.5 346.3h1v1h-1zM590.5 346.3h4v1h-4z" fill="#34dd5e"/>
<path d="M582.5 339.3h11v1h-11zM580.5 340.3h1v1h-1zM596.5 340.3h2v1h-2zM579.5 341.3h1v1h-1zM599.5 341.3h2v1h-2zM600.5 342.3h2v1h-2zM600.5 343.3h1v1h-1zM579.5 344.3h1v1h-1zM598.5 344.3h2v1h-2zM580.5 345.3h1v1h-1zM594.5 345.3h2v1h-2zM583.5 346.3h7v1h-7z" fill="#62e237"/>
<path d="M581.5 340.3h1v1h-1zM593.5 340.3h3v1h-3zM580.5 341.3h1v1h-1zM597.5 341.3h2v1h-2zM579.5 342.3h1v1h-1zM599.5 342.3h1v1h-1zM579.5 343.3h1v1h-1zM598.5 343.3h2v1h-2zM580.5 344.3h1v1h-1zM596.5 344.3h2v1h-2zM581.5 345.3h2v1h-2zM590.5 345.3h4v1h-4z" fill="#a4e31f"/>
<path d="M582.5 340.3h2v1h-2zM585.5 340.3h8v1h-8zM594.5 341.3h3v1h-3zM580.5 342.3h1v1h-1zM597.5 342.3h2v1h-2zM580.5 343.3h1v1h-1zM596.5 343.3h2v1h-2zM581.5 344.3h1v1h-1zM592.5 344.3h4v1h-4zM583.5 345.3h7v1h-7z" fill="#e6e507"/>
<path d="M584.5 340.3h1v1h-1zM581.5 341.3h1v1h-1zM592.5 341.3h2v1h-2zM581.5 342.3h1v1h-1zM593.5 342.3h4v1h-4zM581.5 343.3h1v1h-1zM593.5 343.3h3v1h-3zM582.5 344.3h1v1h-1zM590.5 344.3h2v1h-2z" fill="#fbba00"/>
<path d="M582.5 341.3h10v1h-10zM582.5 342.3h1v1h-1zM591.5 342.3h2v1h-2zM582.5 343.3h1v1h-1zM590.5 343.3h3v1h-3zM583.5 344.3h7v1h-7z" fill="#fc7b00"/>
<path d="M583.5 342.3h8v1h-8zM583.5 343.3h7v1h-7z" fill="#fe3d00"/>
</g>
<path d="M542.5,232.3V358.3H664.2V232.3" stroke="#333" stroke-width="1" fill="none"/>
<path d="M542.5,232.7h-2.4M542.5,263.6h-2.4M542.5,294.8h-2.4M542.5,342.6h-2.4M542.5,254.2h-1.3M542.5,248.8h-1.3M542.5,244.9h-1.3M542.5,241.9h-1.3M542.5,239.4h-1.3M542.5,237.3h-1.3M542.5,235.5h-1.3M542.5,233.9h-1.3M542.5,285.4h-1.3M542.5,280.0h-1.3M542.5,276.1h-1.3M542.5,273.1h-1.3M542.5,270.6h-1.3M542.5,268.5h-1.3M542.5,266.7h-1.3M542.5,265.1h-1.3M542.5,304.8h-1.3M542.5,311.6h-1.3M542.5,316.9h-1.3M542.5,327.1h-1.3M542.5,357.7h-1.3M557.5,358.3v2.4M602.8,358.3v2.4M633.1,358.3v2.4M663.4,358.3v2.4M611.9,358.3v1.3M617.3,358.3v1.3M621.0,358.3v1.3M624.0,358.3v1.3M626.4,358.3v1.3M628.4,358.3v1.3M630.2,358.3v1.3M631.7,358.3v1.3M642.2,358.3v1.3M647.6,358.3v1.3M651.3,358.3v1.3M654.3,358.3v1.3M656.7,358.3v1.3M658.7,358.3v1.3M660.5,358.3v1.3M662.0,358.3v1.3M545.5,358.3v1.3M572.5,358.3v1.3M582.5,358.3v1.3M588.5,358.3v1.3M593.5,358.3v1.3M597.5,358.3v1.3" stroke="#333" stroke-width="0.7"/>
<text x="526.1" y="244.0" font-size="7.5" font-weight="bold" fill="#1a1a1a">10<tspan font-size="7" dy="-5">3</tspan></text>
<text x="526.1" y="268.5" font-size="7.5" font-weight="bold" fill="#1a1a1a">10<tspan font-size="7" dy="-5">2</tspan></text>
<text x="526.1" y="299.6" font-size="7.5" font-weight="bold" fill="#1a1a1a">10<tspan font-size="7" dy="-5">1</tspan></text>
<text x="529.9" y="345.7" font-size="7.5" font-weight="bold" fill="#1a1a1a">0</text>
<text x="556.3" y="371.6" font-size="7.5" font-weight="bold" fill="#1a1a1a">0</text>
<text x="600.7" y="371.6" font-size="7.5" font-weight="bold" fill="#1a1a1a">10<tspan font-size="7" dy="-5">1</tspan></text>
<text x="631.5" y="371.6" font-size="7.5" font-weight="bold" fill="#1a1a1a">10<tspan font-size="7" dy="-5">2</tspan></text>
<text x="651.4" y="371.6" font-size="7.5" font-weight="bold" fill="#1a1a1a">10<tspan font-size="7" dy="-5">3</tspan></text>
<text x="582.5" y="383.0" font-size="12.97" font-weight="bold" fill="#000">FSC-A</text>
</svg></body></html>
